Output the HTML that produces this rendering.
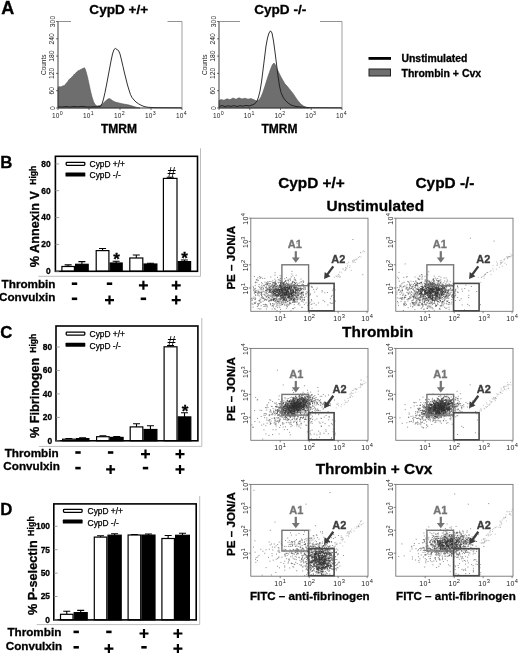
<!DOCTYPE html>
<html><head><meta charset="utf-8"><title>Figure</title>
<style>
html,body{margin:0;padding:0;background:#fff;}
body{width:520px;height:653px;overflow:hidden;font-family:"Liberation Sans",sans-serif;}
svg{display:block;will-change:transform;}
svg text{font-family:"Liberation Sans",sans-serif;}
</style></head><body>
<svg width="520" height="653" viewBox="0 0 520 653">
<defs><filter id="bl" x="-5%" y="-5%" width="110%" height="110%"><feGaussianBlur stdDeviation="0.35"/></filter></defs>
<rect width="520" height="653" fill="#fff"/>
<text x="1.2" y="14" font-size="18" font-weight="bold" text-anchor="start" fill="#000"  stroke="#000" stroke-width="0.3">A</text>
<path d="M58.0,108.0 L58.0,87.4 L59.5,86.5 L61.0,87.0 L62.5,86.0 L64.5,85.6 L66.0,83.6 L67.0,82.4 L68.0,81.2 L69.0,79.5 L70.0,79.0 L71.5,77.3 L73.0,76.2 L74.0,74.3 L75.0,74.4 L76.0,72.5 L77.0,72.2 L78.0,70.6 L79.0,71.0 L80.0,69.6 L81.0,70.0 L82.0,68.6 L83.0,68.8 L84.0,67.6 L85.0,68.5 L86.0,71.5 L87.5,77.0 L89.0,84.0 L90.5,91.0 L92.0,97.0 L93.5,101.5 L95.0,104.5 L97.0,106.0 L100.0,105.5 L102.0,104.5 L104.0,102.5 L106.0,100.5 L108.0,99.0 L109.5,98.5 L111.0,99.5 L113.0,101.0 L116.0,102.3 L119.0,103.0 L122.0,103.7 L125.0,104.3 L128.0,104.8 L131.0,105.6 L134.0,106.6 L137.0,107.4 L140.0,108.0 Z" fill="#6e6e6e" stroke="#555" stroke-width="0.6"/>
<path d="M58.0,106.8 L62.0,107.0 L66.0,106.5 L70.0,107.0 L74.0,106.4 L78.0,106.8 L82.0,106.3 L86.0,106.8 L90.0,107.0 L94.0,106.7 L98.0,106.8 L100.5,106.3 L102.0,104.0 L103.5,99.0 L105.0,92.5 L106.5,85.0 L108.0,77.0 L109.5,69.0 L111.0,61.0 L112.5,54.0 L114.0,49.5 L115.5,48.4 L117.0,49.6 L118.5,50.5 L120.0,54.0 L121.5,60.0 L123.0,66.5 L124.5,73.0 L126.0,79.0 L127.5,85.0 L129.0,90.0 L130.5,94.5 L132.0,97.5 L134.0,100.0 L136.0,102.0 L138.5,103.8 L141.0,105.2 L144.0,106.5 L148.0,107.3 L155.0,107.6 L182.0,107.8" fill="none" stroke="#1a1a1a" stroke-width="0.9" stroke-linejoin="round"/>
<path d="M58,21.5 V108 H182" fill="none" stroke="#333" stroke-width="0.95"/>
<path d="M182,21.5 V108" fill="none" stroke="#888" stroke-width="0.8"/>
<path d="M58,21.5 H71 M167.5,21.5 H182" fill="none" stroke="#777" stroke-width="0.8"/>
<path d="M56,108.0 H58" stroke="#333" stroke-width="0.7"/>
<text x="54.5" y="108.0" font-size="6.8" font-weight="normal" text-anchor="middle" fill="#222" transform="rotate(-90 54.5 108.0)" >0</text>
<path d="M56,90.7 H58" stroke="#333" stroke-width="0.7"/>
<text x="54.5" y="90.7" font-size="6.8" font-weight="normal" text-anchor="middle" fill="#222" transform="rotate(-90 54.5 90.7)" >60</text>
<path d="M56,73.4 H58" stroke="#333" stroke-width="0.7"/>
<text x="54.5" y="73.4" font-size="6.8" font-weight="normal" text-anchor="middle" fill="#222" transform="rotate(-90 54.5 73.4)" >120</text>
<path d="M56,56.1 H58" stroke="#333" stroke-width="0.7"/>
<text x="54.5" y="56.1" font-size="6.8" font-weight="normal" text-anchor="middle" fill="#222" transform="rotate(-90 54.5 56.1)" >180</text>
<path d="M56,38.8 H58" stroke="#333" stroke-width="0.7"/>
<text x="54.5" y="38.8" font-size="6.8" font-weight="normal" text-anchor="middle" fill="#222" transform="rotate(-90 54.5 38.8)" >240</text>
<path d="M56,21.5 H58" stroke="#333" stroke-width="0.7"/>
<text x="54.5" y="21.5" font-size="6.8" font-weight="normal" text-anchor="middle" fill="#222" transform="rotate(-90 54.5 21.5)" >300</text>
<text x="45.5" y="64.75" font-size="6.5" font-weight="normal" text-anchor="middle" fill="#222" transform="rotate(-90 45.5 64.75)" >Counts</text>
<path d="M58.0,108 V110" stroke="#333" stroke-width="0.7"/>
<text x="57.5" y="117.5" font-size="6.5" font-weight="normal" text-anchor="middle" fill="#222" letter-spacing="0.3">10<tspan dy="-2.7" font-size="5.3">0</tspan></text>
<path d="M89.0,108 V110" stroke="#333" stroke-width="0.7"/>
<text x="88.5" y="117.5" font-size="6.5" font-weight="normal" text-anchor="middle" fill="#222" letter-spacing="0.3">10<tspan dy="-2.7" font-size="5.3">1</tspan></text>
<path d="M120.0,108 V110" stroke="#333" stroke-width="0.7"/>
<text x="119.5" y="117.5" font-size="6.5" font-weight="normal" text-anchor="middle" fill="#222" letter-spacing="0.3">10<tspan dy="-2.7" font-size="5.3">2</tspan></text>
<path d="M151.0,108 V110" stroke="#333" stroke-width="0.7"/>
<text x="150.5" y="117.5" font-size="6.5" font-weight="normal" text-anchor="middle" fill="#222" letter-spacing="0.3">10<tspan dy="-2.7" font-size="5.3">3</tspan></text>
<path d="M182.0,108 V110" stroke="#333" stroke-width="0.7"/>
<text x="181.5" y="117.5" font-size="6.5" font-weight="normal" text-anchor="middle" fill="#222" letter-spacing="0.3">10<tspan dy="-2.7" font-size="5.3">4</tspan></text>
<text x="118.8" y="13.8" font-size="13.6" font-weight="bold" text-anchor="middle" fill="#000"  stroke="#000" stroke-width="0.3">CypD +/+</text>
<text x="119.0" y="133" font-size="12" font-weight="bold" text-anchor="middle" fill="#000"  stroke="#000" stroke-width="0.3">TMRM</text>
<path d="M219.0,108.0 L219.0,100.5 L221.0,99.5 L224.0,100.3 L227.0,98.8 L230.0,99.8 L233.0,98.0 L236.0,99.3 L239.0,97.8 L242.0,99.0 L245.0,98.2 L248.0,99.2 L251.0,98.6 L254.0,99.8 L256.5,101.0 L259.0,100.0 L261.0,97.0 L263.0,92.0 L265.0,86.0 L267.0,79.5 L269.0,73.5 L271.0,68.0 L272.5,64.5 L274.0,63.0 L275.5,65.0 L277.0,69.0 L279.0,73.0 L281.0,77.0 L283.0,80.5 L285.0,84.0 L287.0,86.0 L289.0,88.5 L291.0,91.0 L293.0,93.5 L295.0,96.5 L297.0,99.5 L299.0,102.0 L301.0,104.3 L303.5,106.0 L306.0,107.2 L309.0,108.0 Z" fill="#6e6e6e" stroke="#555" stroke-width="0.6"/>
<path d="M219.0,106.5 L222.0,105.5 L225.0,106.6 L228.0,105.8 L231.0,106.4 L234.0,105.6 L237.0,106.5 L240.0,105.7 L243.0,106.2 L246.0,105.4 L249.0,106.0 L252.0,105.0 L254.5,104.0 L257.0,101.0 L258.5,97.0 L260.0,91.0 L261.5,82.0 L263.0,70.0 L264.5,58.0 L266.0,46.0 L267.5,38.0 L269.0,33.0 L270.5,30.8 L272.0,33.0 L273.5,41.0 L275.0,52.0 L276.5,64.0 L278.0,76.0 L279.5,86.0 L281.0,92.5 L283.0,97.0 L285.0,100.0 L288.0,103.0 L291.0,105.0 L295.0,106.3 L300.0,107.0 L310.0,107.6 L342.0,107.8" fill="none" stroke="#1a1a1a" stroke-width="0.9" stroke-linejoin="round"/>
<path d="M219,21.5 V108 H342" fill="none" stroke="#333" stroke-width="0.95"/>
<path d="M342,21.5 V108" fill="none" stroke="#888" stroke-width="0.8"/>
<path d="M219,21.5 H240 M320,21.5 H342" fill="none" stroke="#777" stroke-width="0.8"/>
<path d="M217,108.0 H219" stroke="#333" stroke-width="0.7"/>
<text x="215.5" y="108.0" font-size="6.8" font-weight="normal" text-anchor="middle" fill="#222" transform="rotate(-90 215.5 108.0)" >0</text>
<path d="M217,90.7 H219" stroke="#333" stroke-width="0.7"/>
<text x="215.5" y="90.7" font-size="6.8" font-weight="normal" text-anchor="middle" fill="#222" transform="rotate(-90 215.5 90.7)" >60</text>
<path d="M217,73.4 H219" stroke="#333" stroke-width="0.7"/>
<text x="215.5" y="73.4" font-size="6.8" font-weight="normal" text-anchor="middle" fill="#222" transform="rotate(-90 215.5 73.4)" >120</text>
<path d="M217,56.1 H219" stroke="#333" stroke-width="0.7"/>
<text x="215.5" y="56.1" font-size="6.8" font-weight="normal" text-anchor="middle" fill="#222" transform="rotate(-90 215.5 56.1)" >180</text>
<path d="M217,38.8 H219" stroke="#333" stroke-width="0.7"/>
<text x="215.5" y="38.8" font-size="6.8" font-weight="normal" text-anchor="middle" fill="#222" transform="rotate(-90 215.5 38.8)" >240</text>
<path d="M217,21.5 H219" stroke="#333" stroke-width="0.7"/>
<text x="215.5" y="21.5" font-size="6.8" font-weight="normal" text-anchor="middle" fill="#222" transform="rotate(-90 215.5 21.5)" >300</text>
<text x="206.5" y="64.75" font-size="6.5" font-weight="normal" text-anchor="middle" fill="#222" transform="rotate(-90 206.5 64.75)" >Counts</text>
<path d="M219.0,108 V110" stroke="#333" stroke-width="0.7"/>
<text x="218.5" y="117.5" font-size="6.5" font-weight="normal" text-anchor="middle" fill="#222" letter-spacing="0.3">10<tspan dy="-2.7" font-size="5.3">0</tspan></text>
<path d="M249.8,108 V110" stroke="#333" stroke-width="0.7"/>
<text x="249.2" y="117.5" font-size="6.5" font-weight="normal" text-anchor="middle" fill="#222" letter-spacing="0.3">10<tspan dy="-2.7" font-size="5.3">1</tspan></text>
<path d="M280.5,108 V110" stroke="#333" stroke-width="0.7"/>
<text x="280.0" y="117.5" font-size="6.5" font-weight="normal" text-anchor="middle" fill="#222" letter-spacing="0.3">10<tspan dy="-2.7" font-size="5.3">2</tspan></text>
<path d="M311.2,108 V110" stroke="#333" stroke-width="0.7"/>
<text x="310.8" y="117.5" font-size="6.5" font-weight="normal" text-anchor="middle" fill="#222" letter-spacing="0.3">10<tspan dy="-2.7" font-size="5.3">3</tspan></text>
<path d="M342.0,108 V110" stroke="#333" stroke-width="0.7"/>
<text x="341.5" y="117.5" font-size="6.5" font-weight="normal" text-anchor="middle" fill="#222" letter-spacing="0.3">10<tspan dy="-2.7" font-size="5.3">4</tspan></text>
<text x="280.2" y="13.8" font-size="13.6" font-weight="bold" text-anchor="middle" fill="#000"  stroke="#000" stroke-width="0.3">CypD -/-</text>
<text x="279.5" y="133" font-size="12" font-weight="bold" text-anchor="middle" fill="#000"  stroke="#000" stroke-width="0.3">TMRM</text>
<rect x="368.5" y="57" width="22.5" height="2.8" fill="#000"/>
<rect x="369" y="69" width="21.5" height="7" fill="#6e6e6e" stroke="#222" stroke-width="1"/>
<text x="401.5" y="62" font-size="10.4" font-weight="bold" text-anchor="start" fill="#000"  stroke="#000" stroke-width="0.3">Unstimulated</text>
<text x="401.5" y="77.4" font-size="10.5" font-weight="bold" text-anchor="start" fill="#000"  stroke="#000" stroke-width="0.3">Thrombin + Cvx</text>
<path d="M38.4,276.3 H200.5 V148.3" fill="none" stroke="#bdbdbd" stroke-width="1"/>
<text x="0.3" y="167.9" font-size="16.8" font-weight="bold" text-anchor="start" fill="#000"  stroke="#000" stroke-width="0.3">B</text>
<path d="M68.15,266.5 V264.9 M64.65,264.9 H71.65" stroke="#000" stroke-width="1.1" fill="none"/>
<rect x="61.9" y="266.5" width="12.5" height="4.8" fill="#fff" stroke="#000" stroke-width="1.2"/>
<path d="M81.9,264.3 V261.6 M78.4,261.6 H85.4" stroke="#000" stroke-width="1.1" fill="none"/>
<rect x="75.6" y="264.3" width="12.6" height="7.0" fill="#000" stroke="#000" stroke-width="1.2"/>
<path d="M102.55,250.6 V248.5 M99.05,248.5 H106.05" stroke="#000" stroke-width="1.1" fill="none"/>
<rect x="96.2" y="250.6" width="12.7" height="20.7" fill="#fff" stroke="#000" stroke-width="1.2"/>
<path d="M116.15,263.0 V261.2 M112.65,261.2 H119.65" stroke="#000" stroke-width="1.1" fill="none"/>
<rect x="110.1" y="263.0" width="12.1" height="8.3" fill="#000" stroke="#000" stroke-width="1.2"/>
<path d="M136.3,258.0 V255.0 M132.8,255.0 H139.8" stroke="#000" stroke-width="1.1" fill="none"/>
<rect x="129.8" y="258.0" width="13.0" height="13.3" fill="#fff" stroke="#000" stroke-width="1.2"/>
<path d="M150.45,264.0 V263.2 M146.95,263.2 H153.95" stroke="#000" stroke-width="1.1" fill="none"/>
<rect x="144.0" y="264.0" width="12.9" height="7.3" fill="#000" stroke="#000" stroke-width="1.2"/>
<path d="M170.2,178.4 V177.3 M166.7,177.3 H173.7" stroke="#000" stroke-width="1.1" fill="none"/>
<rect x="163.4" y="178.4" width="13.6" height="92.9" fill="#fff" stroke="#000" stroke-width="1.2"/>
<path d="M184.39999999999998,261.6 V260.0 M180.89999999999998,260.0 H187.89999999999998" stroke="#000" stroke-width="1.1" fill="none"/>
<rect x="178.2" y="261.6" width="12.4" height="9.7" fill="#000" stroke="#000" stroke-width="1.2"/>
<rect x="55.4" y="156.3" width="142.1" height="115.0" fill="none" stroke="#000" stroke-width="1.6"/>
<path d="M55.4,271.3 H59.199999999999996" stroke="#8a8a8a" stroke-width="0.8"/>
<text x="50.6" y="274.1" font-size="8.4" font-weight="bold" text-anchor="end" fill="#000"  stroke="#000" stroke-width="0.3">0</text>
<path d="M55.4,244.4 H59.199999999999996" stroke="#8a8a8a" stroke-width="0.8"/>
<text x="50.6" y="247.2" font-size="8.4" font-weight="bold" text-anchor="end" fill="#000"  stroke="#000" stroke-width="0.3">20</text>
<path d="M55.4,217.6 H59.199999999999996" stroke="#8a8a8a" stroke-width="0.8"/>
<text x="50.6" y="220.4" font-size="8.4" font-weight="bold" text-anchor="end" fill="#000"  stroke="#000" stroke-width="0.3">40</text>
<path d="M55.4,190.7 H59.199999999999996" stroke="#8a8a8a" stroke-width="0.8"/>
<text x="50.6" y="193.5" font-size="8.4" font-weight="bold" text-anchor="end" fill="#000"  stroke="#000" stroke-width="0.3">60</text>
<path d="M55.4,163.9 H59.199999999999996" stroke="#8a8a8a" stroke-width="0.8"/>
<text x="50.6" y="166.7" font-size="8.4" font-weight="bold" text-anchor="end" fill="#000"  stroke="#000" stroke-width="0.3">80</text>
<rect x="66.2" y="162.3" width="18.6" height="3.0" rx="0.8" fill="#fff" stroke="#000" stroke-width="1.3"/>
<rect x="65.5" y="172.6" width="19.8" height="3.9" rx="0.6" fill="#000"/>
<text x="89.6" y="167.1" font-size="8.4" font-weight="normal" text-anchor="start" fill="#000" stroke="#000" stroke-width="0.25">CypD +/+</text>
<text x="89.6" y="178.4" font-size="8.4" font-weight="normal" text-anchor="start" fill="#000" stroke="#000" stroke-width="0.25">CypD -/-</text>
<text x="39.2" y="267.3" font-size="12.7" font-weight="bold" text-anchor="start" fill="#000" transform="rotate(-90 39.2 267.3)"  stroke="#000" stroke-width="0.3">% Annexin V</text>
<text x="35.8" y="184.8" font-size="8.6" font-weight="bold" text-anchor="start" fill="#000" transform="rotate(-90 35.8 184.8)"  stroke="#000" stroke-width="0.3">High</text>
<text x="55.5" y="288" font-size="11.7" font-weight="bold" text-anchor="end" fill="#000"  stroke="#000" stroke-width="0.3">Thrombin</text>
<text x="55.5" y="301.0" font-size="11.7" font-weight="bold" text-anchor="end" fill="#000"  stroke="#000" stroke-width="0.3">Convulxin</text>
<path d="M71.8,283.7 H77.2" stroke="#000" stroke-width="2.6"/>
<path d="M71.8,298.8 H77.2" stroke="#000" stroke-width="2.6"/>
<path d="M106.8,283.7 H112.2" stroke="#000" stroke-width="2.6"/>
<path d="M105.0,300.1 H114.0 M109.5,295.6 V304.6" stroke="#000" stroke-width="2.2"/>
<path d="M138.9,285.3 H147.9 M143.4,280.8 V289.8" stroke="#000" stroke-width="2.2"/>
<path d="M140.70000000000002,298.8 H146.1" stroke="#000" stroke-width="2.6"/>
<path d="M171.7,285.3 H180.7 M176.2,280.8 V289.8" stroke="#000" stroke-width="2.2"/>
<path d="M171.7,300.1 H180.7 M176.2,295.6 V304.6" stroke="#000" stroke-width="2.2"/>
<text x="171.7" y="177.3" font-size="15" font-weight="normal" text-anchor="middle" fill="#000" >#</text>
<text x="116.5" y="265.2" font-size="17" font-weight="bold" text-anchor="middle" fill="#000"  stroke="#000" stroke-width="0.3">*</text>
<text x="184.6" y="264.4" font-size="17" font-weight="bold" text-anchor="middle" fill="#000"  stroke="#000" stroke-width="0.3">*</text>
<path d="M39,446.4 H201.8 V318" fill="none" stroke="#bdbdbd" stroke-width="1"/>
<text x="0.3" y="337.9" font-size="16.8" font-weight="bold" text-anchor="start" fill="#000"  stroke="#000" stroke-width="0.3">C</text>
<path d="M68.9,439.2 V438.6 M65.4,438.6 H72.4" stroke="#000" stroke-width="1.1" fill="none"/>
<rect x="62.6" y="439.2" width="12.6" height="1.6" fill="#fff" stroke="#000" stroke-width="1.2"/>
<path d="M82.65,438.6 V437.9 M79.15,437.9 H86.15" stroke="#000" stroke-width="1.1" fill="none"/>
<rect x="76.4" y="438.6" width="12.5" height="2.2" fill="#000" stroke="#000" stroke-width="1.2"/>
<path d="M102.9,436.7 V435.8 M99.4,435.8 H106.4" stroke="#000" stroke-width="1.1" fill="none"/>
<rect x="96.6" y="436.7" width="12.6" height="4.1" fill="#fff" stroke="#000" stroke-width="1.2"/>
<path d="M116.75,437.4 V436.5 M113.25,436.5 H120.25" stroke="#000" stroke-width="1.1" fill="none"/>
<rect x="110.4" y="437.4" width="12.7" height="3.4" fill="#000" stroke="#000" stroke-width="1.2"/>
<path d="M136.5,426.9 V423.8 M133.0,423.8 H140.0" stroke="#000" stroke-width="1.1" fill="none"/>
<rect x="130.2" y="426.9" width="12.6" height="13.9" fill="#fff" stroke="#000" stroke-width="1.2"/>
<path d="M150.45,429.5 V425.8 M146.95,425.8 H153.95" stroke="#000" stroke-width="1.1" fill="none"/>
<rect x="144.0" y="429.5" width="12.9" height="11.3" fill="#000" stroke="#000" stroke-width="1.2"/>
<path d="M170.55,346.8 V345.6 M167.05,345.6 H174.05" stroke="#000" stroke-width="1.1" fill="none"/>
<rect x="164.1" y="346.8" width="12.9" height="94.0" fill="#fff" stroke="#000" stroke-width="1.2"/>
<path d="M184.5,416.9 V412.7 M181.0,412.7 H188.0" stroke="#000" stroke-width="1.1" fill="none"/>
<rect x="178.2" y="416.9" width="12.6" height="23.9" fill="#000" stroke="#000" stroke-width="1.2"/>
<rect x="56" y="326" width="141.9" height="114.80000000000001" fill="none" stroke="#000" stroke-width="1.6"/>
<path d="M56,440.8 H59.8" stroke="#8a8a8a" stroke-width="0.8"/>
<text x="52.2" y="443.6" font-size="8.4" font-weight="bold" text-anchor="end" fill="#000"  stroke="#000" stroke-width="0.3">0</text>
<path d="M56,417.4 H59.8" stroke="#8a8a8a" stroke-width="0.8"/>
<text x="52.2" y="420.2" font-size="8.4" font-weight="bold" text-anchor="end" fill="#000"  stroke="#000" stroke-width="0.3">20</text>
<path d="M56,393.9 H59.8" stroke="#8a8a8a" stroke-width="0.8"/>
<text x="52.2" y="396.7" font-size="8.4" font-weight="bold" text-anchor="end" fill="#000"  stroke="#000" stroke-width="0.3">40</text>
<path d="M56,370.5 H59.8" stroke="#8a8a8a" stroke-width="0.8"/>
<text x="52.2" y="373.3" font-size="8.4" font-weight="bold" text-anchor="end" fill="#000"  stroke="#000" stroke-width="0.3">60</text>
<path d="M56,347.0 H59.8" stroke="#8a8a8a" stroke-width="0.8"/>
<text x="52.2" y="349.8" font-size="8.4" font-weight="bold" text-anchor="end" fill="#000"  stroke="#000" stroke-width="0.3">80</text>
<rect x="66.2" y="332.1" width="18.6" height="3.0" rx="0.8" fill="#fff" stroke="#000" stroke-width="1.3"/>
<rect x="65.5" y="342.8" width="19.8" height="3.9" rx="0.6" fill="#000"/>
<text x="89.6" y="336.9" font-size="8.4" font-weight="normal" text-anchor="start" fill="#000" stroke="#000" stroke-width="0.25">CypD +/+</text>
<text x="89.6" y="348.6" font-size="8.4" font-weight="normal" text-anchor="start" fill="#000" stroke="#000" stroke-width="0.25">CypD -/-</text>
<text x="39.4" y="438" font-size="12.7" font-weight="bold" text-anchor="start" fill="#000" transform="rotate(-90 39.4 438)"  stroke="#000" stroke-width="0.3">% Fibrinogen</text>
<text x="35.8" y="352.8" font-size="8.6" font-weight="bold" text-anchor="start" fill="#000" transform="rotate(-90 35.8 352.8)"  stroke="#000" stroke-width="0.3">High</text>
<text x="58.6" y="456.8" font-size="11.7" font-weight="bold" text-anchor="end" fill="#000"  stroke="#000" stroke-width="0.3">Thrombin</text>
<text x="59.8" y="470.3" font-size="11.7" font-weight="bold" text-anchor="end" fill="#000"  stroke="#000" stroke-width="0.3">Convulxin</text>
<path d="M75.3,452.5 H80.7" stroke="#000" stroke-width="2.6"/>
<path d="M75.3,468.1 H80.7" stroke="#000" stroke-width="2.6"/>
<path d="M107.89999999999999,452.5 H113.3" stroke="#000" stroke-width="2.6"/>
<path d="M106.1,469.40000000000003 H115.1 M110.6,464.90000000000003 V473.90000000000003" stroke="#000" stroke-width="2.2"/>
<path d="M141.0,454.1 H150.0 M145.5,449.6 V458.6" stroke="#000" stroke-width="2.2"/>
<path d="M142.8,468.1 H148.2" stroke="#000" stroke-width="2.6"/>
<path d="M175.5,454.1 H184.5 M180,449.6 V458.6" stroke="#000" stroke-width="2.2"/>
<path d="M175.5,469.40000000000003 H184.5 M180,464.90000000000003 V473.90000000000003" stroke="#000" stroke-width="2.2"/>
<text x="171.7" y="346" font-size="15" font-weight="normal" text-anchor="middle" fill="#000" >#</text>
<text x="185" y="417" font-size="17" font-weight="bold" text-anchor="middle" fill="#000"  stroke="#000" stroke-width="0.3">*</text>
<path d="M36.8,624.6 H199.7 V495.9" fill="none" stroke="#bdbdbd" stroke-width="1"/>
<text x="0.3" y="514.9" font-size="16.8" font-weight="bold" text-anchor="start" fill="#000"  stroke="#000" stroke-width="0.3">D</text>
<path d="M66.75,614.3 V611.3 M63.25,611.3 H70.25" stroke="#000" stroke-width="1.1" fill="none"/>
<rect x="60.5" y="614.3" width="12.5" height="5.6" fill="#fff" stroke="#000" stroke-width="1.2"/>
<path d="M80.69999999999999,612.6 V610.4 M77.19999999999999,610.4 H84.19999999999999" stroke="#000" stroke-width="1.1" fill="none"/>
<rect x="74.2" y="612.6" width="13.0" height="7.3" fill="#000" stroke="#000" stroke-width="1.2"/>
<path d="M100.55000000000001,537.1 V535.8 M97.05000000000001,535.8 H104.05000000000001" stroke="#000" stroke-width="1.1" fill="none"/>
<rect x="94.3" y="537.1" width="12.5" height="82.8" fill="#fff" stroke="#000" stroke-width="1.2"/>
<path d="M114.6,535.2 V533.7 M111.1,533.7 H118.1" stroke="#000" stroke-width="1.1" fill="none"/>
<rect x="108.0" y="535.2" width="13.2" height="84.7" fill="#000" stroke="#000" stroke-width="1.2"/>
<path d="M134.4,535.0 V534.5 M130.9,534.5 H137.9" stroke="#000" stroke-width="1.1" fill="none"/>
<rect x="128.1" y="535.0" width="12.6" height="84.9" fill="#fff" stroke="#000" stroke-width="1.2"/>
<path d="M148.45,535.1 V534.0 M144.95,534.0 H151.95" stroke="#000" stroke-width="1.1" fill="none"/>
<rect x="141.9" y="535.1" width="13.1" height="84.8" fill="#000" stroke="#000" stroke-width="1.2"/>
<path d="M168.15,538.5 V535.5 M164.65,535.5 H171.65" stroke="#000" stroke-width="1.1" fill="none"/>
<rect x="161.9" y="538.5" width="12.5" height="81.4" fill="#fff" stroke="#000" stroke-width="1.2"/>
<path d="M182.5,535.3 V533.2 M179.0,533.2 H186.0" stroke="#000" stroke-width="1.1" fill="none"/>
<rect x="175.6" y="535.3" width="13.8" height="84.6" fill="#000" stroke="#000" stroke-width="1.2"/>
<rect x="53.8" y="503.9" width="142.39999999999998" height="116.0" fill="none" stroke="#000" stroke-width="1.6"/>
<path d="M53.8,619.9 H57.599999999999994" stroke="#8a8a8a" stroke-width="0.8"/>
<text x="50.0" y="622.7" font-size="8.4" font-weight="bold" text-anchor="end" fill="#000"  stroke="#000" stroke-width="0.3">0</text>
<path d="M53.8,596.5 H57.599999999999994" stroke="#8a8a8a" stroke-width="0.8"/>
<text x="50.0" y="599.3" font-size="8.4" font-weight="bold" text-anchor="end" fill="#000"  stroke="#000" stroke-width="0.3">25</text>
<path d="M53.8,573.1 H57.599999999999994" stroke="#8a8a8a" stroke-width="0.8"/>
<text x="50.0" y="575.9" font-size="8.4" font-weight="bold" text-anchor="end" fill="#000"  stroke="#000" stroke-width="0.3">50</text>
<path d="M53.8,549.7 H57.599999999999994" stroke="#8a8a8a" stroke-width="0.8"/>
<text x="50.0" y="552.5" font-size="8.4" font-weight="bold" text-anchor="end" fill="#000"  stroke="#000" stroke-width="0.3">75</text>
<path d="M53.8,526.3 H57.599999999999994" stroke="#8a8a8a" stroke-width="0.8"/>
<text x="50.0" y="529.1" font-size="8.4" font-weight="bold" text-anchor="end" fill="#000"  stroke="#000" stroke-width="0.3">100</text>
<rect x="63.5" y="509.3" width="18.6" height="3.0" rx="0.8" fill="#fff" stroke="#000" stroke-width="1.3"/>
<rect x="62.8" y="519.6" width="19.8" height="3.9" rx="0.6" fill="#000"/>
<text x="87.6" y="514.1" font-size="8.4" font-weight="normal" text-anchor="start" fill="#000" stroke="#000" stroke-width="0.25">CypD +/+</text>
<text x="87.6" y="525.5" font-size="8.4" font-weight="normal" text-anchor="start" fill="#000" stroke="#000" stroke-width="0.25">CypD -/-</text>
<text x="37" y="615" font-size="12.7" font-weight="bold" text-anchor="start" fill="#000" transform="rotate(-90 37 615)"  stroke="#000" stroke-width="0.3">% P-selectin</text>
<text x="33.8" y="535.9" font-size="8.9" font-weight="bold" text-anchor="start" fill="#000" transform="rotate(-90 33.8 535.9)"  stroke="#000" stroke-width="0.3">High</text>
<text x="61.3" y="636.2" font-size="11.7" font-weight="bold" text-anchor="end" fill="#000"  stroke="#000" stroke-width="0.3">Thrombin</text>
<text x="62.2" y="649.5" font-size="11.7" font-weight="bold" text-anchor="end" fill="#000"  stroke="#000" stroke-width="0.3">Convulxin</text>
<path d="M73.5,631.9000000000001 H78.9" stroke="#000" stroke-width="2.6"/>
<path d="M73.5,647.3 H78.9" stroke="#000" stroke-width="2.6"/>
<path d="M106.2,631.9000000000001 H111.60000000000001" stroke="#000" stroke-width="2.6"/>
<path d="M104.4,648.6 H113.4 M108.9,644.1 V653.1" stroke="#000" stroke-width="2.2"/>
<path d="M139.5,633.5 H148.5 M144,629.0 V638.0" stroke="#000" stroke-width="2.2"/>
<path d="M141.3,647.3 H146.7" stroke="#000" stroke-width="2.6"/>
<path d="M173.4,633.5 H182.4 M177.9,629.0 V638.0" stroke="#000" stroke-width="2.2"/>
<path d="M173.4,648.6 H182.4 M177.9,644.1 V653.1" stroke="#000" stroke-width="2.2"/>
<text x="311.5" y="188" font-size="15.4" font-weight="bold" text-anchor="middle" fill="#000"  stroke="#000" stroke-width="0.3">CypD +/+</text>
<text x="445" y="188" font-size="15.4" font-weight="bold" text-anchor="middle" fill="#000"  stroke="#000" stroke-width="0.3">CypD -/-</text>
<text x="375.3" y="211" font-size="15.4" font-weight="bold" text-anchor="middle" fill="#000"  stroke="#000" stroke-width="0.3">Unstimulated</text>
<text x="377.6" y="336.6" font-size="15.4" font-weight="bold" text-anchor="middle" fill="#000"  stroke="#000" stroke-width="0.3">Thrombin</text>
<text x="374" y="473.8" font-size="15.4" font-weight="bold" text-anchor="middle" fill="#000"  stroke="#000" stroke-width="0.3">Thrombin + Cvx</text>
<path d="M301.2,281.7h1M281.8,294.1h1M286.3,294.6h1M289.6,285.9h1M278.9,290.9h1M286.0,293.8h1M286.0,283.0h1M270.2,288.0h1M295.1,287.3h1M291.4,294.3h1M280.4,288.6h1M284.4,289.3h1M290.5,287.2h1M283.6,285.2h1M283.8,285.3h1M272.9,290.4h1M291.0,287.6h1M287.1,297.4h1M288.4,287.9h1M272.2,287.7h1M300.8,293.3h1M287.4,295.4h1M282.5,291.6h1M304.2,297.7h1M285.6,289.5h1M272.9,289.7h1M282.3,296.3h1M265.4,291.0h1M295.4,285.6h1M282.2,285.7h1M279.3,285.9h1M295.6,292.1h1M271.1,293.1h1M290.8,293.4h1M267.4,288.1h1M280.0,278.8h1M275.1,283.8h1M299.1,282.9h1M301.9,284.1h1M283.0,299.8h1M293.5,292.3h1M284.4,293.6h1M291.1,284.7h1M279.2,282.3h1M270.6,294.8h1M269.8,291.1h1M289.4,288.3h1M306.2,293.9h1M288.4,294.6h1M281.3,294.9h1M303.2,286.6h1M288.1,296.1h1M286.9,285.3h1M288.3,290.8h1M284.8,287.3h1M283.2,283.1h1M273.1,294.8h1M290.5,295.6h1M285.1,289.0h1M296.7,296.8h1M282.7,295.2h1M268.8,291.9h1M285.1,290.5h1M301.3,297.9h1M282.5,293.3h1M278.0,288.2h1M275.2,284.2h1M276.5,301.7h1M283.3,284.4h1M275.4,286.6h1M299.5,297.0h1M283.4,299.1h1M287.0,289.1h1M298.9,293.5h1M299.5,290.6h1M284.1,286.7h1M289.0,293.2h1M292.6,290.4h1M284.2,288.8h1M270.0,286.6h1M291.9,282.0h1M294.0,282.3h1M289.7,290.0h1M277.7,292.5h1M284.2,278.8h1M280.7,287.9h1M283.3,289.0h1M297.7,297.1h1M299.7,287.2h1M292.0,295.4h1M290.9,293.7h1M292.1,298.3h1M285.9,294.0h1M285.3,291.0h1M279.9,299.2h1M285.5,296.0h1M306.3,291.7h1M293.8,297.9h1M282.9,297.9h1M281.7,295.7h1M278.2,298.7h1M289.3,288.0h1M289.5,296.5h1M273.0,287.2h1M290.4,286.4h1M280.9,297.6h1M298.8,291.1h1M287.4,293.8h1M301.4,297.3h1M281.9,293.0h1M283.4,292.6h1M288.7,287.5h1M295.5,285.9h1M291.1,297.1h1M274.9,293.4h1M287.6,288.5h1M286.2,285.1h1M282.1,304.2h1M280.1,284.5h1M301.7,292.2h1M282.5,283.2h1M278.4,293.5h1M291.7,295.7h1M287.2,291.0h1M285.3,285.1h1M293.0,291.1h1M290.4,303.7h1M289.2,287.7h1M294.7,299.8h1M288.5,296.5h1M280.4,297.4h1M282.7,301.0h1M281.3,297.9h1M287.9,296.5h1M276.3,294.5h1M269.5,291.6h1M286.8,293.1h1M274.0,299.1h1M268.4,292.2h1M289.3,286.1h1M279.6,286.3h1M290.4,290.6h1M281.2,288.0h1M275.9,286.6h1M274.8,284.1h1M281.3,282.3h1M283.5,293.0h1M278.6,292.7h1M283.4,283.5h1M272.2,283.0h1M286.1,283.1h1M269.8,303.7h1M284.2,292.4h1M292.3,308.5h1M295.8,287.4h1M301.4,291.0h1M272.0,291.0h1M292.8,292.0h1M296.8,284.4h1M294.8,292.8h1M277.6,285.8h1M289.7,288.3h1M302.7,289.4h1M272.5,288.8h1M290.3,290.7h1M296.0,297.1h1M279.7,287.5h1M291.2,287.5h1M276.3,292.0h1M278.7,287.4h1M278.6,286.5h1M287.7,298.1h1M285.2,292.0h1M294.6,293.6h1M277.5,296.1h1M284.8,289.6h1M294.6,295.8h1M291.0,293.6h1M274.1,290.0h1M292.0,289.4h1M281.7,289.6h1M289.4,279.4h1M288.7,294.0h1M297.0,290.0h1M287.0,297.7h1M269.3,288.7h1M273.7,285.2h1M292.6,284.9h1M283.7,294.7h1M296.2,292.8h1M288.4,284.6h1M279.2,291.8h1M295.7,286.2h1M278.7,296.4h1M267.5,284.0h1M304.6,285.8h1M268.8,288.8h1M291.7,295.5h1M294.4,292.1h1M287.3,290.5h1M270.8,289.9h1M295.1,291.8h1M273.0,292.4h1M273.9,290.3h1M282.7,283.9h1M293.1,301.9h1M288.7,298.6h1M293.3,299.5h1M282.0,294.9h1M284.4,300.5h1M275.7,288.4h1M283.1,290.8h1M291.3,292.6h1M283.3,294.9h1M290.3,290.5h1M280.8,290.3h1M280.6,289.5h1M286.3,295.1h1M284.2,287.8h1M291.3,299.1h1M287.6,284.7h1M301.6,307.6h1M284.0,294.4h1M283.9,297.7h1M276.6,287.1h1M286.2,299.2h1M292.1,281.6h1M279.3,299.5h1M285.5,280.5h1M292.4,288.9h1M284.8,291.1h1M281.3,289.0h1M294.7,279.7h1M286.9,286.6h1M289.5,303.1h1M296.5,285.0h1M296.3,290.1h1M282.9,299.9h1M281.3,287.3h1M288.5,297.7h1M284.8,290.3h1M268.9,290.0h1M297.5,294.7h1M286.2,287.9h1M292.6,296.7h1M275.4,290.3h1M297.6,294.2h1M280.7,292.3h1M285.0,281.1h1M273.4,290.7h1M284.5,297.0h1M283.9,291.9h1M284.3,295.4h1M289.9,291.1h1M286.5,290.4h1M294.8,290.8h1M281.8,290.8h1M277.0,294.2h1M285.8,288.9h1M291.6,285.7h1M297.2,294.6h1M293.3,291.6h1M270.1,291.0h1M289.4,284.6h1M299.1,285.6h1M286.5,295.2h1M281.3,290.9h1M288.8,299.2h1M281.4,296.4h1M291.7,291.2h1M285.9,287.9h1M298.5,286.2h1M290.5,292.9h1M279.5,298.5h1M291.4,289.2h1M294.4,292.2h1M280.9,289.0h1M282.1,290.4h1M265.2,287.5h1M294.1,287.8h1M280.7,286.8h1M266.9,293.7h1M270.1,286.0h1M284.0,293.9h1M292.8,290.8h1M285.2,281.4h1M290.2,289.4h1M276.1,297.5h1M273.9,283.4h1M294.0,286.0h1M290.4,285.2h1M285.7,290.2h1M297.5,289.5h1M277.4,292.5h1M282.2,295.0h1M295.2,283.2h1M302.5,293.2h1M286.1,293.8h1M301.1,293.6h1M280.6,281.4h1M288.9,286.6h1M284.4,293.2h1M271.7,291.5h1M288.3,288.6h1M294.4,286.6h1M284.6,299.8h1M285.3,286.5h1M298.5,292.4h1M274.7,294.9h1M272.5,293.4h1M280.1,287.1h1M275.2,282.0h1M298.1,290.5h1M288.8,288.3h1M278.2,295.6h1M280.4,288.7h1M311.7,286.9h1M280.5,299.2h1M279.1,294.0h1M288.7,287.1h1M291.7,300.6h1M288.0,293.3h1M277.8,288.1h1M275.5,300.2h1M291.3,293.4h1M285.5,291.0h1M271.2,286.6h1M296.5,298.1h1M293.0,285.4h1M283.8,289.7h1M283.6,284.9h1M288.1,285.1h1M279.8,289.5h1M273.8,288.7h1M288.9,300.5h1M273.0,298.4h1M289.5,296.6h1M273.0,293.1h1M285.1,286.3h1M284.8,300.7h1M302.0,293.0h1M276.4,298.3h1M273.2,299.5h1M280.2,283.5h1M275.9,290.8h1M280.7,282.6h1M289.8,285.0h1M292.9,296.2h1M300.9,301.1h1M279.3,280.3h1M309.7,293.4h1M303.8,297.3h1M284.1,287.6h1M265.4,290.6h1M285.2,294.8h1M286.6,293.1h1M265.3,290.4h1M286.6,290.9h1M284.2,287.3h1M278.9,293.2h1M291.6,293.1h1M295.0,288.1h1M281.6,289.6h1M288.0,285.5h1M280.1,292.6h1M278.9,291.8h1M286.7,297.4h1M290.7,283.3h1M280.9,298.7h1M266.1,290.2h1M291.3,296.0h1M271.6,289.5h1M287.1,287.3h1M302.0,300.0h1M285.8,292.4h1M275.3,300.6h1M272.8,283.8h1M296.5,293.6h1M285.8,299.6h1M290.8,295.0h1M294.3,284.3h1M285.5,283.4h1M283.2,284.5h1M277.5,295.4h1M258.2,292.1h1M272.3,282.6h1M285.4,295.2h1M284.4,293.1h1M289.6,296.3h1M284.8,297.5h1M287.4,284.9h1M293.1,287.9h1M278.0,288.9h1M283.4,288.2h1M271.5,285.9h1M294.7,283.3h1M286.3,291.3h1M290.4,293.1h1M299.9,296.7h1M295.7,285.5h1M285.4,294.0h1M293.1,299.2h1M273.1,292.7h1M289.9,291.2h1M287.2,286.9h1M271.4,286.0h1M298.0,295.2h1M279.6,295.5h1M292.1,293.0h1M282.2,297.7h1M294.9,291.9h1M297.8,288.8h1M278.5,291.1h1M272.2,299.8h1M284.8,297.6h1M293.6,284.5h1M282.6,296.7h1M280.5,287.4h1M290.4,287.9h1M261.1,293.0h1M280.0,296.6h1M273.5,290.2h1M288.6,296.0h1M279.4,292.2h1M275.9,290.7h1M282.8,295.1h1M272.8,292.5h1M285.9,292.9h1M279.8,297.8h1M282.6,292.3h1M279.5,294.7h1M294.2,301.0h1M285.0,293.1h1M290.7,292.8h1M290.3,294.5h1M278.7,302.2h1M291.1,287.2h1M289.1,287.7h1M288.8,287.8h1M282.4,289.6h1M282.1,297.9h1M293.0,290.6h1M305.6,296.2h1M278.5,279.7h1M290.8,294.0h1M282.7,287.7h1M293.0,299.5h1M289.9,297.5h1M295.5,294.1h1M260.8,287.6h1M280.6,288.4h1M277.1,289.8h1M285.0,301.1h1M279.5,285.3h1M280.2,296.2h1M292.1,282.7h1M303.1,281.4h1M260.6,286.9h1M283.2,286.0h1M288.8,298.0h1M286.0,277.6h1M282.9,290.1h1M273.8,286.0h1M277.5,295.8h1M292.5,291.6h1M295.7,297.6h1M286.8,292.6h1M278.5,291.2h1M286.8,289.9h1M283.8,283.9h1M290.9,288.7h1M287.0,290.0h1M280.4,291.1h1M287.7,280.6h1M275.4,294.4h1M293.4,285.0h1M296.6,301.7h1M275.4,295.9h1M289.8,289.1h1M277.1,292.1h1M295.6,275.3h1M294.1,277.6h1M283.9,299.3h1M294.9,297.0h1M282.1,292.0h1M280.2,282.1h1M280.9,285.3h1M284.7,289.5h1M283.1,298.8h1M287.4,295.8h1M280.4,305.5h1M292.9,299.4h1M295.2,289.0h1M281.5,287.1h1M273.1,298.2h1M292.5,290.7h1M296.2,282.6h1M284.5,290.4h1M274.4,292.9h1M288.4,288.0h1M299.7,288.5h1M269.1,290.8h1M290.3,294.1h1M283.2,293.5h1M278.3,290.8h1M290.5,294.2h1M274.3,284.2h1M288.7,286.5h1M297.8,285.5h1M287.6,280.5h1M278.1,282.9h1M270.0,283.7h1M274.4,289.3h1M269.4,292.3h1M300.4,279.1h1M283.7,294.8h1M276.6,294.5h1M274.3,295.9h1M276.4,290.1h1M283.0,289.0h1M274.4,285.8h1M301.1,292.5h1M279.3,300.5h1M278.9,289.6h1M288.7,286.1h1M299.0,291.1h1M297.9,292.0h1M281.6,288.3h1M288.3,283.7h1M287.3,291.6h1M290.7,298.8h1M288.3,294.3h1M277.5,292.1h1M274.6,300.8h1M287.6,287.2h1M275.3,295.3h1M298.2,288.6h1M286.3,290.2h1M276.7,292.9h1M283.1,282.6h1M281.4,294.2h1M284.8,294.8h1M294.5,289.7h1M273.0,286.8h1M269.2,291.3h1M289.0,296.5h1M284.4,287.6h1M287.4,288.1h1M290.0,280.3h1M284.3,292.4h1M293.2,290.1h1M277.9,294.3h1M286.6,299.2h1M278.5,290.9h1M275.8,286.8h1M291.5,296.7h1M291.1,294.9h1M268.5,297.5h1M275.9,284.2h1M288.6,294.6h1M295.6,288.2h1M280.0,295.9h1M284.3,290.9h1M273.3,294.6h1M308.6,303.7h1M290.3,290.9h1M294.0,288.5h1M291.9,302.3h1M294.4,292.2h1M291.5,293.6h1M283.0,297.0h1M292.7,292.6h1M286.7,301.6h1M297.6,290.0h1M279.4,285.0h1M281.1,298.0h1M291.9,291.6h1M297.5,283.7h1M287.3,290.6h1M279.6,294.0h1M284.9,296.1h1M281.5,290.3h1M303.1,292.0h1M294.1,287.9h1M297.4,299.3h1M288.7,285.6h1M281.0,293.4h1M296.5,287.9h1M300.9,295.1h1M291.2,298.2h1M285.8,294.3h1M295.7,296.3h1M282.6,293.3h1M292.9,287.8h1M279.6,285.6h1M277.2,290.2h1M291.1,294.1h1M289.0,293.7h1M303.1,288.1h1M283.5,285.3h1M286.2,293.0h1M275.7,291.9h1M269.2,295.3h1M270.0,290.2h1M290.1,286.2h1M275.4,306.7h1M296.1,289.9h1M298.8,294.2h1M283.4,303.6h1M300.9,289.6h1M288.0,291.8h1M296.1,289.3h1M283.9,298.5h1M294.6,280.0h1M277.5,290.7h1M291.6,293.1h1M281.8,283.2h1M284.8,287.8h1M291.7,286.9h1M287.5,285.1h1M285.3,302.3h1M292.5,282.4h1M293.2,293.1h1M273.5,289.8h1M291.0,286.4h1M292.0,295.1h1M279.2,289.6h1M289.5,287.2h1M274.1,291.5h1M298.9,288.7h1M283.8,299.8h1M285.3,297.6h1M296.8,297.4h1M284.7,289.3h1M291.4,271.4h1M276.6,289.9h1M280.9,292.1h1M273.4,291.6h1M284.1,286.1h1M295.3,287.5h1M288.0,297.4h1M293.9,285.9h1M276.7,291.4h1M278.0,286.9h1M281.8,301.9h1M291.1,299.5h1M289.2,288.1h1M285.8,300.8h1M291.6,289.2h1M284.6,289.5h1M285.8,290.5h1M297.7,289.4h1M280.7,289.9h1M287.6,288.9h1M300.5,293.4h1M286.9,291.4h1M292.3,275.8h1M280.5,285.3h1M303.6,288.0h1M265.7,289.2h1M275.8,295.1h1M276.5,290.1h1M300.6,292.6h1M289.2,286.3h1M283.6,296.1h1M274.4,303.8h1M289.3,294.3h1M287.0,287.6h1M279.7,278.3h1M272.6,285.8h1M276.1,296.5h1M287.9,292.4h1M288.8,296.3h1M286.6,292.3h1M284.6,296.0h1M270.1,300.0h1M286.4,288.9h1M276.7,290.2h1M286.4,292.2h1M290.2,289.4h1M279.9,280.5h1M276.8,290.7h1M294.9,293.3h1M289.1,286.7h1M280.2,300.0h1M259.0,287.3h1M285.5,295.4h1M291.6,295.6h1M296.1,290.7h1M279.9,282.4h1M280.2,295.2h1M282.0,286.2h1M293.5,289.3h1M275.4,298.7h1M285.0,286.4h1M277.6,295.7h1M288.4,299.1h1M272.0,295.5h1M289.4,295.1h1M281.5,288.1h1M284.0,295.2h1M290.7,283.4h1M296.3,290.1h1M270.7,295.1h1M295.0,295.7h1M291.0,290.1h1M283.3,302.0h1M298.6,302.8h1M287.7,296.0h1M297.6,287.9h1M280.6,290.3h1M278.2,291.2h1M297.0,292.4h1M305.5,302.8h1M291.7,293.0h1M294.0,300.7h1M281.7,286.9h1M274.1,291.3h1M283.9,291.8h1M299.5,289.2h1M269.2,289.6h1M281.5,290.1h1M268.7,289.4h1M287.0,294.4h1M293.8,298.4h1M274.8,289.5h1M282.3,283.6h1M297.9,285.9h1M285.2,292.4h1M274.8,288.0h1M274.1,293.6h1M267.8,289.2h1M292.9,294.5h1M279.3,290.5h1M295.4,280.7h1M293.8,287.2h1M280.0,283.3h1M281.2,295.4h1M293.0,294.9h1M287.3,291.5h1M288.4,288.3h1M271.2,292.4h1M294.1,285.9h1M278.1,294.2h1M265.6,284.1h1M280.4,286.2h1M289.8,297.2h1M304.9,288.2h1M282.6,292.5h1M274.0,285.9h1M305.1,294.1h1M287.4,289.6h1M283.6,288.4h1M276.3,305.9h1M276.9,301.2h1M299.3,290.6h1M283.5,292.0h1M281.1,285.9h1M281.4,290.1h1M300.1,298.0h1M280.7,289.5h1M291.6,295.3h1M288.4,292.5h1M288.1,294.0h1M278.1,289.4h1M291.9,298.8h1M300.5,297.2h1M285.5,303.1h1M277.7,279.9h1M274.4,296.6h1M287.7,295.9h1M283.5,297.4h1M285.0,294.7h1M286.1,293.6h1M272.7,288.0h1M293.0,290.4h1M288.1,289.5h1M285.3,294.4h1M288.1,291.7h1M294.3,284.8h1M286.5,291.4h1M278.3,289.7h1M296.5,302.0h1M282.1,288.5h1M279.4,289.9h1M271.9,284.5h1M286.1,305.9h1M276.6,291.2h1M281.3,292.0h1M290.0,290.9h1M286.3,294.7h1M295.1,290.2h1M288.7,287.6h1M282.3,291.1h1M283.0,292.9h1M281.4,292.5h1M291.8,293.4h1M286.2,291.2h1M282.3,295.2h1M293.6,301.9h1M286.8,284.2h1M281.8,300.7h1M272.4,292.0h1M289.9,298.3h1M288.1,292.9h1M286.4,296.5h1M282.1,291.7h1M278.5,295.9h1M283.9,298.3h1M288.1,289.8h1M284.8,284.4h1M284.7,289.6h1M281.8,290.9h1M289.0,297.0h1M288.1,291.9h1M279.2,289.1h1M292.8,294.9h1M293.1,286.7h1M293.3,291.7h1M284.8,289.6h1M284.2,294.1h1M275.5,294.1h1M292.8,290.3h1M266.8,289.5h1M282.5,289.7h1M282.9,296.9h1M293.7,295.4h1M286.0,291.6h1M277.3,301.4h1M273.1,286.0h1M279.4,289.9h1M286.9,291.3h1M286.5,295.3h1M284.2,287.2h1M279.8,293.0h1M284.1,281.5h1M295.0,289.5h1M276.1,299.5h1M286.3,287.7h1M300.5,294.3h1M291.0,294.3h1M281.9,292.8h1M291.9,292.2h1M279.2,290.2h1M286.0,287.5h1M300.0,289.2h1M303.0,295.4h1M270.6,298.7h1M292.3,295.9h1M303.5,289.7h1M281.1,287.0h1M288.3,282.0h1M299.5,298.7h1M281.5,291.2h1M290.0,292.8h1M285.4,293.7h1M268.7,290.9h1M289.1,292.9h1M284.3,293.0h1M294.3,295.0h1M304.8,289.5h1M292.1,286.0h1M282.7,282.9h1M290.0,294.4h1M287.8,297.2h1M295.2,293.0h1M273.0,296.0h1M275.5,286.1h1M267.6,295.9h1M291.4,291.2h1M285.8,298.7h1M280.2,293.5h1M279.5,290.6h1M280.8,283.5h1M277.6,295.3h1M283.1,289.6h1M281.5,302.6h1M298.5,298.0h1M288.9,295.9h1M278.6,294.2h1M280.7,289.3h1M296.8,288.3h1M290.1,300.1h1M288.6,288.8h1M292.5,297.5h1M300.3,281.9h1M275.0,290.0h1M279.3,290.8h1M270.3,292.6h1M290.4,291.8h1M282.6,291.6h1M279.9,295.3h1M279.1,287.7h1M292.2,290.2h1M284.7,287.7h1M281.2,291.9h1M297.3,288.0h1M276.6,295.6h1M274.6,272.7h1M309.3,295.4h1M282.7,294.0h1M281.1,286.5h1M279.4,285.1h1M284.7,295.8h1M293.0,300.4h1M292.8,299.0h1M290.9,296.9h1M283.5,295.8h1M272.6,292.5h1M288.5,286.2h1M299.6,285.9h1M295.6,294.9h1M284.5,288.8h1M293.2,287.0h1M282.5,284.2h1M285.5,292.5h1M274.9,295.6h1M283.1,287.7h1M287.2,283.6h1M284.5,294.4h1M292.9,281.3h1M302.9,282.5h1M297.9,293.0h1M283.2,299.9h1M279.4,294.8h1M280.1,293.5h1M277.2,288.8h1M286.3,300.5h1M289.8,278.8h1M287.6,279.2h1M287.7,295.5h1M287.4,301.5h1M284.8,292.5h1M279.3,289.4h1M301.5,284.5h1M295.4,287.9h1M277.8,292.7h1M277.8,302.1h1M280.7,288.9h1M286.3,287.2h1M297.3,293.3h1M295.1,290.2h1M295.6,290.6h1M295.8,292.9h1M295.9,297.8h1M292.6,289.8h1M290.1,299.2h1M284.9,284.2h1M270.3,296.4h1M284.8,289.1h1M266.7,306.9h1M283.3,287.3h1M274.5,282.6h1M285.6,287.9h1M265.8,283.7h1M253.2,298.4h1M273.4,294.8h1M272.4,291.6h1M255.1,295.6h1M267.3,281.9h1M252.5,304.4h1M279.3,298.7h1M272.0,297.0h1M277.8,299.7h1M316.7,288.1h1M280.0,309.4h1M283.2,285.9h1M287.0,287.6h1M275.5,292.0h1M268.7,283.9h1M290.8,276.8h1M293.0,293.0h1M275.2,291.4h1M272.5,290.5h1M269.1,298.2h1M296.2,299.8h1M269.6,289.8h1M290.5,298.2h1M269.4,287.3h1M271.5,288.3h1M288.5,297.7h1M266.5,291.6h1M275.1,293.7h1M261.0,295.3h1M264.3,285.8h1M288.4,294.0h1M286.3,292.5h1M260.4,308.8h1M259.8,289.8h1M315.7,305.0h1M267.9,297.2h1M264.5,282.2h1M285.2,280.9h1M265.9,297.2h1M272.1,303.7h1M290.9,291.3h1M292.5,297.2h1M274.6,291.7h1M297.7,304.3h1M275.4,285.8h1M273.9,282.6h1M277.4,305.1h1M272.9,300.0h1M285.4,299.4h1M281.8,288.7h1M265.9,309.0h1M280.2,292.7h1M269.4,295.9h1M268.9,300.2h1M275.4,288.9h1M292.8,308.8h1M281.7,304.5h1M296.5,300.1h1M301.0,288.9h1M277.0,296.8h1M268.5,300.4h1M265.7,290.6h1M281.7,297.8h1M290.5,299.0h1M301.3,296.5h1M257.9,291.6h1M291.4,274.0h1M293.6,302.3h1M314.1,292.1h1M280.4,295.3h1M277.1,296.1h1M254.8,282.8h1M265.9,288.3h1M261.0,289.1h1M262.5,297.5h1M264.1,300.4h1M254.6,291.9h1M276.2,296.2h1M283.4,298.4h1M289.1,289.0h1M276.2,303.1h1M293.5,299.5h1M293.7,288.1h1M254.9,294.7h1M273.6,289.0h1M259.0,300.4h1M263.0,288.7h1M280.5,299.3h1M275.8,283.9h1M299.7,288.1h1M308.4,290.5h1M284.0,282.5h1M274.9,291.4h1M275.6,298.7h1M277.6,282.3h1M286.4,291.4h1M266.8,284.8h1M286.6,292.8h1M274.1,285.2h1M293.7,300.4h1M298.3,303.4h1M303.9,304.4h1M275.5,288.2h1M257.6,308.6h1M252.6,307.2h1M273.5,304.5h1M256.6,292.1h1M253.2,290.6h1M272.6,300.0h1M263.1,288.0h1M288.2,291.5h1M307.0,284.8h1M274.5,286.8h1M282.6,299.0h1M254.3,292.3h1M280.7,295.1h1M267.5,290.4h1M261.5,292.3h1M302.0,288.5h1M253.8,293.3h1M259.9,288.3h1M278.2,293.5h1M282.4,295.0h1M282.4,286.9h1M279.7,286.7h1M264.7,284.5h1M289.6,289.1h1M281.0,295.4h1M256.3,292.4h1M302.1,292.6h1M273.0,306.9h1M292.3,302.2h1M256.3,282.4h1M260.3,294.2h1M267.8,294.7h1M293.3,292.6h1M253.8,303.0h1M280.6,276.8h1M263.0,285.4h1M285.9,287.7h1M281.3,295.2h1M269.9,290.2h1M311.5,287.5h1M277.5,290.2h1M294.6,298.8h1M258.3,292.4h1M276.3,292.8h1M279.5,291.6h1M280.3,301.6h1M273.1,291.9h1M265.8,293.8h1M269.7,292.4h1M264.5,304.6h1M274.4,287.5h1M291.2,288.3h1M311.5,303.9h1M286.3,294.6h1M293.6,300.3h1M287.8,297.3h1M289.2,286.4h1M287.2,290.0h1M274.4,279.2h1M273.5,293.3h1M283.4,302.4h1M305.4,293.2h1M302.6,280.7h1M259.0,292.1h1M282.5,290.8h1M284.5,293.0h1M286.3,300.5h1M257.9,295.1h1M272.6,291.8h1M313.7,303.3h1M281.8,282.0h1M260.4,302.3h1M283.7,288.1h1M274.1,299.1h1M281.2,303.7h1M271.8,291.6h1M259.2,293.2h1M270.7,296.2h1M289.4,295.0h1M283.2,299.2h1M297.0,291.4h1M262.6,298.2h1M294.5,294.5h1M279.7,286.4h1M281.7,304.6h1M297.5,299.0h1M276.9,299.8h1M282.7,300.7h1M288.5,304.8h1M288.7,296.8h1M291.2,293.7h1M298.4,295.7h1M287.0,306.8h1M272.5,289.8h1M315.8,289.6h1M278.7,294.4h1M284.8,302.3h1M268.0,301.3h1M267.5,282.1h1M280.2,291.4h1M287.2,301.7h1M279.7,285.5h1M291.2,293.6h1M294.1,282.5h1M294.1,299.2h1M279.3,291.5h1M280.5,296.5h1M276.1,289.4h1M266.2,299.7h1M300.7,288.1h1M260.7,297.8h1M278.2,301.6h1M282.7,290.7h1M290.5,310.7h1M274.1,295.3h1M282.7,294.2h1M274.4,293.6h1M256.3,279.7h1M282.3,299.8h1M280.9,295.1h1M294.3,307.7h1M286.5,305.9h1M254.1,299.3h1M295.9,296.0h1M291.3,296.5h1M290.9,290.3h1M286.7,289.5h1M268.8,287.5h1M287.4,296.2h1M273.9,291.3h1M322.6,300.4h1M275.8,292.3h1M262.7,291.4h1M274.3,298.8h1M270.8,299.9h1M301.4,295.7h1M284.3,299.8h1M271.9,294.2h1M290.1,286.7h1M265.5,292.5h1M261.8,296.6h1M293.7,304.6h1M271.6,297.2h1M287.4,304.0h1M279.6,292.4h1M291.9,283.8h1M281.0,287.1h1M289.6,302.4h1M272.3,305.5h1M292.6,291.7h1M281.1,290.8h1M300.7,289.1h1M274.7,292.5h1M274.6,309.4h1M287.1,286.7h1M274.2,301.3h1M272.3,280.9h1M277.1,303.4h1M295.2,302.1h1M281.6,293.1h1M257.7,290.1h1M265.2,299.3h1M274.6,290.7h1M284.0,304.9h1M267.2,298.9h1M258.1,304.2h1M264.1,299.3h1M271.5,299.9h1M266.1,292.9h1M307.3,305.4h1M283.5,296.7h1M267.1,290.0h1M279.2,294.6h1M303.0,284.5h1M289.0,302.8h1M277.8,289.4h1M259.0,301.0h1M253.8,289.0h1M274.2,293.9h1M277.7,293.3h1M254.9,299.6h1M259.2,309.0h1M278.6,303.4h1M253.4,297.1h1M278.5,289.6h1M287.7,305.1h1M284.0,290.4h1M294.2,287.6h1M292.7,292.8h1M275.3,280.6h1M311.2,300.8h1M304.6,287.7h1M293.4,294.8h1M267.1,288.7h1M285.4,298.0h1M274.4,298.3h1M273.1,299.5h1M294.8,301.7h1M279.7,286.9h1M303.7,299.5h1M279.4,304.2h1M281.0,302.1h1M274.9,291.5h1M279.0,291.4h1M297.5,289.8h1M303.7,285.5h1M285.1,298.4h1M262.6,301.3h1M287.9,293.8h1M299.9,294.0h1M289.3,285.2h1M284.0,294.7h1M293.7,298.3h1M299.4,305.1h1M302.4,294.5h1M291.2,286.2h1M286.8,294.3h1M271.3,285.0h1M283.0,285.8h1M288.7,300.8h1M257.3,303.6h1M290.8,299.8h1M280.7,296.8h1M301.6,301.1h1M289.8,289.8h1M277.0,290.0h1M280.5,286.0h1M289.3,292.9h1M281.8,298.3h1M287.9,292.0h1M268.9,301.8h1M260.9,293.9h1M271.0,300.7h1M258.2,286.4h1M285.0,288.7h1M255.1,288.4h1M261.2,295.3h1M290.7,292.5h1M271.7,293.5h1M279.5,285.3h1M261.1,282.6h1M264.0,294.9h1M275.1,282.8h1M304.1,299.8h1M286.3,291.9h1M254.5,291.7h1M286.4,304.5h1M293.5,292.6h1M290.0,300.0h1M261.3,289.0h1M278.6,301.7h1M311.5,308.3h1M265.6,304.8h1M284.6,294.8h1M268.4,292.7h1M260.6,292.5h1M273.2,300.7h1M295.1,289.1h1M297.0,299.1h1M266.4,296.7h1M272.5,287.7h1M266.3,296.2h1M288.7,289.7h1M303.0,295.0h1M302.2,297.9h1M272.7,285.4h1M299.6,299.7h1M296.1,290.1h1M274.6,294.0h1M279.6,275.5h1M274.2,308.5h1M283.3,293.5h1M306.9,292.4h1M265.9,286.8h1M261.8,298.2h1M292.9,299.8h1M280.7,284.6h1M251.4,298.2h1M264.6,292.9h1M267.4,295.4h1M270.7,292.2h1M284.6,305.1h1M294.7,299.1h1M277.4,295.4h1M282.1,294.2h1M268.7,286.8h1M295.2,291.2h1M300.0,290.7h1M275.9,295.4h1M268.8,285.6h1M311.0,299.6h1M293.8,295.7h1M266.5,306.2h1M254.5,302.9h1M275.5,288.7h1M297.9,295.4h1M271.7,308.9h1M276.2,295.4h1M272.5,296.8h1M289.7,303.5h1M300.9,292.5h1M261.1,297.1h1M275.6,295.0h1M277.0,288.0h1M270.6,299.7h1M262.0,287.0h1M292.3,297.1h1M282.3,297.0h1M290.8,285.4h1M302.7,292.2h1M274.5,298.1h1M288.1,296.0h1M274.0,293.5h1M278.7,306.0h1M285.0,290.1h1M277.6,295.1h1M257.4,304.8h1M302.7,302.1h1M282.3,288.6h1M262.8,304.5h1M279.7,303.1h1M289.9,293.5h1M296.8,295.6h1M274.3,299.0h1M289.7,291.5h1M256.9,293.7h1M282.3,297.6h1M293.8,279.0h1M270.9,289.4h1M277.6,300.7h1M281.7,292.6h1M302.4,299.6h1M263.8,285.9h1M300.2,299.4h1M261.3,294.2h1M270.0,303.9h1M268.4,289.4h1M278.8,294.4h1M272.6,295.3h1M287.3,288.3h1M280.3,283.0h1M313.1,289.3h1M285.9,308.3h1M276.3,292.4h1M285.7,293.4h1M289.1,303.9h1M277.2,307.5h1M263.4,298.4h1M268.0,297.6h1M282.7,295.9h1M292.6,300.9h1M287.3,294.2h1M278.8,293.2h1M288.6,297.6h1M272.7,292.6h1M284.0,299.8h1M301.4,307.2h1M296.8,295.5h1M300.4,288.9h1M274.5,275.2h1M264.9,299.3h1M293.9,302.0h1M273.7,293.4h1M260.3,302.0h1M272.6,294.5h1M283.8,288.0h1M258.8,296.0h1M294.8,283.3h1M281.5,288.8h1M279.3,307.6h1M255.9,279.9h1M303.8,300.5h1M295.4,293.1h1M290.6,298.5h1M263.3,298.8h1M288.7,300.6h1M297.2,290.7h1M275.1,301.2h1M276.3,304.8h1M272.9,299.7h1M289.0,295.4h1M276.5,310.4h1M275.2,289.4h1M258.2,300.8h1M270.8,300.1h1M267.5,283.3h1M274.8,294.0h1M269.9,300.7h1M255.0,292.5h1M257.8,305.7h1M263.4,294.4h1M259.0,276.6h1M261.3,285.4h1M263.4,306.5h1M271.6,306.1h1M265.2,304.3h1M273.0,282.6h1M266.9,284.1h1M277.0,277.4h1M254.7,303.3h1M261.3,291.2h1M251.3,298.5h1M264.7,295.0h1M268.7,287.3h1M258.4,303.7h1M275.4,283.8h1M254.8,291.9h1M275.9,289.1h1M271.6,298.1h1M254.8,297.8h1M253.5,290.0h1M252.6,286.4h1M266.1,282.7h1M257.4,277.8h1M276.5,289.7h1M253.9,276.5h1M272.2,287.1h1M260.7,305.7h1M270.3,288.9h1M266.4,305.0h1M256.9,306.5h1M260.2,299.9h1M254.8,285.6h1M254.4,303.2h1M265.9,300.3h1M265.1,296.0h1M256.2,290.6h1M258.7,284.5h1M277.2,285.4h1M260.2,292.1h1M263.7,291.7h1M255.0,290.1h1M251.5,300.5h1M267.0,283.9h1M257.2,280.1h1M270.5,281.6h1M256.9,295.1h1M260.6,277.4h1M267.9,285.8h1M269.1,281.5h1M259.9,277.2h1M270.1,304.9h1M265.7,287.4h1M272.4,303.6h1M270.9,291.0h1M272.6,305.7h1M257.8,280.6h1M253.0,287.6h1M259.5,299.0h1M261.8,283.7h1M257.8,293.3h1M255.0,282.1h1M262.1,278.4h1M258.9,303.3h1M251.6,299.7h1M273.0,300.4h1M264.6,306.6h1M255.4,302.1h1M259.5,278.5h1M266.1,284.9h1M253.4,288.9h1M264.6,305.1h1M270.3,277.0h1M255.1,298.7h1M264.3,278.4h1M274.5,281.6h1M269.4,283.8h1M262.6,289.8h1M251.5,303.7h1M275.5,302.4h1M276.8,286.0h1M310.8,286.3h1M310.7,304.6h1M321.7,291.9h1M318.0,302.9h1M331.9,290.2h1M309.8,294.5h1M332.2,303.3h1M316.5,296.2h1M329.8,302.7h1M309.6,302.2h1M333.0,288.6h1M330.7,303.5h1M324.4,292.8h1M330.9,296.6h1M330.1,298.8h1M331.5,295.4h1M327.0,292.5h1M334.5,289.9h1M324.2,301.7h1M327.4,305.0h1M321.6,290.6h1M334.9,301.1h1M296.6,243.7h1M352.4,239.5h1M362.3,274.7h1M334.4,257.8h1" stroke="#2e2e2e" stroke-width="1" stroke-opacity="0.53" fill="none" filter="url(#bl)"/>
<path d="M339.0,272.1h1M354.6,262.5h1M345.0,269.9h1M346.8,266.8h1M356.6,258.8h1M349.5,265.8h1M347.2,265.4h1M346.2,268.6h1M359.1,256.6h1M342.4,268.6h1M355.7,259.8h1M337.2,277.1h1M362.3,251.9h1M364.1,251.6h1M340.9,272.3h1M350.9,270.4h1M337.5,274.8h1M345.1,268.0h1M360.1,252.9h1M353.4,260.1h1M338.2,274.4h1M363.1,250.8h1M352.6,262.3h1M337.8,276.3h1M345.3,269.6h1M339.3,277.4h1M360.5,257.0h1M345.4,267.6h1M349.2,267.4h1M358.0,257.6h1M352.3,261.6h1M335.7,276.3h1M335.8,276.2h1M339.8,276.7h1M355.3,259.3h1M352.1,260.8h1M344.4,270.6h1M342.7,269.4h1M338.9,275.9h1M333.8,277.4h1M353.7,260.9h1M360.0,252.3h1M348.0,262.4h1M353.9,260.2h1M346.5,263.6h1" stroke="#666" stroke-width="1" stroke-opacity="0.4" fill="none" filter="url(#bl)"/>
<rect x="250.8" y="218.2" width="117.2" height="93.1" fill="none" stroke="#747474" stroke-width="0.9"/>
<path d="M280.2,311.3 v2" stroke="#555" stroke-width="0.7"/>
<text x="280.2" y="321.2" font-size="7" font-weight="normal" text-anchor="middle" fill="#222" letter-spacing="0.3">10<tspan dy="-2.9" font-size="5.7">1</tspan></text>
<path d="M309.2,311.3 v2" stroke="#555" stroke-width="0.7"/>
<text x="309.4" y="321.2" font-size="7" font-weight="normal" text-anchor="middle" fill="#222" letter-spacing="0.3">10<tspan dy="-2.9" font-size="5.7">2</tspan></text>
<path d="M338.1,311.3 v2" stroke="#555" stroke-width="0.7"/>
<text x="339.3" y="321.2" font-size="7" font-weight="normal" text-anchor="middle" fill="#222" letter-spacing="0.3">10<tspan dy="-2.9" font-size="5.7">3</tspan></text>
<path d="M367.1,311.3 v2" stroke="#555" stroke-width="0.7"/>
<text x="367.2" y="321.2" font-size="7" font-weight="normal" text-anchor="middle" fill="#222" letter-spacing="0.3">10<tspan dy="-2.9" font-size="5.7">4</tspan></text>
<path d="M248.8,288.0 h2" stroke="#555" stroke-width="0.7"/>
<text x="247.60000000000002" y="288.6" font-size="7" font-weight="normal" text-anchor="middle" fill="#222" transform="rotate(-90 247.60000000000002 288.6)" letter-spacing="0.3">10<tspan dy="-2.9" font-size="5.7">1</tspan></text>
<path d="M248.8,264.8 h2" stroke="#555" stroke-width="0.7"/>
<text x="247.60000000000002" y="265.4" font-size="7" font-weight="normal" text-anchor="middle" fill="#222" transform="rotate(-90 247.60000000000002 265.4)" letter-spacing="0.3">10<tspan dy="-2.9" font-size="5.7">2</tspan></text>
<path d="M248.8,241.5 h2" stroke="#555" stroke-width="0.7"/>
<text x="247.60000000000002" y="242.1" font-size="7" font-weight="normal" text-anchor="middle" fill="#222" transform="rotate(-90 247.60000000000002 242.1)" letter-spacing="0.3">10<tspan dy="-2.9" font-size="5.7">3</tspan></text>
<path d="M248.8,218.2 h2" stroke="#555" stroke-width="0.7"/>
<text x="247.60000000000002" y="218.8" font-size="7" font-weight="normal" text-anchor="middle" fill="#222" transform="rotate(-90 247.60000000000002 218.8)" letter-spacing="0.3">10<tspan dy="-2.9" font-size="5.7">4</tspan></text>
<rect x="281.9" y="264.8" width="26.7" height="20.9" fill="none" stroke="#767676" stroke-width="1.4"/>
<rect x="308.6" y="283.4" width="25.5" height="27.4" fill="none" stroke="#4a4a4a" stroke-width="1.6"/>
<text x="294.8" y="248.4" font-size="11" font-weight="bold" text-anchor="middle" fill="#747474"  stroke="#747474" stroke-width="0.3">A1</text>
<path d="M295.8,251.2 V259.8" stroke="#747474" stroke-width="2.2"/>
<path d="M291.8,257.6 L295.8,262.8 L299.8,257.6 Z" fill="#747474"/>
<text x="338.4" y="263.4" font-size="11" font-weight="bold" text-anchor="middle" fill="#3c3c3c"  stroke="#3c3c3c" stroke-width="0.3">A2</text>
<path d="M333.3,266.4 L326.5,275.6" stroke="#3c3c3c" stroke-width="2.3"/>
<path d="M324.1,278.9 L324.7,271.9 L330.5,276.2 Z" fill="#3c3c3c"/>
<text x="234.8" y="257.7" font-size="11.6" font-weight="bold" text-anchor="middle" fill="#000" transform="rotate(-90 234.8 257.7)"  stroke="#000" stroke-width="0.3">PE – JON/A</text>
<path d="M421.9,290.7h1M433.4,294.1h1M444.8,291.2h1M429.3,287.9h1M431.9,295.7h1M413.9,294.1h1M427.9,297.1h1M429.1,285.1h1M429.6,302.9h1M436.6,288.5h1M443.8,287.6h1M431.2,303.0h1M434.8,294.5h1M417.4,285.9h1M436.7,296.8h1M431.6,295.0h1M415.7,292.1h1M434.3,284.6h1M425.5,288.4h1M440.3,295.6h1M435.4,299.4h1M432.1,300.2h1M446.6,290.0h1M429.9,303.8h1M428.6,295.1h1M431.7,288.6h1M432.4,298.5h1M423.8,293.7h1M436.5,292.5h1M435.2,287.8h1M426.8,299.3h1M417.6,291.5h1M442.3,292.2h1M443.3,291.3h1M439.7,300.6h1M440.5,289.1h1M447.8,296.6h1M434.9,292.5h1M446.6,296.6h1M430.8,281.2h1M424.4,291.6h1M432.4,280.1h1M429.5,295.3h1M436.7,293.4h1M448.6,283.8h1M436.2,293.9h1M441.8,289.5h1M451.5,285.5h1M448.6,293.9h1M433.4,295.6h1M426.6,293.2h1M451.6,286.3h1M423.0,289.5h1M416.3,284.8h1M414.8,293.3h1M443.1,294.5h1M419.5,298.1h1M430.4,293.5h1M431.5,295.1h1M444.4,292.5h1M420.4,297.0h1M433.1,295.8h1M435.4,293.6h1M445.3,286.6h1M430.6,293.7h1M435.1,295.0h1M430.2,286.2h1M442.5,284.5h1M441.2,293.5h1M429.3,293.3h1M437.7,301.8h1M419.5,300.4h1M433.4,292.1h1M424.8,284.2h1M429.1,281.7h1M441.9,287.3h1M452.1,294.5h1M434.7,289.0h1M431.6,299.9h1M429.9,292.3h1M439.6,298.3h1M431.3,291.8h1M441.7,284.0h1M446.7,279.9h1M438.5,290.7h1M429.5,289.7h1M439.8,300.9h1M426.7,295.4h1M417.1,283.5h1M443.2,285.4h1M450.2,287.2h1M444.8,289.4h1M429.7,282.8h1M402.6,293.2h1M426.3,292.9h1M438.5,276.4h1M429.4,296.5h1M445.4,289.4h1M425.6,293.9h1M437.3,283.6h1M434.9,293.3h1M435.2,293.7h1M420.2,293.5h1M431.9,287.4h1M435.2,297.3h1M429.2,300.0h1M421.0,292.5h1M428.4,293.8h1M424.2,288.9h1M435.9,293.7h1M441.5,295.1h1M435.7,290.2h1M436.1,289.5h1M431.1,286.2h1M434.5,291.5h1M415.2,301.8h1M433.4,292.1h1M440.7,291.8h1M427.9,292.4h1M438.9,288.9h1M419.1,293.4h1M433.1,285.7h1M431.0,293.4h1M436.9,284.1h1M434.0,297.9h1M452.7,304.8h1M404.0,297.1h1M419.6,276.1h1M426.6,293.2h1M433.5,292.4h1M426.8,290.3h1M426.5,294.1h1M418.4,290.3h1M420.4,291.1h1M424.7,280.4h1M446.3,285.1h1M425.3,290.2h1M457.5,287.9h1M442.2,288.4h1M430.0,297.7h1M440.0,285.5h1M441.9,295.2h1M421.8,287.3h1M418.0,290.9h1M445.9,286.7h1M424.0,283.8h1M440.5,288.4h1M438.8,294.3h1M417.5,293.4h1M438.5,288.5h1M437.7,294.0h1M444.2,293.8h1M432.3,292.3h1M436.8,293.6h1M436.1,288.8h1M430.5,294.1h1M447.5,291.1h1M441.4,295.7h1M446.6,301.2h1M435.9,287.3h1M443.2,286.3h1M424.0,294.4h1M427.0,287.2h1M441.7,289.9h1M430.6,298.0h1M429.1,285.1h1M434.1,302.6h1M418.3,291.9h1M434.2,287.7h1M437.1,297.7h1M429.7,282.8h1M422.5,294.8h1M448.5,284.7h1M436.5,292.6h1M423.4,287.8h1M427.3,291.9h1M418.0,278.5h1M416.9,289.3h1M415.3,285.9h1M425.1,287.5h1M436.4,290.4h1M439.3,292.9h1M431.6,289.2h1M441.9,286.0h1M437.8,286.4h1M422.2,288.4h1M425.0,292.1h1M435.2,287.5h1M438.8,296.8h1M442.5,291.5h1M420.2,302.6h1M415.1,295.1h1M450.9,292.2h1M430.2,299.1h1M441.7,297.6h1M433.0,286.1h1M420.2,288.5h1M445.4,285.3h1M437.0,284.8h1M446.1,287.7h1M438.3,286.8h1M423.9,289.6h1M432.5,284.2h1M441.8,299.6h1M426.6,292.2h1M434.5,285.5h1M443.4,286.5h1M421.7,290.8h1M429.5,293.0h1M434.5,286.6h1M441.6,292.1h1M432.0,297.3h1M426.4,284.8h1M438.0,293.3h1M427.4,290.2h1M436.7,300.1h1M436.2,305.3h1M431.2,288.7h1M440.7,282.0h1M443.6,303.7h1M421.2,294.0h1M437.7,288.1h1M431.5,290.1h1M430.3,290.8h1M433.8,291.3h1M443.6,296.5h1M431.7,285.1h1M430.1,285.9h1M421.7,289.2h1M431.6,303.8h1M433.1,281.9h1M424.5,291.5h1M430.3,288.3h1M437.4,280.6h1M445.7,284.0h1M430.6,291.7h1M451.2,285.3h1M442.2,287.9h1M441.1,294.4h1M438.6,290.4h1M434.2,300.9h1M427.7,299.8h1M432.7,290.1h1M433.9,283.4h1M434.9,296.6h1M447.3,284.5h1M451.5,290.3h1M438.3,281.2h1M442.5,293.1h1M427.3,274.8h1M415.7,288.6h1M432.7,292.4h1M435.8,289.7h1M446.2,301.2h1M455.4,289.2h1M436.0,292.9h1M445.4,288.4h1M443.7,292.9h1M435.6,306.1h1M441.2,305.5h1M437.2,294.8h1M447.7,298.2h1M424.2,286.3h1M412.9,297.1h1M435.0,288.7h1M442.1,292.1h1M443.3,282.7h1M428.7,290.7h1M438.7,290.1h1M427.9,296.8h1M440.0,289.2h1M427.1,287.5h1M424.2,291.9h1M442.3,287.3h1M422.6,297.0h1M420.6,292.5h1M441.0,289.0h1M434.8,293.0h1M413.0,284.5h1M444.5,287.7h1M422.8,294.7h1M429.8,296.4h1M432.8,291.3h1M452.0,295.3h1M433.7,293.4h1M442.0,297.5h1M432.6,287.0h1M438.5,290.3h1M421.2,289.6h1M433.9,286.7h1M428.4,303.9h1M424.8,291.0h1M436.6,292.6h1M443.2,287.5h1M438.2,288.5h1M431.0,288.4h1M440.5,284.1h1M423.9,301.6h1M436.7,297.1h1M438.6,284.5h1M433.1,283.3h1M431.6,295.7h1M435.0,285.1h1M428.8,286.4h1M431.9,298.8h1M440.5,294.6h1M416.6,289.4h1M445.1,291.6h1M438.0,281.3h1M435.8,287.9h1M424.8,286.3h1M430.2,294.9h1M428.5,298.0h1M439.9,294.6h1M439.5,283.5h1M444.2,281.0h1M434.4,295.7h1M415.6,292.0h1M425.1,305.0h1M430.5,284.1h1M436.7,298.2h1M420.2,286.3h1M431.9,284.2h1M434.3,298.6h1M428.3,296.1h1M432.0,287.3h1M454.0,283.7h1M433.4,294.2h1M451.3,297.0h1M435.7,289.4h1M427.2,284.3h1M438.5,297.4h1M429.9,295.6h1M433.0,284.9h1M413.4,290.2h1M436.6,295.8h1M428.3,291.3h1M443.6,288.6h1M434.5,285.6h1M430.1,289.7h1M424.1,291.4h1M433.6,300.5h1M430.1,288.3h1M426.5,288.5h1M450.1,290.2h1M432.1,291.2h1M441.4,290.6h1M446.5,286.0h1M437.0,293.3h1M439.0,298.0h1M437.9,286.3h1M441.9,293.4h1M438.5,292.9h1M437.8,288.9h1M434.6,292.7h1M429.0,291.7h1M429.5,297.5h1M427.6,284.1h1M435.1,298.7h1M445.0,284.0h1M424.9,298.3h1M427.9,295.2h1M424.6,293.6h1M432.8,286.5h1M442.4,290.2h1M430.3,293.9h1M436.0,298.2h1M412.6,285.8h1M432.0,291.1h1M437.6,289.0h1M427.8,292.4h1M418.8,294.1h1M437.4,287.7h1M432.3,289.7h1M449.4,285.0h1M428.1,290.2h1M431.9,299.1h1M429.9,287.1h1M434.2,291.0h1M417.1,292.6h1M445.4,308.4h1M439.0,296.1h1M431.2,290.4h1M430.1,294.8h1M437.9,289.9h1M436.5,288.0h1M429.6,291.4h1M431.8,296.5h1M436.3,288.9h1M429.5,289.3h1M430.4,292.7h1M429.5,301.8h1M430.1,298.1h1M421.8,286.9h1M424.9,292.8h1M436.6,301.2h1M440.3,292.4h1M432.8,291.1h1M401.5,287.8h1M420.1,289.0h1M436.9,289.3h1M448.3,295.6h1M444.0,300.6h1M431.5,294.8h1M430.2,283.8h1M429.5,299.7h1M448.8,286.5h1M435.4,299.7h1M425.2,298.6h1M441.8,290.8h1M440.7,295.9h1M415.4,292.8h1M427.7,297.8h1M442.3,290.7h1M441.4,286.7h1M422.3,299.5h1M433.4,288.4h1M441.2,289.4h1M436.4,287.1h1M424.1,304.0h1M431.8,286.5h1M439.3,297.8h1M437.8,292.9h1M424.9,293.9h1M454.2,297.1h1M435.4,296.3h1M420.1,295.5h1M430.5,290.6h1M409.1,287.5h1M427.4,293.1h1M433.1,287.2h1M454.8,290.7h1M435.2,285.2h1M436.8,298.8h1M440.3,290.7h1M435.4,291.8h1M428.2,290.8h1M445.6,289.6h1M438.2,287.1h1M447.2,290.7h1M442.7,288.7h1M425.3,293.1h1M429.5,292.3h1M430.0,295.0h1M430.2,285.6h1M437.6,287.2h1M432.1,284.5h1M426.6,294.1h1M446.6,292.5h1M445.7,278.0h1M434.0,285.6h1M424.3,299.5h1M428.2,287.5h1M427.0,289.6h1M425.8,293.4h1M425.1,293.1h1M435.8,296.2h1M436.3,294.4h1M437.5,295.8h1M425.5,297.9h1M436.3,293.7h1M451.3,296.4h1M435.8,287.6h1M430.2,285.9h1M457.8,292.4h1M436.5,293.4h1M428.2,288.1h1M441.5,292.2h1M427.4,280.5h1M430.5,306.0h1M442.6,304.4h1M428.4,297.6h1M420.7,288.9h1M440.0,287.3h1M441.1,294.1h1M421.6,291.4h1M430.7,293.1h1M443.3,288.8h1M436.0,280.4h1M441.1,304.0h1M432.7,279.3h1M428.2,285.7h1M428.9,293.2h1M431.1,288.8h1M435.4,291.6h1M410.1,288.8h1M417.0,288.9h1M433.9,287.2h1M439.8,297.0h1M428.1,288.1h1M434.0,295.1h1M424.4,293.1h1M421.8,287.1h1M435.3,293.9h1M433.3,289.8h1M429.4,289.7h1M422.5,290.9h1M434.5,298.1h1M433.4,288.7h1M431.7,290.4h1M432.8,279.1h1M430.7,297.1h1M438.5,285.6h1M437.3,293.7h1M449.5,293.0h1M446.2,282.0h1M433.4,292.1h1M423.0,287.0h1M439.3,290.7h1M428.5,296.3h1M447.1,292.6h1M420.7,293.8h1M429.9,292.6h1M447.2,281.1h1M433.7,288.8h1M440.0,300.9h1M439.5,281.0h1M429.4,289.3h1M441.0,286.4h1M426.0,282.7h1M430.8,295.8h1M452.2,289.5h1M432.0,292.1h1M436.9,293.2h1M424.3,293.0h1M445.3,290.7h1M425.6,284.9h1M427.1,287.0h1M428.3,289.7h1M425.3,284.7h1M421.1,304.0h1M431.0,291.1h1M429.3,289.3h1M432.7,289.5h1M424.9,283.5h1M425.6,290.3h1M430.7,283.7h1M433.5,292.2h1M425.4,287.4h1M433.2,290.6h1M431.4,292.6h1M442.7,288.4h1M439.0,288.1h1M437.8,296.1h1M442.2,286.0h1M427.9,292.7h1M445.3,290.7h1M435.0,306.0h1M429.1,291.4h1M437.0,301.7h1M424.1,286.5h1M448.9,295.5h1M435.6,293.6h1M420.4,292.2h1M423.6,298.5h1M429.0,291.1h1M428.5,298.0h1M437.4,292.4h1M441.1,286.5h1M442.3,284.2h1M438.1,283.3h1M425.3,292.5h1M443.2,296.5h1M444.1,288.5h1M416.5,282.6h1M428.4,296.0h1M430.3,283.8h1M426.6,292.0h1M442.5,305.8h1M437.4,290.9h1M433.9,280.9h1M422.7,287.3h1M415.4,285.4h1M425.2,289.0h1M426.1,300.5h1M425.5,304.2h1M414.8,297.1h1M419.9,293.4h1M429.5,296.8h1M436.2,295.7h1M428.6,286.9h1M431.2,283.2h1M432.6,300.6h1M432.6,297.1h1M443.7,291.8h1M426.2,292.4h1M435.0,304.2h1M421.7,275.0h1M443.5,287.4h1M439.6,289.3h1M441.9,301.9h1M434.2,289.6h1M432.1,297.7h1M422.0,288.4h1M436.0,289.6h1M445.1,291.0h1M409.0,288.9h1M448.6,294.5h1M426.1,290.3h1M437.4,304.5h1M426.1,287.2h1M431.9,292.3h1M440.4,277.3h1M431.6,290.7h1M449.1,304.2h1M433.6,282.8h1M439.0,295.3h1M427.9,297.5h1M428.9,291.5h1M429.8,284.2h1M437.7,280.5h1M447.9,293.4h1M433.6,290.1h1M422.0,290.0h1M427.9,294.9h1M421.3,294.1h1M437.5,292.1h1M433.5,291.6h1M423.9,285.4h1M430.1,301.9h1M441.5,288.6h1M437.3,289.2h1M428.3,283.7h1M439.9,293.4h1M436.7,293.3h1M428.5,290.7h1M434.9,294.4h1M449.7,294.6h1M423.6,295.0h1M442.2,295.0h1M432.1,297.0h1M438.8,294.7h1M436.8,295.6h1M435.8,295.4h1M431.9,298.7h1M433.3,286.1h1M439.2,289.6h1M437.3,291.6h1M420.5,297.3h1M437.3,287.8h1M444.8,292.7h1M441.2,291.9h1M435.2,290.9h1M417.3,292.0h1M438.5,285.9h1M439.1,295.7h1M446.1,295.0h1M424.9,290.5h1M431.2,292.5h1M428.6,288.3h1M430.9,286.3h1M418.1,283.7h1M429.1,286.1h1M429.5,292.9h1M430.0,292.2h1M447.3,293.4h1M427.7,285.0h1M429.3,292.6h1M443.1,296.0h1M428.3,297.1h1M443.8,287.2h1M437.2,296.1h1M427.7,305.9h1M427.0,287.4h1M434.4,289.5h1M431.5,287.1h1M434.0,285.9h1M428.1,288.5h1M438.4,289.1h1M427.3,291.0h1M429.0,295.6h1M431.6,302.9h1M422.1,302.1h1M430.4,289.2h1M431.3,286.9h1M420.4,291.1h1M417.4,295.5h1M444.0,287.8h1M430.8,291.4h1M431.9,291.2h1M427.6,293.2h1M447.0,297.7h1M431.3,296.8h1M417.4,289.1h1M437.4,282.3h1M424.5,281.6h1M436.9,292.2h1M432.0,288.8h1M444.3,291.7h1M437.3,290.4h1M429.8,288.9h1M445.7,286.2h1M457.2,297.5h1M428.5,281.5h1M442.8,291.9h1M436.5,296.6h1M437.2,278.5h1M422.3,296.1h1M424.6,291.4h1M445.8,295.2h1M434.6,284.7h1M428.6,305.9h1M449.2,289.3h1M444.1,299.9h1M439.8,282.6h1M424.7,279.7h1M433.2,286.5h1M446.3,295.5h1M415.3,284.8h1M419.3,279.1h1M426.2,289.8h1M441.9,293.3h1M435.4,283.1h1M437.5,298.5h1M435.1,292.8h1M434.2,291.5h1M444.0,290.5h1M465.3,285.1h1M437.5,292.0h1M445.0,297.3h1M429.5,298.9h1M447.6,292.0h1M434.2,288.7h1M435.0,285.9h1M429.3,287.8h1M426.6,298.8h1M428.6,288.1h1M424.7,294.9h1M421.9,284.1h1M449.8,292.9h1M437.4,292.8h1M442.2,294.3h1M437.9,285.8h1M420.7,291.8h1M433.7,276.1h1M425.5,284.8h1M426.3,297.6h1M432.4,291.4h1M434.9,285.4h1M434.2,286.8h1M434.5,287.8h1M430.8,289.8h1M433.7,299.7h1M444.6,299.4h1M453.0,286.7h1M443.4,294.6h1M431.4,291.1h1M436.9,287.7h1M442.0,301.6h1M442.4,301.6h1M444.4,288.2h1M444.5,294.4h1M437.0,293.1h1M430.9,284.9h1M419.6,292.7h1M443.0,291.5h1M438.9,289.6h1M425.7,300.7h1M433.5,281.7h1M429.8,289.0h1M429.4,294.2h1M449.0,285.0h1M430.2,296.3h1M455.1,295.0h1M432.2,298.0h1M426.9,292.5h1M434.5,295.3h1M455.0,289.8h1M432.0,294.9h1M437.9,289.8h1M413.0,288.8h1M438.6,289.1h1M421.0,289.2h1M432.3,290.8h1M445.5,295.8h1M431.0,302.2h1M439.7,289.3h1M431.3,299.0h1M430.3,289.4h1M435.8,291.5h1M443.0,291.5h1M434.2,291.2h1M433.1,288.1h1M424.7,296.6h1M418.1,289.5h1M434.4,285.3h1M431.6,286.9h1M435.7,285.2h1M442.6,292.8h1M440.6,291.7h1M425.4,281.0h1M435.6,288.5h1M435.8,289.9h1M431.0,285.8h1M413.0,296.1h1M426.0,292.0h1M432.4,288.9h1M440.0,291.6h1M430.4,283.0h1M420.7,288.9h1M445.4,286.4h1M432.8,295.8h1M429.1,291.3h1M437.9,291.4h1M439.4,288.4h1M432.4,288.6h1M427.9,291.3h1M428.0,288.1h1M440.3,279.8h1M431.9,291.1h1M437.6,294.8h1M415.9,284.6h1M428.7,283.1h1M429.7,290.2h1M428.8,286.0h1M415.6,302.5h1M429.1,288.6h1M447.2,292.2h1M435.8,279.1h1M428.3,290.0h1M426.6,281.1h1M420.9,292.2h1M435.1,292.7h1M426.0,294.1h1M429.5,297.6h1M441.0,294.3h1M441.5,285.2h1M438.6,299.6h1M418.1,290.7h1M427.9,285.1h1M443.6,289.8h1M422.3,288.3h1M444.3,289.3h1M432.7,288.3h1M441.5,301.7h1M429.2,283.0h1M422.5,289.2h1M423.8,294.2h1M446.0,292.8h1M430.0,291.9h1M421.9,287.4h1M440.3,297.6h1M419.0,298.0h1M431.5,298.3h1M436.0,286.2h1M435.6,296.1h1M436.7,290.5h1M432.1,297.4h1M410.8,291.5h1M435.1,293.8h1M432.5,295.1h1M431.1,285.0h1M437.3,290.6h1M439.8,296.3h1M434.8,278.0h1M446.4,296.2h1M452.7,297.5h1M435.5,300.3h1M429.8,282.3h1M421.2,290.0h1M438.1,289.3h1M416.9,285.1h1M448.1,290.4h1M441.7,287.1h1M428.2,281.9h1M439.0,289.7h1M425.1,286.6h1M423.0,289.9h1M439.8,290.2h1M423.7,283.2h1M435.1,287.8h1M431.7,289.5h1M447.0,301.4h1M435.7,295.9h1M447.1,294.8h1M440.7,291.1h1M426.0,288.9h1M422.4,290.1h1M413.9,291.9h1M433.2,289.1h1M407.8,289.1h1M425.5,286.1h1M411.2,300.7h1M427.3,285.4h1M439.2,280.3h1M424.9,284.8h1M427.9,293.3h1M428.7,295.9h1M435.2,291.3h1M419.5,283.7h1M433.8,289.5h1M431.9,302.0h1M423.5,309.1h1M423.9,289.9h1M443.7,278.0h1M439.3,299.8h1M436.6,294.6h1M425.2,291.0h1M429.7,289.4h1M421.0,286.4h1M416.9,299.9h1M428.5,290.6h1M427.3,294.8h1M421.5,286.7h1M421.7,289.1h1M436.0,285.1h1M428.5,298.0h1M418.5,297.4h1M451.0,295.2h1M417.0,293.9h1M434.6,295.2h1M423.6,298.2h1M438.8,294.5h1M433.3,300.2h1M441.8,285.9h1M432.0,294.0h1M425.8,298.3h1M445.6,290.4h1M432.1,300.2h1M430.8,289.4h1M431.3,293.3h1M426.1,281.9h1M435.8,288.4h1M447.7,295.7h1M446.1,286.5h1M435.3,290.7h1M438.4,287.8h1M439.4,308.3h1M426.9,293.9h1M446.1,293.9h1M434.9,284.4h1M416.3,297.3h1M438.2,289.5h1M424.4,292.4h1M435.3,299.0h1M438.7,294.5h1M429.8,288.5h1M435.1,292.5h1M444.8,292.4h1M420.2,291.9h1M415.6,291.0h1M431.5,289.7h1M430.4,291.9h1M451.3,299.5h1M441.5,292.6h1M437.3,291.0h1M431.7,282.5h1M415.2,297.0h1M420.6,282.9h1M429.6,294.5h1M448.4,298.2h1M420.3,293.9h1M417.9,305.2h1M431.6,287.6h1M412.8,300.1h1M428.0,286.9h1M412.1,300.3h1M448.5,290.6h1M415.7,301.0h1M453.8,291.9h1M451.4,290.2h1M410.8,288.5h1M432.3,300.5h1M417.4,304.6h1M446.3,291.1h1M429.3,293.5h1M451.7,290.2h1M421.7,304.0h1M420.0,289.7h1M412.7,296.4h1M426.4,303.0h1M430.6,298.5h1M425.4,288.4h1M428.9,293.9h1M435.7,294.0h1M423.3,294.5h1M414.8,298.0h1M409.4,286.1h1M416.0,294.9h1M419.4,305.7h1M439.7,305.6h1M438.2,299.1h1M413.6,297.9h1M433.4,289.7h1M437.0,289.4h1M400.3,286.4h1M439.2,298.6h1M421.9,285.8h1M428.2,300.1h1M423.0,296.3h1M408.9,298.7h1M426.5,283.2h1M424.8,286.5h1M436.0,286.9h1M434.0,303.4h1M443.1,294.3h1M433.0,303.4h1M407.6,293.9h1M436.4,290.9h1M406.7,284.8h1M414.0,296.1h1M425.8,293.3h1M412.3,296.0h1M418.9,302.9h1M439.9,282.7h1M415.7,292.1h1M411.3,284.2h1M405.5,288.7h1M467.2,304.4h1M418.1,299.6h1M425.4,289.9h1M425.6,288.6h1M441.5,289.8h1M416.3,294.9h1M411.4,288.5h1M419.2,302.3h1M413.2,296.8h1M403.4,303.6h1M396.8,287.6h1M425.5,292.2h1M418.6,289.7h1M445.7,296.9h1M419.5,300.9h1M443.1,293.8h1M399.7,294.6h1M436.6,288.1h1M412.5,286.6h1M407.9,299.2h1M430.5,289.1h1M426.7,307.9h1M407.9,290.0h1M428.6,310.8h1M448.1,291.2h1M426.7,291.3h1M416.6,283.1h1M423.6,296.3h1M432.0,289.7h1M421.6,286.7h1M439.5,309.5h1M402.8,294.9h1M427.5,303.2h1M432.4,298.1h1M420.9,274.5h1M415.3,281.0h1M447.5,290.1h1M423.6,300.0h1M423.6,290.8h1M416.9,292.2h1M420.4,296.1h1M420.4,282.4h1M423.4,309.3h1M402.5,282.9h1M400.8,298.0h1M415.6,284.9h1M419.8,295.8h1M416.3,299.2h1M435.5,299.9h1M424.4,292.9h1M435.6,292.1h1M428.2,271.8h1M431.9,295.1h1M446.4,304.0h1M427.1,294.1h1M423.9,290.4h1M407.7,307.7h1M428.4,294.7h1M409.4,284.9h1M398.7,298.3h1M428.2,307.0h1M437.3,289.0h1M420.6,282.5h1M422.2,296.3h1M414.8,293.5h1M448.6,285.8h1M430.5,290.6h1M419.7,300.0h1M420.4,297.3h1M426.8,295.3h1M441.2,294.6h1M416.7,285.7h1M411.6,302.5h1M429.4,291.6h1M422.9,295.8h1M402.9,310.5h1M422.8,289.0h1M420.1,293.6h1M418.6,304.5h1M426.9,308.3h1M428.2,287.4h1M449.7,281.8h1M434.0,294.0h1M437.2,296.4h1M418.0,289.1h1M424.8,299.7h1M414.7,298.7h1M414.4,287.4h1M437.1,303.4h1M457.0,285.9h1M435.1,292.4h1M430.7,284.6h1M432.6,308.9h1M436.6,284.7h1M423.6,295.4h1M423.8,289.8h1M434.0,300.9h1M448.6,302.5h1M425.9,285.8h1M400.0,291.0h1M436.4,290.4h1M427.7,289.4h1M413.0,290.0h1M412.3,306.8h1M413.2,297.3h1M421.5,279.2h1M432.3,284.3h1M423.9,301.4h1M410.0,306.1h1M418.6,289.1h1M425.4,290.2h1M433.5,284.0h1M429.0,303.5h1M437.4,281.7h1M427.8,284.6h1M429.1,292.4h1M410.7,297.7h1M427.8,300.6h1M417.1,284.0h1M405.6,286.2h1M432.8,289.2h1M433.4,299.9h1M441.1,288.6h1M436.0,295.5h1M432.1,304.6h1M409.0,296.8h1M422.0,290.1h1M420.9,294.3h1M454.9,300.5h1M412.1,289.4h1M405.8,288.9h1M410.1,285.3h1M440.0,293.0h1M415.6,283.1h1M435.9,300.2h1M417.4,298.1h1M440.4,305.8h1M402.1,295.3h1M418.4,294.3h1M433.9,295.0h1M421.6,304.7h1M411.7,287.0h1M446.4,308.0h1M404.2,302.2h1M441.9,286.9h1M450.4,288.8h1M425.0,296.5h1M406.4,292.4h1M406.0,304.6h1M412.2,303.3h1M423.7,302.5h1M444.9,292.5h1M438.5,298.0h1M439.4,293.6h1M417.7,303.3h1M436.1,305.4h1M436.9,291.7h1M437.7,292.8h1M424.9,291.6h1M419.0,299.9h1M441.6,292.9h1M448.5,307.1h1M421.8,303.5h1M430.4,292.5h1M441.4,302.3h1M447.9,304.5h1M451.3,302.3h1M425.7,282.1h1M444.2,298.3h1M407.5,292.6h1M418.9,276.1h1M430.5,295.7h1M402.9,286.7h1M423.1,287.5h1M427.9,291.5h1M424.9,294.7h1M429.3,306.5h1M441.9,290.4h1M421.4,277.8h1M418.4,290.5h1M433.3,278.9h1M441.0,289.1h1M418.8,287.5h1M445.5,298.3h1M436.2,295.6h1M419.6,290.9h1M424.7,285.8h1M413.6,302.6h1M435.4,305.7h1M426.7,295.5h1M454.6,295.5h1M407.2,281.4h1M417.6,299.0h1M433.0,280.1h1M419.8,290.2h1M414.6,294.4h1M431.5,307.6h1M418.9,283.1h1M428.8,280.9h1M438.5,290.9h1M439.7,290.7h1M402.2,297.9h1M414.3,309.6h1M431.8,300.8h1M422.6,305.9h1M413.9,305.3h1M434.2,301.3h1M426.5,299.3h1M432.0,290.8h1M438.5,284.7h1M419.7,296.5h1M440.4,288.7h1M428.0,297.5h1M429.2,297.2h1M440.5,292.2h1M401.6,299.7h1M401.0,293.0h1M408.4,298.7h1M438.0,301.6h1M427.1,300.1h1M417.2,283.2h1M410.0,293.1h1M400.3,298.5h1M429.6,293.6h1M424.9,300.9h1M430.9,298.6h1M438.7,297.8h1M429.5,308.0h1M445.2,296.3h1M419.3,291.7h1M447.4,293.0h1M431.6,296.2h1M417.4,287.0h1M427.9,301.4h1M457.1,286.6h1M406.9,287.6h1M416.4,293.5h1M419.0,283.5h1M427.7,301.1h1M426.2,293.2h1M452.6,296.2h1M422.2,300.9h1M434.9,297.5h1M417.8,292.0h1M408.9,292.0h1M423.0,290.3h1M421.6,300.1h1M435.1,295.8h1M444.5,295.9h1M418.5,300.1h1M441.1,295.2h1M450.7,303.9h1M403.6,298.9h1M417.6,298.0h1M428.7,290.2h1M419.6,299.3h1M408.5,282.4h1M435.3,306.2h1M410.4,281.2h1M439.1,302.3h1M403.7,303.8h1M440.1,300.8h1M437.1,299.9h1M432.6,297.4h1M440.2,298.7h1M422.0,291.7h1M424.1,289.3h1M441.8,303.2h1M409.8,285.9h1M421.0,293.3h1M421.7,295.2h1M421.5,288.8h1M420.8,295.9h1M424.5,304.3h1M428.8,286.0h1M442.8,298.7h1M436.2,289.6h1M416.0,298.5h1M420.7,282.6h1M411.0,292.3h1M419.4,289.5h1M415.7,303.1h1M440.5,306.3h1M430.2,293.3h1M433.3,283.7h1M419.2,293.9h1M422.3,306.2h1M432.1,282.3h1M413.0,299.0h1M432.2,289.4h1M437.4,301.3h1M416.2,300.5h1M424.6,292.9h1M448.9,302.6h1M431.3,298.3h1M440.7,298.3h1M421.6,307.5h1M412.1,287.0h1M423.5,296.9h1M445.1,296.6h1M448.7,309.6h1M436.4,296.1h1M424.8,290.6h1M430.9,289.1h1M440.9,291.0h1M410.1,296.1h1M438.1,297.3h1M413.2,294.2h1M429.1,290.6h1M435.9,297.3h1M429.4,297.2h1M426.7,292.7h1M444.1,297.5h1M419.5,293.7h1M420.3,294.6h1M411.9,302.5h1M428.1,284.4h1M436.4,290.6h1M423.8,302.4h1M397.6,302.8h1M431.8,299.3h1M434.6,300.1h1M413.0,303.0h1M422.0,294.1h1M425.8,298.2h1M414.2,302.8h1M429.3,284.4h1M426.6,298.4h1M408.5,293.4h1M411.9,304.0h1M445.8,303.3h1M442.8,288.9h1M420.7,290.5h1M409.7,297.6h1M446.3,298.1h1M435.5,293.4h1M443.4,302.3h1M452.2,297.7h1M431.7,288.9h1M426.5,302.5h1M414.2,291.1h1M427.3,296.7h1M410.8,294.5h1M440.8,297.0h1M422.0,289.6h1M448.2,289.5h1M420.3,291.9h1M431.7,308.0h1M413.8,295.0h1M438.1,287.2h1M413.2,303.4h1M444.2,307.3h1M433.3,297.6h1M398.4,289.9h1M405.1,305.4h1M428.7,293.5h1M424.4,298.1h1M454.4,296.2h1M412.3,292.9h1M422.2,297.3h1M425.2,300.1h1M428.6,294.7h1M450.5,284.5h1M424.0,291.5h1M402.0,290.8h1M448.3,302.8h1M431.5,299.7h1M403.5,305.7h1M415.5,289.0h1M420.8,288.4h1M427.2,292.7h1M437.1,290.1h1M421.8,298.9h1M417.7,298.5h1M411.1,286.9h1M422.9,298.7h1M426.4,288.2h1M432.1,283.5h1M412.3,302.3h1M432.3,283.2h1M450.0,288.4h1M438.6,284.2h1M396.9,297.9h1M433.5,280.7h1M425.9,285.4h1M426.2,288.0h1M454.2,293.1h1M409.7,298.2h1M443.0,301.2h1M426.9,306.2h1M416.6,301.8h1M408.0,294.1h1M447.6,300.7h1M426.6,308.6h1M437.1,294.3h1M433.8,310.7h1M422.9,298.1h1M437.6,290.5h1M429.9,307.0h1M422.5,304.6h1M420.6,296.0h1M414.6,285.7h1M429.5,296.6h1M422.5,298.9h1M441.5,293.6h1M420.7,308.6h1M411.9,306.9h1M397.9,290.5h1M436.4,289.7h1M461.9,291.2h1M424.7,294.6h1M438.9,308.7h1M415.4,303.7h1M435.5,298.5h1M430.6,288.4h1M435.7,294.2h1M427.0,295.3h1M421.3,304.0h1M441.0,294.6h1M421.0,292.7h1M442.5,291.3h1M416.5,296.5h1M427.4,280.3h1M414.3,304.2h1M438.9,288.8h1M415.3,305.0h1M413.2,305.0h1M439.1,290.1h1M430.2,298.4h1M424.0,301.0h1M410.7,295.1h1M424.5,276.3h1M431.0,299.9h1M434.9,297.8h1M414.8,286.1h1M432.5,299.5h1M397.3,277.3h1M426.0,304.8h1M411.8,296.8h1M435.6,287.9h1M398.1,278.7h1M403.7,282.3h1M408.2,281.8h1M401.2,299.1h1M405.4,295.6h1M419.3,301.0h1M421.8,276.4h1M415.4,281.3h1M414.3,290.7h1M404.9,295.8h1M414.8,297.9h1M417.7,294.7h1M398.8,287.8h1M406.1,277.2h1M409.3,284.6h1M418.8,279.7h1M403.2,304.5h1M398.0,305.3h1M419.1,294.2h1M413.4,304.3h1M396.5,294.0h1M407.2,290.4h1M406.6,299.5h1M400.2,286.1h1M418.5,305.2h1M400.4,291.8h1M397.0,301.5h1M407.7,298.5h1M404.0,297.4h1M421.8,294.2h1M420.7,283.9h1M405.8,287.5h1M398.2,289.5h1M401.9,289.8h1M414.8,285.1h1M421.7,293.2h1M399.2,292.5h1M401.4,283.8h1M421.3,282.1h1M404.0,304.6h1M419.7,293.9h1M414.5,277.0h1M401.8,290.8h1M398.6,290.1h1M419.3,291.1h1M414.0,283.4h1M422.2,305.0h1M398.8,281.2h1M405.2,303.3h1M412.8,281.5h1M403.3,277.4h1M417.9,279.5h1M417.5,305.6h1M414.6,287.6h1M396.6,292.1h1M419.9,291.7h1M407.4,300.9h1M414.4,283.1h1M406.8,289.2h1M409.9,303.9h1M405.2,297.5h1M409.1,283.8h1M402.1,297.7h1M404.5,301.7h1M408.7,288.0h1M401.4,290.3h1M419.6,297.4h1M399.0,285.9h1M404.1,285.9h1M404.4,297.6h1M400.5,301.5h1M421.0,293.2h1M403.3,286.7h1M400.5,297.9h1M400.4,285.1h1M417.1,278.1h1M404.7,295.1h1M406.6,276.5h1M414.0,296.0h1M420.2,288.5h1M468.3,295.3h1M461.7,304.9h1M471.0,286.5h1M476.2,291.6h1M464.2,288.5h1M468.2,290.8h1M480.0,304.7h1M468.2,297.6h1M459.2,300.3h1M468.7,305.7h1M461.4,289.1h1M455.2,291.3h1M460.7,298.7h1M454.6,293.2h1M457.0,292.1h1M464.0,309.9h1M493.6,241.1h1M469.9,238.2h1M398.5,272.4h1M404.7,263.9h1" stroke="#2e2e2e" stroke-width="1" stroke-opacity="0.53" fill="none" filter="url(#bl)"/>
<path d="M486.9,272.4h1M509.7,256.9h1M503.6,259.7h1M487.2,272.7h1M478.0,277.3h1M483.9,274.5h1M496.0,261.8h1M508.4,256.9h1M496.7,265.1h1M504.4,263.2h1M492.6,265.6h1M501.2,260.3h1M483.6,278.4h1M500.3,262.4h1M489.7,271.4h1M503.8,259.8h1M480.9,277.3h1M484.8,274.5h1M511.1,256.1h1M485.1,274.3h1M497.0,263.2h1M500.1,263.0h1M495.9,269.3h1M492.4,268.7h1M509.4,256.7h1M481.1,277.3h1M506.9,257.2h1M501.3,262.6h1M507.1,258.2h1M499.9,260.8h1M493.1,271.0h1M502.4,261.9h1M506.1,256.7h1M480.2,282.4h1M490.7,270.6h1M506.8,258.4h1M504.4,258.7h1M499.7,264.3h1M507.6,257.1h1M484.1,275.7h1M510.3,254.2h1M506.1,264.4h1M507.8,256.7h1M508.8,256.5h1M483.4,276.1h1M499.1,267.2h1M486.3,272.5h1M501.8,266.3h1M501.0,263.1h1M485.2,273.7h1M511.5,255.4h1M482.3,276.4h1M496.6,265.2h1M490.5,274.6h1" stroke="#666" stroke-width="1" stroke-opacity="0.4" fill="none" filter="url(#bl)"/>
<rect x="395.8" y="218.2" width="117.2" height="93.1" fill="none" stroke="#747474" stroke-width="0.9"/>
<path d="M425.2,311.3 v2" stroke="#555" stroke-width="0.7"/>
<text x="425.2" y="321.2" font-size="7" font-weight="normal" text-anchor="middle" fill="#222" letter-spacing="0.3">10<tspan dy="-2.9" font-size="5.7">1</tspan></text>
<path d="M454.2,311.3 v2" stroke="#555" stroke-width="0.7"/>
<text x="454.4" y="321.2" font-size="7" font-weight="normal" text-anchor="middle" fill="#222" letter-spacing="0.3">10<tspan dy="-2.9" font-size="5.7">2</tspan></text>
<path d="M483.1,311.3 v2" stroke="#555" stroke-width="0.7"/>
<text x="484.3" y="321.2" font-size="7" font-weight="normal" text-anchor="middle" fill="#222" letter-spacing="0.3">10<tspan dy="-2.9" font-size="5.7">3</tspan></text>
<path d="M512.1,311.3 v2" stroke="#555" stroke-width="0.7"/>
<text x="512.2" y="321.2" font-size="7" font-weight="normal" text-anchor="middle" fill="#222" letter-spacing="0.3">10<tspan dy="-2.9" font-size="5.7">4</tspan></text>
<path d="M393.8,288.0 h2" stroke="#555" stroke-width="0.7"/>
<text x="392.6" y="288.6" font-size="7" font-weight="normal" text-anchor="middle" fill="#222" transform="rotate(-90 392.6 288.6)" letter-spacing="0.3">10<tspan dy="-2.9" font-size="5.7">1</tspan></text>
<path d="M393.8,264.8 h2" stroke="#555" stroke-width="0.7"/>
<text x="392.6" y="265.4" font-size="7" font-weight="normal" text-anchor="middle" fill="#222" transform="rotate(-90 392.6 265.4)" letter-spacing="0.3">10<tspan dy="-2.9" font-size="5.7">2</tspan></text>
<path d="M393.8,241.5 h2" stroke="#555" stroke-width="0.7"/>
<text x="392.6" y="242.1" font-size="7" font-weight="normal" text-anchor="middle" fill="#222" transform="rotate(-90 392.6 242.1)" letter-spacing="0.3">10<tspan dy="-2.9" font-size="5.7">3</tspan></text>
<path d="M393.8,218.2 h2" stroke="#555" stroke-width="0.7"/>
<text x="392.6" y="218.8" font-size="7" font-weight="normal" text-anchor="middle" fill="#222" transform="rotate(-90 392.6 218.8)" letter-spacing="0.3">10<tspan dy="-2.9" font-size="5.7">4</tspan></text>
<rect x="426.9" y="264.8" width="26.7" height="20.9" fill="none" stroke="#767676" stroke-width="1.4"/>
<rect x="453.6" y="283.4" width="25.5" height="27.4" fill="none" stroke="#4a4a4a" stroke-width="1.6"/>
<text x="439.8" y="248.4" font-size="11" font-weight="bold" text-anchor="middle" fill="#747474"  stroke="#747474" stroke-width="0.3">A1</text>
<path d="M440.8,251.2 V259.8" stroke="#747474" stroke-width="2.2"/>
<path d="M436.8,257.6 L440.8,262.8 L444.8,257.6 Z" fill="#747474"/>
<text x="483.4" y="263.4" font-size="11" font-weight="bold" text-anchor="middle" fill="#3c3c3c"  stroke="#3c3c3c" stroke-width="0.3">A2</text>
<path d="M478.3,266.4 L471.5,275.6" stroke="#3c3c3c" stroke-width="2.3"/>
<path d="M469.1,278.9 L469.7,271.9 L475.5,276.2 Z" fill="#3c3c3c"/>
<path d="M287.1,405.8h1M289.5,410.5h1M289.7,405.6h1M294.4,401.9h1M303.1,407.4h1M294.5,403.7h1M281.5,410.3h1M298.6,403.5h1M302.9,398.9h1M272.1,413.4h1M300.2,403.4h1M288.9,401.3h1M303.8,399.9h1M293.1,403.6h1M297.4,401.8h1M303.9,404.3h1M297.1,405.1h1M290.1,407.1h1M284.5,397.6h1M290.3,407.1h1M290.5,403.9h1M295.3,405.1h1M299.8,407.3h1M311.0,412.3h1M307.3,410.1h1M300.5,399.4h1M289.5,408.1h1M289.3,415.7h1M292.6,406.6h1M298.5,406.2h1M297.6,408.0h1M287.2,408.2h1M293.2,407.6h1M286.7,410.2h1M297.8,399.4h1M278.8,407.5h1M300.9,403.8h1M310.1,392.1h1M308.6,397.1h1M296.2,406.3h1M274.3,422.1h1M290.0,402.9h1M283.5,414.4h1M290.0,406.3h1M295.9,409.4h1M315.7,399.7h1M304.9,405.0h1M288.3,409.9h1M314.7,400.1h1M293.6,404.3h1M298.9,403.1h1M279.1,403.6h1M291.7,404.0h1M294.7,400.6h1M303.0,406.5h1M313.9,400.5h1M293.2,415.8h1M293.0,413.7h1M295.5,408.4h1M291.1,401.5h1M296.3,402.9h1M298.0,401.8h1M289.2,410.5h1M302.8,395.3h1M302.5,407.6h1M288.1,404.6h1M301.8,408.0h1M286.2,405.2h1M301.2,402.5h1M292.8,408.0h1M289.6,406.2h1M297.5,400.2h1M296.2,400.9h1M297.3,401.1h1M286.1,404.3h1M314.3,395.5h1M297.2,409.6h1M310.1,397.7h1M304.6,402.0h1M296.5,402.0h1M290.1,412.6h1M300.5,398.2h1M296.7,400.0h1M306.2,401.6h1M294.5,410.9h1M290.0,412.6h1M290.3,411.3h1M295.2,405.4h1M286.7,406.5h1M305.2,403.2h1M284.5,407.0h1M297.3,394.2h1M298.5,397.0h1M298.9,406.4h1M288.1,401.4h1M288.5,405.2h1M302.9,399.6h1M289.5,403.3h1M293.2,404.3h1M298.0,404.8h1M301.8,404.7h1M285.9,415.4h1M314.4,398.4h1M283.9,412.9h1M274.8,409.3h1M299.2,405.9h1M289.5,410.9h1M311.2,401.3h1M289.1,407.6h1M292.6,418.2h1M291.0,409.2h1M301.9,402.0h1M286.2,407.6h1M292.2,412.6h1M291.1,405.7h1M291.4,411.4h1M303.1,404.5h1M298.6,404.4h1M291.0,405.6h1M296.3,412.0h1M302.2,405.5h1M292.6,413.5h1M299.4,407.8h1M306.9,407.3h1M301.6,403.8h1M300.4,399.4h1M289.8,397.6h1M286.7,401.6h1M298.2,407.5h1M298.0,407.0h1M293.1,400.7h1M301.7,397.7h1M313.6,402.6h1M276.2,413.5h1M290.3,404.1h1M305.8,406.6h1M290.1,410.0h1M296.7,406.6h1M296.0,407.4h1M282.7,413.2h1M306.2,401.2h1M280.8,407.8h1M296.4,408.4h1M293.5,406.0h1M288.1,415.5h1M288.8,401.5h1M293.8,409.3h1M298.4,405.0h1M299.0,406.2h1M299.7,403.5h1M298.1,404.2h1M294.7,408.0h1M307.9,403.6h1M282.8,403.3h1M296.4,404.5h1M298.2,399.9h1M279.0,416.0h1M299.8,396.3h1M289.5,405.5h1M312.7,401.5h1M292.5,411.1h1M275.5,410.4h1M279.6,407.5h1M294.1,409.0h1M297.6,399.2h1M294.0,407.2h1M291.7,405.5h1M311.6,394.9h1M303.8,413.9h1M298.4,404.6h1M294.0,409.2h1M288.4,405.2h1M293.4,410.1h1M304.7,398.9h1M295.6,406.3h1M295.2,408.3h1M275.7,402.8h1M303.7,408.5h1M299.5,404.4h1M282.9,415.6h1M306.8,409.9h1M314.3,410.4h1M285.6,403.6h1M303.4,405.6h1M285.2,411.2h1M300.7,406.1h1M287.4,412.0h1M306.1,402.9h1M289.2,408.1h1M293.8,404.8h1M295.7,405.0h1M285.6,411.9h1M287.8,406.4h1M307.0,401.1h1M298.7,408.9h1M287.6,415.0h1M299.8,400.3h1M278.4,407.1h1M291.4,408.4h1M299.7,408.9h1M292.9,399.4h1M319.7,396.3h1M293.2,411.5h1M308.2,397.7h1M303.5,414.8h1M299.0,401.4h1M290.8,403.3h1M311.2,400.9h1M297.0,411.3h1M301.1,408.2h1M315.5,401.6h1M318.7,401.1h1M293.6,413.0h1M305.9,405.4h1M290.7,407.7h1M299.2,405.8h1M296.1,408.4h1M306.1,396.6h1M312.3,398.3h1M298.7,409.3h1M294.0,408.6h1M296.9,408.8h1M291.7,413.4h1M309.2,411.1h1M290.5,412.1h1M292.5,401.9h1M298.9,403.3h1M290.1,399.6h1M313.3,396.5h1M297.2,400.2h1M283.7,419.3h1M294.6,404.9h1M298.8,400.6h1M294.8,403.4h1M309.7,401.3h1M299.4,408.6h1M289.3,410.6h1M291.2,397.2h1M295.0,396.5h1M297.2,405.5h1M309.9,409.5h1M291.7,413.0h1M285.0,410.6h1M272.3,414.4h1M298.9,411.1h1M290.3,412.7h1M293.5,409.6h1M284.7,416.7h1M296.1,397.2h1M288.4,408.7h1M300.1,394.0h1M291.1,410.1h1M301.6,400.0h1M303.5,401.9h1M292.1,409.7h1M303.1,406.6h1M296.4,408.2h1M285.3,408.1h1M284.8,410.8h1M302.2,402.0h1M304.3,406.9h1M307.1,405.7h1M301.7,396.6h1M293.2,406.6h1M291.1,402.5h1M305.0,397.7h1M290.7,410.5h1M299.2,399.6h1M292.1,405.8h1M289.3,410.6h1M303.0,404.4h1M293.4,401.6h1M279.6,403.7h1M269.8,409.8h1M294.5,401.8h1M293.0,405.0h1M306.6,402.4h1M306.6,401.1h1M304.5,412.6h1M289.5,414.6h1M303.4,404.5h1M302.1,406.8h1M295.7,405.8h1M311.0,401.4h1M283.5,402.5h1M307.1,403.4h1M301.2,397.9h1M287.4,411.0h1M290.4,405.3h1M306.0,408.6h1M297.2,407.0h1M282.8,407.2h1M294.8,408.7h1M290.6,410.7h1M286.4,403.5h1M287.0,408.1h1M300.8,405.5h1M298.3,408.3h1M281.8,413.9h1M291.4,403.9h1M301.1,402.8h1M300.8,405.5h1M309.1,400.7h1M288.7,414.0h1M290.6,408.0h1M282.3,403.8h1M303.8,400.1h1M306.5,399.8h1M300.4,404.0h1M307.8,402.3h1M294.1,398.9h1M289.9,403.7h1M292.3,401.9h1M307.1,410.6h1M270.9,406.3h1M290.5,411.9h1M308.9,400.3h1M286.0,414.8h1M309.7,400.0h1M311.7,401.4h1M309.3,410.1h1M296.1,406.2h1M305.0,399.5h1M299.8,403.8h1M296.0,406.5h1M293.6,405.5h1M299.0,405.7h1M289.5,404.3h1M293.0,403.7h1M309.9,407.0h1M296.2,402.5h1M290.7,406.1h1M299.8,407.1h1M288.3,409.0h1M288.7,408.0h1M297.7,407.2h1M298.9,395.7h1M300.1,404.0h1M296.5,409.2h1M305.3,401.9h1M296.9,406.0h1M301.0,408.9h1M291.2,411.6h1M293.9,407.6h1M305.9,401.0h1M289.2,411.0h1M299.2,400.5h1M308.4,400.0h1M285.1,412.2h1M288.5,412.5h1M292.8,401.5h1M297.9,399.7h1M288.3,408.3h1M296.3,405.6h1M292.0,406.3h1M289.1,403.9h1M287.8,409.8h1M293.5,400.8h1M299.9,417.6h1M291.8,402.7h1M284.4,412.8h1M300.9,409.2h1M291.8,405.3h1M298.2,407.0h1M295.3,408.0h1M294.4,411.5h1M298.0,402.8h1M307.6,397.2h1M301.7,406.2h1M297.4,401.1h1M302.5,400.0h1M286.9,409.6h1M293.6,416.5h1M300.1,402.7h1M293.6,398.4h1M309.9,404.0h1M295.8,410.1h1M286.2,405.7h1M290.7,410.8h1M298.4,405.6h1M295.3,406.5h1M295.4,401.4h1M296.7,410.3h1M281.0,407.6h1M284.7,410.9h1M295.1,409.9h1M290.5,403.8h1M306.1,400.3h1M293.1,398.7h1M293.3,409.0h1M301.4,399.4h1M300.6,399.2h1M301.0,402.8h1M300.6,406.1h1M312.0,397.3h1M296.7,407.8h1M303.7,401.4h1M292.4,405.3h1M291.0,409.8h1M292.7,411.0h1M306.7,407.7h1M295.2,403.7h1M294.0,406.4h1M293.1,407.3h1M287.5,404.3h1M304.6,404.3h1M291.9,415.2h1M281.3,411.9h1M294.0,409.9h1M291.6,406.4h1M307.2,401.3h1M289.3,402.1h1M303.3,400.8h1M302.5,403.6h1M276.3,406.2h1M296.1,409.2h1M295.9,399.0h1M292.1,399.7h1M293.3,411.5h1M306.3,401.8h1M303.0,404.3h1M284.0,410.3h1M298.7,410.2h1M297.5,401.5h1M299.1,400.8h1M297.9,402.1h1M271.7,406.6h1M304.7,405.5h1M292.4,409.7h1M293.9,415.1h1M298.6,408.0h1M289.8,408.0h1M295.7,411.1h1M289.2,400.5h1M287.0,406.4h1M305.5,403.1h1M292.8,400.8h1M292.2,407.7h1M293.9,404.4h1M299.3,402.7h1M304.7,402.2h1M304.4,403.3h1M284.1,413.9h1M294.3,403.7h1M296.6,406.8h1M286.9,413.0h1M293.0,399.1h1M294.9,407.3h1M301.8,406.0h1M291.5,401.9h1M283.1,415.1h1M303.8,400.3h1M294.3,405.0h1M302.2,409.4h1M301.0,398.3h1M306.5,396.1h1M279.4,408.9h1M314.9,400.0h1M289.0,412.2h1M283.6,407.3h1M293.5,403.5h1M295.1,405.0h1M290.3,411.2h1M296.3,404.7h1M301.1,402.5h1M283.9,408.0h1M296.9,411.0h1M296.4,407.7h1M300.4,407.8h1M291.9,407.6h1M294.5,403.5h1M294.1,413.9h1M284.9,406.3h1M291.6,410.6h1M293.8,405.5h1M294.3,400.1h1M286.9,409.7h1M288.4,412.0h1M298.1,410.3h1M294.0,411.0h1M299.4,406.5h1M312.0,399.3h1M289.3,411.8h1M305.8,405.5h1M287.3,403.5h1M286.7,398.8h1M296.8,403.6h1M296.5,403.5h1M277.6,411.0h1M302.4,400.4h1M285.2,404.2h1M279.7,415.4h1M281.8,411.5h1M303.6,405.9h1M294.6,403.5h1M302.3,400.6h1M302.3,403.3h1M287.3,406.9h1M306.9,396.3h1M297.6,409.6h1M301.0,404.0h1M285.4,412.8h1M303.5,398.7h1M289.4,413.0h1M277.1,411.4h1M297.0,400.8h1M302.3,404.3h1M280.9,404.7h1M281.5,413.5h1M289.6,407.6h1M304.8,394.4h1M293.8,405.0h1M302.3,401.7h1M288.0,409.2h1M294.1,413.1h1M304.6,407.9h1M292.9,406.9h1M284.7,408.2h1M305.5,413.7h1M292.3,404.3h1M286.8,407.7h1M303.3,402.2h1M277.0,412.6h1M291.5,405.8h1M292.8,412.6h1M286.3,415.4h1M288.6,412.0h1M306.7,397.3h1M303.7,405.6h1M290.9,407.9h1M294.0,407.1h1M292.7,407.6h1M299.8,412.2h1M287.7,405.5h1M277.1,412.1h1M291.9,406.8h1M280.0,413.2h1M292.2,404.7h1M283.4,411.0h1M301.4,405.7h1M299.8,401.4h1M286.7,409.9h1M277.9,415.5h1M296.4,400.9h1M289.7,411.5h1M288.0,414.4h1M311.2,399.6h1M289.5,409.2h1M305.1,411.0h1M284.8,404.7h1M308.1,400.5h1M303.3,398.7h1M299.4,409.5h1M308.3,405.0h1M288.1,409.7h1M300.2,403.9h1M291.6,413.3h1M293.5,399.2h1M313.9,404.0h1M276.8,409.5h1M302.7,400.6h1M311.9,409.2h1M285.2,404.0h1M281.8,403.6h1M298.2,410.1h1M295.3,402.4h1M311.6,401.8h1M287.1,403.3h1M287.9,413.0h1M295.1,403.9h1M301.5,407.3h1M265.3,413.5h1M299.4,399.0h1M287.4,408.4h1M286.9,407.5h1M298.2,408.2h1M283.1,406.8h1M297.1,407.6h1M291.3,408.7h1M293.2,405.4h1M283.4,410.5h1M286.8,405.1h1M298.0,410.4h1M288.6,409.0h1M284.5,413.6h1M287.7,405.8h1M284.5,410.8h1M299.8,405.7h1M301.6,395.2h1M295.5,402.5h1M299.8,407.5h1M292.4,406.9h1M300.4,399.7h1M280.0,403.6h1M300.0,408.8h1M301.0,403.4h1M300.8,402.6h1M295.2,412.1h1M302.3,404.2h1M288.2,398.5h1M297.0,400.5h1M307.0,403.7h1M296.7,397.7h1M291.4,402.9h1M304.1,396.3h1M294.2,418.1h1M304.6,406.9h1M302.2,407.5h1M290.4,402.3h1M298.5,403.6h1M297.8,406.2h1M302.6,406.3h1M295.3,410.7h1M289.2,411.0h1M303.0,408.1h1M313.6,398.4h1M285.6,402.2h1M295.4,398.4h1M320.1,402.0h1M294.3,409.6h1M293.5,401.7h1M292.7,398.1h1M298.0,406.8h1M309.3,405.2h1M290.7,403.5h1M293.5,414.2h1M304.8,402.9h1M288.0,412.9h1M298.4,398.8h1M293.9,407.0h1M289.5,406.4h1M290.8,403.7h1M300.7,407.4h1M294.7,404.8h1M294.2,411.0h1M298.3,407.3h1M292.6,404.3h1M285.7,407.7h1M302.4,404.3h1M303.3,400.2h1M302.3,398.0h1M310.0,396.9h1M304.0,407.0h1M284.2,404.8h1M305.1,403.0h1M297.4,409.5h1M281.2,410.1h1M290.4,412.7h1M305.6,403.2h1M283.9,406.5h1M298.7,407.8h1M300.0,402.6h1M297.4,401.5h1M297.8,402.1h1M300.5,405.1h1M294.2,406.7h1M282.0,408.8h1M288.8,415.7h1M301.9,407.4h1M284.1,408.5h1M277.6,410.1h1M296.3,405.4h1M285.3,414.2h1M286.6,405.6h1M301.3,397.8h1M295.6,404.9h1M291.9,415.2h1M294.4,402.0h1M306.5,403.1h1M296.0,407.6h1M299.2,405.9h1M291.4,404.3h1M280.7,402.2h1M298.1,402.3h1M293.7,402.6h1M299.0,408.2h1M300.9,401.2h1M290.3,403.6h1M293.1,402.9h1M304.5,397.9h1M292.9,409.1h1M310.1,402.7h1M294.5,408.8h1M300.5,401.1h1M287.1,404.3h1M292.5,398.1h1M300.0,401.7h1M300.2,408.7h1M300.7,406.9h1M293.0,409.5h1M288.4,416.1h1M286.4,411.2h1M292.5,398.4h1M298.6,407.6h1M303.8,405.0h1M305.6,405.0h1M289.5,407.7h1M292.5,410.8h1M297.0,399.0h1M300.4,412.1h1M288.5,407.2h1M305.1,401.7h1M292.8,406.2h1M291.3,401.8h1M284.3,413.7h1M305.6,398.6h1M285.3,412.9h1M299.3,403.7h1M290.8,408.3h1M293.9,406.6h1M296.8,402.3h1M300.7,405.2h1M308.8,402.5h1M279.2,410.2h1M301.1,406.9h1M299.9,403.9h1M293.0,410.6h1M307.7,408.1h1M322.9,403.8h1M295.9,397.7h1M299.6,410.4h1M276.7,413.3h1M312.2,406.4h1M288.4,407.6h1M304.2,408.3h1M304.4,401.4h1M307.6,393.9h1M292.3,414.4h1M299.0,398.4h1M294.4,406.7h1M295.3,403.2h1M292.4,407.2h1M301.8,397.7h1M299.6,410.3h1M286.5,408.9h1M297.4,410.2h1M295.2,414.7h1M287.7,422.4h1M290.2,412.7h1M297.2,406.6h1M290.1,411.1h1M290.6,404.8h1M309.0,403.3h1M296.4,402.6h1M281.4,411.6h1M295.4,412.2h1M298.4,410.5h1M293.6,405.2h1M294.2,411.2h1M300.0,398.0h1M283.1,410.1h1M284.8,416.6h1M295.3,404.9h1M287.1,405.2h1M283.4,410.0h1M304.4,406.3h1M307.0,400.2h1M296.2,401.9h1M282.8,406.6h1M300.3,410.7h1M288.8,414.4h1M303.3,398.6h1M291.1,405.8h1M303.1,401.7h1M287.7,410.4h1M278.5,403.5h1M291.9,403.7h1M301.4,398.3h1M311.1,401.0h1M310.5,408.9h1M307.7,402.6h1M282.3,409.3h1M282.8,411.7h1M293.1,409.4h1M308.8,403.7h1M299.5,406.5h1M292.6,405.0h1M310.5,407.4h1M293.6,402.8h1M294.3,410.6h1M292.3,413.2h1M303.2,405.0h1M287.3,403.7h1M297.8,403.8h1M297.1,407.7h1M304.1,406.3h1M296.4,402.9h1M295.5,408.1h1M301.8,398.8h1M294.0,404.7h1M297.3,402.9h1M287.6,411.8h1M310.4,407.2h1M292.4,406.1h1M288.2,403.8h1M292.1,390.3h1M304.2,409.3h1M288.7,407.0h1M317.3,387.5h1M292.9,407.3h1M292.2,410.6h1M288.0,408.3h1M297.4,411.3h1M317.2,399.6h1M294.9,408.1h1M296.4,406.2h1M287.0,400.7h1M295.6,406.2h1M299.7,400.7h1M281.4,399.0h1M303.8,413.3h1M285.1,408.2h1M298.4,409.2h1M275.1,414.1h1M286.9,413.6h1M296.6,408.2h1M289.1,405.6h1M306.0,399.3h1M291.4,408.7h1M289.4,407.8h1M295.3,395.8h1M292.8,407.2h1M297.2,402.9h1M302.9,407.2h1M302.3,406.7h1M291.1,414.5h1M292.0,403.1h1M293.7,407.1h1M305.2,398.8h1M295.4,408.9h1M303.4,399.3h1M289.0,409.5h1M286.8,411.8h1M292.5,397.6h1M282.6,408.9h1M285.1,404.8h1M304.5,404.5h1M288.1,409.8h1M302.8,402.8h1M297.1,409.5h1M284.2,405.3h1M288.3,406.2h1M303.3,399.7h1M284.7,401.7h1M281.5,399.7h1M295.3,405.9h1M284.6,398.7h1M293.8,397.9h1M295.2,404.6h1M301.1,408.6h1M283.0,402.9h1M289.3,407.8h1M311.1,395.2h1M305.9,405.4h1M291.3,404.7h1M305.6,398.1h1M294.1,403.5h1M281.3,405.2h1M294.7,415.6h1M305.1,404.4h1M285.1,405.4h1M278.8,410.9h1M307.5,399.6h1M294.7,408.8h1M284.5,405.2h1M298.4,410.6h1M290.2,406.3h1M292.8,408.3h1M296.3,402.4h1M294.8,403.2h1M288.6,403.0h1M278.5,408.6h1M293.6,411.1h1M280.8,409.0h1M302.3,410.9h1M296.0,404.3h1M299.8,404.2h1M291.4,403.8h1M294.5,404.0h1M275.2,406.8h1M300.9,399.5h1M297.4,399.8h1M300.0,406.5h1M303.4,398.7h1M289.6,405.6h1M290.8,410.6h1M284.9,406.9h1M288.7,407.1h1M308.9,406.3h1M287.5,414.2h1M290.3,409.4h1M291.7,413.6h1M314.0,407.3h1M297.8,409.2h1M289.3,405.4h1M302.2,400.9h1M307.2,404.4h1M292.0,406.4h1M305.5,401.3h1M282.4,417.2h1M283.0,406.3h1M292.6,408.7h1M307.8,399.3h1M292.5,401.4h1M308.5,407.8h1M287.3,404.8h1M293.2,404.6h1M292.6,400.0h1M299.2,395.3h1M298.4,396.4h1M298.0,406.1h1M290.2,410.6h1M284.0,408.5h1M304.9,403.7h1M293.4,407.0h1M295.5,399.4h1M300.0,402.3h1M293.4,401.8h1M307.1,415.7h1M304.3,402.2h1M281.2,408.4h1M310.3,396.1h1M295.0,406.1h1M297.5,409.8h1M281.5,410.3h1M288.6,405.6h1M285.0,404.1h1M303.1,407.0h1M283.5,407.5h1M293.7,402.8h1M292.7,411.9h1M294.8,404.2h1M294.0,408.8h1M298.3,411.3h1M303.3,406.4h1M296.1,406.9h1M294.4,410.4h1M276.8,412.7h1M302.2,399.8h1M294.7,406.7h1M305.3,402.4h1M291.7,399.5h1M285.8,422.6h1M299.7,406.9h1M294.2,402.4h1M301.4,404.8h1M299.7,402.4h1M290.1,412.3h1M281.5,408.1h1M291.4,410.5h1M295.6,402.7h1M298.3,401.5h1M294.5,413.0h1M302.6,392.3h1M294.9,410.0h1M292.2,409.6h1M295.5,410.5h1M303.9,411.2h1M297.3,405.1h1M287.7,408.0h1M291.9,408.9h1M290.4,401.0h1M282.2,416.9h1M302.3,402.9h1M296.8,404.5h1M304.1,403.9h1M296.7,401.8h1M284.3,406.7h1M291.4,408.5h1M283.7,409.4h1M302.9,402.9h1M303.2,406.6h1M303.0,401.7h1M290.2,404.9h1M291.3,400.4h1M309.3,403.7h1M286.5,404.2h1M279.6,407.4h1M296.9,407.1h1M304.2,399.7h1M295.9,414.2h1M308.1,405.8h1M310.5,401.1h1M288.1,407.9h1M287.5,413.6h1M285.2,408.6h1M303.7,393.5h1M300.2,403.8h1M298.9,407.1h1M297.3,404.2h1M316.6,403.2h1M298.4,407.0h1M304.9,403.2h1M302.1,401.1h1M298.6,402.9h1M288.8,401.2h1M305.5,405.3h1M290.9,416.3h1M288.6,409.1h1M317.8,391.1h1M291.3,409.4h1M294.5,403.7h1M297.9,406.5h1M285.9,406.4h1M298.1,404.7h1M302.2,409.4h1M285.7,407.2h1M293.1,407.1h1M292.6,404.9h1M293.3,406.1h1M298.7,395.7h1M290.0,416.2h1M293.4,403.6h1M293.6,405.7h1M294.1,402.4h1M316.2,402.7h1M286.5,402.2h1M270.9,412.1h1M297.0,411.3h1M288.7,413.3h1M296.6,403.5h1M286.8,408.0h1M305.3,406.9h1M291.7,404.4h1M292.1,406.7h1M299.3,398.1h1M292.7,405.6h1M291.2,410.5h1M283.1,412.9h1M286.3,408.1h1M295.9,403.1h1M299.6,404.5h1M298.5,412.3h1M308.5,407.9h1M286.1,410.7h1M296.8,412.0h1M303.8,404.7h1M297.2,409.3h1M303.8,399.5h1M293.2,408.0h1M315.5,405.1h1M290.7,411.1h1M300.4,406.6h1M300.6,405.8h1M293.8,400.5h1M303.7,404.2h1M294.4,406.8h1M297.5,400.8h1M299.0,403.8h1M305.6,395.1h1M295.3,407.5h1M297.0,399.6h1M279.6,412.2h1M299.3,404.0h1M297.0,406.4h1M294.9,409.4h1M301.8,393.7h1M306.2,402.2h1M295.9,401.6h1M294.4,400.7h1M286.7,401.0h1M292.0,419.4h1M287.9,403.2h1M293.1,392.5h1M289.2,406.2h1M291.3,401.1h1M280.2,416.7h1M290.7,412.9h1M286.1,406.3h1M294.9,405.6h1M298.3,411.1h1M298.2,405.5h1M299.1,397.9h1M294.6,403.2h1M303.4,409.4h1M280.4,415.9h1M299.0,405.0h1M293.9,411.9h1M284.9,406.1h1M282.3,411.7h1M284.0,406.2h1M303.1,404.9h1M290.3,407.3h1M292.4,407.2h1M312.7,400.6h1M296.7,410.8h1M302.6,412.1h1M293.7,414.0h1M302.4,409.7h1M285.9,402.7h1M304.8,396.3h1M311.3,394.6h1M301.3,394.9h1M288.7,410.2h1M286.6,400.4h1M303.1,403.1h1M298.3,404.6h1M287.2,400.3h1M286.9,406.8h1M290.2,408.8h1M285.4,409.4h1M306.7,407.6h1M296.4,406.2h1M294.2,408.2h1M299.0,400.1h1M294.7,403.3h1M288.2,411.9h1M305.9,400.8h1M316.8,402.3h1M282.4,409.0h1M306.1,407.0h1M298.4,404.1h1M293.9,406.7h1M296.5,408.2h1M297.2,401.7h1M298.8,407.2h1M313.3,406.2h1M296.0,403.4h1M300.0,398.3h1M282.8,409.6h1M308.4,411.8h1M296.8,406.8h1M284.6,413.3h1M294.9,398.4h1M306.1,401.6h1M304.4,400.3h1M288.1,407.5h1M279.9,401.7h1M294.7,414.3h1M292.5,409.2h1M305.5,410.9h1M306.0,404.9h1M313.9,401.9h1M304.1,399.9h1M304.2,398.1h1M305.5,394.4h1M311.8,398.2h1M281.6,407.2h1M293.4,409.0h1M288.2,412.7h1M284.3,414.2h1M293.5,413.6h1M297.6,399.3h1M286.4,406.9h1M289.6,401.2h1M292.9,406.3h1M301.4,401.2h1M298.5,404.8h1M296.0,407.1h1M294.8,406.7h1M289.7,400.8h1M290.6,412.0h1M290.6,403.3h1M310.1,399.1h1M294.5,397.3h1M303.6,404.2h1M275.4,406.5h1M298.6,408.4h1M312.3,397.9h1M299.3,401.2h1M297.5,402.9h1M294.0,405.7h1M293.8,405.8h1M293.9,400.6h1M307.3,403.6h1M301.9,403.4h1M307.4,392.4h1M275.4,406.5h1M279.3,404.6h1M287.6,402.2h1M282.2,410.0h1M306.5,406.1h1M299.0,402.9h1M295.5,398.2h1M295.3,405.3h1M302.2,407.1h1M294.8,399.4h1M292.6,411.3h1M289.3,407.0h1M296.1,408.6h1M291.8,415.6h1M308.8,404.2h1M304.9,411.2h1M301.4,402.1h1M297.1,406.0h1M282.7,407.9h1M301.4,410.1h1M302.9,409.7h1M299.4,402.5h1M303.0,405.1h1M301.9,405.0h1M307.8,395.9h1M298.1,405.2h1M307.0,396.8h1M300.3,410.7h1M297.1,410.0h1M305.3,400.7h1M283.1,408.0h1M293.5,409.8h1M295.9,403.0h1M290.1,407.9h1M284.0,412.8h1M299.8,405.1h1M308.6,404.2h1M292.4,403.4h1M300.6,414.1h1M296.9,408.6h1M293.0,402.5h1M294.4,411.8h1M282.4,415.6h1M285.1,402.9h1M285.4,411.8h1M286.5,412.5h1M298.7,398.0h1M292.3,402.0h1M297.1,403.5h1M293.0,408.2h1M291.4,406.9h1M296.5,407.3h1M289.7,416.0h1M286.0,411.9h1M297.9,402.8h1M297.8,403.9h1M285.8,409.5h1M292.1,411.3h1M309.0,396.2h1M286.3,410.0h1M308.7,397.5h1M295.8,400.8h1M306.9,399.2h1M309.6,395.4h1M292.0,400.5h1M300.9,405.6h1M290.5,401.4h1M278.1,407.3h1M287.9,411.8h1M307.7,398.5h1M282.5,411.5h1M285.2,410.0h1M301.3,400.7h1M316.8,403.4h1M302.6,407.3h1M285.2,408.4h1M296.1,405.0h1M300.2,402.8h1M287.9,401.6h1M291.5,407.6h1M290.8,406.9h1M308.0,400.9h1M295.0,407.7h1M301.6,398.5h1M281.2,401.9h1M297.4,404.4h1M299.9,409.7h1M298.6,404.3h1M308.2,406.0h1M287.6,416.1h1M282.5,408.9h1M294.5,404.0h1M295.1,405.2h1M282.4,407.9h1M299.7,403.6h1M299.3,405.7h1M295.7,410.5h1M301.1,397.5h1M299.7,403.8h1M277.8,414.5h1M285.3,411.2h1M296.3,405.4h1M282.8,410.2h1M297.3,413.9h1M298.5,405.3h1M305.0,400.5h1M305.7,412.1h1M309.1,400.0h1M287.5,406.8h1M300.8,414.8h1M299.5,408.1h1M301.0,406.3h1M288.8,402.4h1M291.3,401.2h1M289.8,408.7h1M296.9,406.8h1M296.6,405.5h1M291.4,406.5h1M295.0,407.2h1M289.4,407.4h1M293.9,412.4h1M296.6,412.6h1M294.1,405.7h1M298.0,400.0h1M293.0,411.5h1M291.0,413.2h1M293.0,399.6h1M293.1,411.3h1M289.2,401.5h1M283.8,406.4h1M299.2,399.5h1M291.3,408.1h1M288.6,409.6h1M256.7,400.1h1M317.8,394.3h1M303.1,407.2h1M303.8,421.7h1M294.0,411.1h1M305.3,410.7h1M292.2,416.6h1M296.3,419.6h1M298.5,426.7h1M287.4,415.0h1M291.7,425.6h1M290.8,408.3h1M286.0,417.4h1M290.4,415.9h1M280.0,406.7h1M280.6,413.0h1M263.4,415.1h1M320.3,405.1h1M300.1,413.4h1M304.3,397.6h1M293.9,406.2h1M286.1,410.8h1M269.8,424.4h1M301.7,405.9h1M287.7,419.5h1M309.0,418.3h1M257.0,418.4h1M282.9,402.3h1M303.6,402.3h1M300.9,412.1h1M273.6,418.0h1M270.7,414.3h1M278.3,418.3h1M284.4,412.4h1M285.1,418.8h1M281.7,412.8h1M315.0,412.0h1M275.4,421.8h1M288.8,422.9h1M304.6,419.4h1M302.4,405.6h1M297.0,404.4h1M304.4,397.1h1M281.9,423.1h1M296.5,406.2h1M286.4,416.3h1M277.1,418.1h1M303.1,417.5h1M269.5,412.1h1M285.6,417.9h1M282.7,403.4h1M280.0,419.3h1M291.2,414.0h1M291.4,407.7h1M280.6,411.5h1M299.3,405.2h1M272.6,429.7h1M274.4,419.1h1M298.5,425.2h1M286.7,415.8h1M276.2,407.3h1M291.4,419.6h1M305.3,425.0h1M270.2,410.4h1M276.3,421.6h1M312.0,403.7h1M317.9,404.6h1M317.0,409.0h1M299.5,409.6h1M328.1,395.0h1M300.2,428.0h1M294.8,416.0h1M296.0,422.6h1M268.5,435.4h1M279.8,411.4h1M289.4,400.8h1M291.5,414.5h1M305.5,407.4h1M299.5,420.2h1M282.3,424.3h1M283.5,410.4h1M303.5,402.8h1M273.2,411.2h1M278.1,422.7h1M287.8,419.8h1M315.9,410.3h1M286.4,406.4h1M305.9,419.4h1M268.2,402.7h1M287.2,420.5h1M278.4,399.5h1M265.3,425.7h1M283.4,400.7h1M303.2,416.5h1M290.4,426.6h1M281.9,414.2h1M290.5,412.9h1M283.6,406.3h1M279.2,427.5h1M277.6,410.1h1M281.5,411.5h1M296.2,424.3h1M271.6,414.8h1M307.0,390.3h1M290.7,424.5h1M282.9,419.0h1M317.7,410.1h1M319.8,405.1h1M296.2,422.9h1M291.6,400.9h1M299.9,413.5h1M265.4,433.8h1M297.1,404.0h1M284.3,410.2h1M294.3,399.7h1M281.0,416.9h1M291.7,394.3h1M263.8,413.5h1M296.0,409.2h1M310.6,421.9h1M294.1,402.0h1M279.1,419.3h1M268.9,419.8h1M286.2,408.3h1M277.6,411.2h1M277.6,411.0h1M306.1,394.6h1M299.4,409.5h1M282.6,404.3h1M296.6,409.8h1M284.8,405.2h1M266.7,404.6h1M269.1,414.6h1M278.7,395.9h1M295.4,405.9h1M297.0,424.3h1M300.5,406.5h1M279.5,405.7h1M295.9,399.1h1M268.8,421.0h1M313.4,408.5h1M302.4,417.5h1M287.3,418.8h1M281.3,407.7h1M293.5,414.8h1M305.6,416.5h1M299.0,419.7h1M309.4,407.2h1M280.3,412.4h1M279.6,410.5h1M276.3,417.7h1M283.8,429.6h1M277.1,415.6h1M281.4,409.0h1M296.5,418.5h1M299.5,412.7h1M289.0,432.3h1M287.3,413.2h1M279.3,411.9h1M292.2,407.0h1M294.0,415.7h1M252.7,427.5h1M278.8,414.9h1M295.2,396.9h1M267.4,407.6h1M306.9,415.1h1M278.2,417.5h1M302.7,409.0h1M309.5,404.5h1M270.5,423.4h1M296.3,413.1h1M318.9,400.6h1M282.6,405.8h1M310.0,404.1h1M286.7,414.5h1M297.9,410.2h1M300.5,424.9h1M283.9,417.3h1M293.2,413.5h1M266.3,417.9h1M279.8,408.3h1M296.3,425.9h1M312.0,411.5h1M292.4,411.7h1M315.1,413.9h1M286.9,429.6h1M297.7,412.7h1M272.6,408.6h1M274.4,420.6h1M306.5,413.9h1M307.3,405.3h1M287.4,415.2h1M254.1,410.6h1M306.0,415.2h1M272.1,401.5h1M321.0,403.2h1M297.1,412.6h1M286.9,418.2h1M307.9,414.5h1M293.3,411.5h1M264.1,417.6h1M300.4,410.9h1M270.1,423.5h1M273.7,423.0h1M277.1,410.9h1M296.7,405.7h1M300.4,417.4h1M292.3,408.2h1M299.7,419.2h1M289.5,424.2h1M294.3,419.3h1M297.8,416.7h1M279.0,420.9h1M269.2,399.8h1M260.7,416.5h1M299.0,396.8h1M263.4,429.9h1M284.7,419.6h1M291.3,404.3h1M296.4,418.5h1M305.6,409.1h1M317.4,410.6h1M303.3,400.8h1M262.2,439.1h1M303.3,410.0h1M282.8,414.8h1M276.1,410.8h1M297.4,410.6h1M296.0,409.6h1M295.1,416.0h1M284.1,412.2h1M269.5,419.7h1M281.6,401.0h1M293.1,415.3h1M270.5,421.1h1M303.6,405.4h1M302.2,418.4h1M296.6,421.3h1M294.9,402.3h1M294.6,412.8h1M290.2,422.2h1M251.3,424.8h1M303.5,408.0h1M301.5,395.5h1M292.9,397.3h1M298.4,412.6h1M276.3,406.3h1M305.0,410.5h1M287.1,412.0h1M294.7,413.9h1M289.8,434.8h1M287.5,414.8h1M254.4,421.5h1M290.3,420.6h1M297.6,409.9h1M289.9,417.3h1M296.2,422.9h1M296.6,412.8h1M266.2,410.0h1M270.2,400.2h1M309.7,423.0h1M296.3,402.2h1M261.2,425.2h1M286.8,413.6h1M323.4,402.6h1M310.0,418.5h1M296.1,408.8h1M291.1,413.2h1M284.7,411.7h1M274.6,424.3h1M285.0,416.1h1M305.2,412.3h1M285.9,417.4h1M278.5,421.7h1M273.8,412.1h1M323.9,404.1h1M291.7,414.6h1M325.0,407.6h1M298.2,407.2h1M292.8,400.8h1M278.6,420.3h1M300.5,423.3h1M257.2,399.4h1M297.2,416.6h1M295.8,419.5h1M288.4,410.7h1M301.0,408.5h1M274.4,415.1h1M282.8,412.7h1M299.4,421.5h1M300.6,417.3h1M300.8,423.3h1M289.0,401.5h1M281.0,409.8h1M272.0,434.6h1M274.2,417.7h1M271.5,418.4h1M273.9,403.1h1M300.7,408.2h1M255.1,397.4h1M281.0,415.0h1M284.8,417.6h1M306.8,406.5h1M311.4,421.5h1M302.6,417.9h1M304.1,410.4h1M289.3,409.6h1M280.0,425.4h1M306.8,431.9h1M263.2,424.1h1M302.1,399.1h1M292.5,405.6h1M299.8,418.5h1M276.4,404.6h1M252.3,427.0h1M299.7,412.3h1M273.1,412.7h1M304.1,385.8h1M295.7,404.3h1M279.1,412.9h1M266.6,423.3h1M261.2,410.6h1M268.4,415.2h1M266.2,420.1h1M277.3,414.7h1M279.3,421.0h1M307.3,408.7h1M304.3,419.3h1M279.2,414.3h1M291.0,408.3h1M302.7,397.7h1M290.5,415.2h1M297.4,417.1h1M282.6,427.0h1M311.1,412.4h1M281.1,413.5h1M304.8,418.9h1M301.9,401.3h1M300.9,407.3h1M312.0,416.2h1M283.4,423.7h1M278.6,434.0h1M285.0,426.8h1M288.9,419.2h1M322.6,409.2h1M275.0,410.4h1M291.1,405.9h1M310.3,397.7h1M302.5,408.2h1M282.7,384.9h1M302.1,412.8h1M273.1,411.1h1M303.6,401.0h1M292.5,406.4h1M280.5,405.1h1M286.0,408.9h1M307.5,414.9h1M282.5,407.4h1M289.2,416.6h1M291.8,408.4h1M285.4,409.8h1M265.9,414.2h1M291.3,415.4h1M310.5,415.0h1M285.9,420.0h1M303.9,409.3h1M306.2,425.4h1M306.9,414.1h1M284.8,413.3h1M289.4,413.2h1M275.3,403.7h1M269.2,415.6h1M290.4,422.9h1M309.0,420.8h1M276.8,409.8h1M281.2,412.0h1M287.7,419.3h1M275.8,424.0h1M284.6,410.7h1M274.0,418.5h1M264.7,415.4h1M293.5,413.7h1M292.2,415.0h1M282.1,414.7h1M291.6,413.3h1M305.2,417.7h1M275.7,426.0h1M307.6,408.1h1M285.1,414.7h1M289.3,407.8h1M304.4,399.9h1M289.8,417.5h1M282.0,412.6h1M265.3,407.5h1M302.6,409.5h1M299.5,415.5h1M317.8,410.4h1M269.6,422.6h1M299.9,404.3h1M293.7,416.3h1M293.2,422.4h1M308.3,397.3h1M290.3,412.2h1M275.5,429.7h1M308.8,416.1h1M306.3,410.7h1M314.2,402.9h1M292.0,408.3h1M258.8,422.0h1M296.5,415.8h1M293.0,403.2h1M304.6,419.5h1M319.6,410.7h1M275.2,420.1h1M259.5,410.1h1M294.3,400.4h1M287.8,410.2h1M274.8,412.1h1M294.5,421.0h1M274.2,413.5h1M265.6,407.8h1M292.8,406.7h1M293.5,421.4h1M278.2,409.2h1M279.7,406.7h1M300.4,417.5h1M293.9,417.9h1M282.3,422.6h1M267.7,420.3h1M276.1,413.5h1M285.4,405.2h1M277.4,420.8h1M277.0,407.0h1M305.4,405.4h1M307.5,397.2h1M299.7,404.3h1M269.6,411.4h1M282.1,409.6h1M275.0,423.9h1M303.8,406.0h1M266.7,406.0h1M277.2,421.1h1M287.6,413.5h1M300.9,396.1h1M289.1,406.7h1M294.4,406.9h1M309.7,419.6h1M325.4,429.8h1M313.6,412.8h1M319.7,433.0h1M328.8,417.2h1M333.9,421.4h1M334.5,434.8h1M310.4,434.8h1M319.6,423.3h1M325.5,431.3h1M318.2,431.2h1M328.5,416.7h1M320.7,418.3h1M316.4,418.9h1M320.9,426.5h1M316.1,439.1h1M316.4,434.9h1M318.7,422.1h1M311.3,418.1h1M328.5,425.8h1M320.8,426.0h1M321.0,412.9h1M319.6,434.3h1M334.3,421.2h1M331.0,437.7h1M309.6,431.0h1M331.2,423.4h1M333.4,437.3h1M323.8,417.1h1M318.5,413.1h1M334.7,433.2h1M318.2,414.7h1M333.5,434.2h1M331.9,424.7h1M314.6,420.0h1M322.3,422.3h1M325.6,415.5h1M311.7,423.4h1M330.9,438.7h1M320.8,418.4h1M310.8,438.7h1M309.8,433.3h1M309.6,413.6h1M311.6,430.2h1M331.9,419.9h1M312.1,419.5h1M327.9,433.7h1M332.6,431.7h1M328.1,419.8h1M313.7,434.0h1M323.5,433.3h1M319.0,437.2h1M324.6,423.6h1M332.8,428.9h1M329.2,403.3h1M326.5,402.9h1M322.1,404.7h1M308.5,414.2h1M327.6,411.6h1M322.6,403.8h1M321.7,407.0h1M336.6,404.3h1M312.0,403.1h1M315.1,408.3h1M310.4,399.5h1M324.1,402.2h1M326.0,405.6h1M330.0,404.0h1M312.0,403.7h1M320.2,402.6h1M328.7,402.8h1M323.9,405.2h1M322.9,408.3h1M315.2,409.4h1M326.8,404.4h1M303.7,403.4h1M334.0,400.0h1M309.8,414.2h1M319.8,402.9h1M317.7,399.9h1M312.2,405.6h1M333.9,414.2h1M306.1,406.6h1M307.4,399.3h1M322.8,394.5h1M324.6,405.6h1M310.4,408.1h1M316.6,404.1h1M315.6,397.5h1M312.4,412.9h1M312.0,402.0h1M309.0,398.2h1M306.8,399.7h1M324.9,396.1h1M308.8,402.6h1M321.3,396.4h1M330.1,405.7h1M320.0,399.8h1M303.7,402.3h1M291.6,377.9h1M276.9,370.2h1M340.8,387.9h1" stroke="#2e2e2e" stroke-width="1" stroke-opacity="0.53" fill="none" filter="url(#bl)"/>
<path d="M354.3,388.8h1M351.0,392.3h1M347.3,402.0h1M355.2,392.2h1M338.0,405.6h1M344.3,400.3h1M349.2,394.2h1M360.2,386.0h1M360.5,380.2h1M360.6,379.9h1M352.7,393.2h1M361.6,384.8h1M349.3,397.5h1M347.9,400.6h1M360.1,387.3h1M337.8,403.6h1M366.6,376.9h1M347.5,398.6h1M363.8,383.4h1M343.8,404.3h1M360.4,384.7h1M356.1,389.6h1M360.6,384.3h1M352.3,396.7h1M351.6,393.6h1M350.1,397.3h1M344.9,402.6h1M355.5,389.4h1M363.3,381.1h1M350.3,393.7h1M350.8,395.3h1M335.7,407.9h1M345.8,402.1h1M340.5,406.6h1M353.0,390.2h1M358.5,387.4h1M361.7,384.7h1M362.2,384.0h1M351.8,390.5h1M365.4,382.7h1M356.6,388.8h1M360.0,383.8h1M340.9,404.7h1M349.9,396.2h1M355.1,388.7h1" stroke="#666" stroke-width="1" stroke-opacity="0.4" fill="none" filter="url(#bl)"/>
<rect x="250.8" y="348.4" width="117.2" height="91.9" fill="none" stroke="#747474" stroke-width="0.9"/>
<path d="M280.2,440.3 v2" stroke="#555" stroke-width="0.7"/>
<text x="280.2" y="450.2" font-size="7" font-weight="normal" text-anchor="middle" fill="#222" letter-spacing="0.3">10<tspan dy="-2.9" font-size="5.7">1</tspan></text>
<path d="M309.2,440.3 v2" stroke="#555" stroke-width="0.7"/>
<text x="309.4" y="450.2" font-size="7" font-weight="normal" text-anchor="middle" fill="#222" letter-spacing="0.3">10<tspan dy="-2.9" font-size="5.7">2</tspan></text>
<path d="M338.1,440.3 v2" stroke="#555" stroke-width="0.7"/>
<text x="339.3" y="450.2" font-size="7" font-weight="normal" text-anchor="middle" fill="#222" letter-spacing="0.3">10<tspan dy="-2.9" font-size="5.7">3</tspan></text>
<path d="M367.1,440.3 v2" stroke="#555" stroke-width="0.7"/>
<text x="367.2" y="450.2" font-size="7" font-weight="normal" text-anchor="middle" fill="#222" letter-spacing="0.3">10<tspan dy="-2.9" font-size="5.7">4</tspan></text>
<path d="M248.8,417.3 h2" stroke="#555" stroke-width="0.7"/>
<text x="247.60000000000002" y="417.9" font-size="7" font-weight="normal" text-anchor="middle" fill="#222" transform="rotate(-90 247.60000000000002 417.9)" letter-spacing="0.3">10<tspan dy="-2.9" font-size="5.7">1</tspan></text>
<path d="M248.8,394.4 h2" stroke="#555" stroke-width="0.7"/>
<text x="247.60000000000002" y="395.0" font-size="7" font-weight="normal" text-anchor="middle" fill="#222" transform="rotate(-90 247.60000000000002 395.0)" letter-spacing="0.3">10<tspan dy="-2.9" font-size="5.7">2</tspan></text>
<path d="M248.8,371.4 h2" stroke="#555" stroke-width="0.7"/>
<text x="247.60000000000002" y="372.0" font-size="7" font-weight="normal" text-anchor="middle" fill="#222" transform="rotate(-90 247.60000000000002 372.0)" letter-spacing="0.3">10<tspan dy="-2.9" font-size="5.7">3</tspan></text>
<path d="M248.8,348.4 h2" stroke="#555" stroke-width="0.7"/>
<text x="247.60000000000002" y="349.0" font-size="7" font-weight="normal" text-anchor="middle" fill="#222" transform="rotate(-90 247.60000000000002 349.0)" letter-spacing="0.3">10<tspan dy="-2.9" font-size="5.7">4</tspan></text>
<rect x="281.9" y="394.4" width="26.7" height="20.7" fill="none" stroke="#767676" stroke-width="1.4"/>
<rect x="308.6" y="412.7" width="25.5" height="27.1" fill="none" stroke="#4a4a4a" stroke-width="1.6"/>
<text x="296.3" y="378.1" font-size="11" font-weight="bold" text-anchor="middle" fill="#747474"  stroke="#747474" stroke-width="0.3">A1</text>
<path d="M295.8,380.9 V389.4" stroke="#747474" stroke-width="2.2"/>
<path d="M291.8,387.2 L295.8,392.4 L299.8,387.2 Z" fill="#747474"/>
<text x="339.6" y="392.7" font-size="11" font-weight="bold" text-anchor="middle" fill="#3c3c3c"  stroke="#3c3c3c" stroke-width="0.3">A2</text>
<path d="M333.3,395.7 L326.5,405.0" stroke="#3c3c3c" stroke-width="2.3"/>
<path d="M324.1,408.2 L324.7,401.3 L330.5,405.5 Z" fill="#3c3c3c"/>
<text x="234.8" y="389.0" font-size="11.6" font-weight="bold" text-anchor="middle" fill="#000" transform="rotate(-90 234.8 389.0)"  stroke="#000" stroke-width="0.3">PE – JON/A</text>
<path d="M438.1,405.3h1M432.2,413.8h1M432.8,406.3h1M436.4,417.9h1M447.5,410.3h1M449.4,412.2h1M442.4,408.6h1M444.2,404.2h1M431.5,412.6h1M437.9,406.9h1M445.3,407.7h1M439.9,402.0h1M444.3,415.4h1M428.4,417.7h1M452.2,407.0h1M436.8,417.3h1M434.1,408.3h1M440.3,407.0h1M408.2,417.5h1M436.6,412.2h1M456.2,404.0h1M434.5,407.0h1M447.3,407.8h1M425.2,407.7h1M427.5,413.1h1M425.9,409.2h1M451.0,401.0h1M423.4,406.1h1M441.8,412.1h1M432.4,412.9h1M444.9,410.8h1M430.2,408.6h1M433.6,407.0h1M442.5,413.0h1M424.6,416.0h1M422.1,410.1h1M456.3,415.9h1M440.0,403.7h1M443.6,407.5h1M439.4,411.9h1M442.4,403.0h1M439.5,408.1h1M442.8,410.5h1M428.9,399.7h1M417.3,411.8h1M433.7,408.6h1M452.5,404.2h1M433.9,409.4h1M423.9,408.1h1M452.3,407.9h1M448.2,402.5h1M434.4,407.9h1M445.8,406.2h1M444.0,402.5h1M428.8,414.9h1M449.7,406.1h1M444.9,403.9h1M443.3,402.8h1M448.9,407.3h1M423.1,413.4h1M438.5,404.0h1M452.7,413.7h1M450.4,401.1h1M427.1,418.0h1M444.9,411.6h1M434.0,404.5h1M442.8,407.5h1M433.1,413.0h1M451.2,400.3h1M457.5,403.3h1M448.7,408.9h1M449.0,403.6h1M441.6,405.8h1M438.4,409.0h1M452.7,402.1h1M447.3,404.3h1M442.6,413.6h1M434.7,407.6h1M430.6,407.9h1M447.5,404.2h1M447.4,410.5h1M440.2,403.2h1M440.9,414.4h1M427.9,411.9h1M434.1,410.1h1M431.9,408.8h1M444.8,407.8h1M438.4,407.1h1M440.1,405.3h1M433.8,399.8h1M440.7,409.3h1M426.0,407.0h1M454.9,406.2h1M440.4,407.8h1M444.3,410.5h1M443.8,409.1h1M433.0,402.9h1M451.7,406.0h1M441.6,406.0h1M438.9,413.3h1M448.9,403.7h1M432.5,406.6h1M445.7,404.9h1M455.2,400.1h1M436.1,408.1h1M444.0,409.6h1M429.0,407.3h1M442.3,405.2h1M442.6,399.2h1M426.4,411.7h1M454.0,404.6h1M457.6,398.4h1M424.3,410.6h1M443.8,396.5h1M436.7,398.0h1M438.1,407.3h1M443.7,403.6h1M440.7,403.0h1M438.5,410.4h1M442.6,410.8h1M436.8,402.4h1M442.0,402.7h1M434.4,410.1h1M447.7,409.0h1M457.2,409.9h1M440.4,414.0h1M437.6,403.9h1M451.6,403.8h1M423.4,410.9h1M438.6,414.1h1M430.4,413.0h1M435.4,407.6h1M431.0,414.7h1M437.6,407.7h1M450.3,408.4h1M432.8,420.2h1M438.1,405.6h1M449.6,409.4h1M444.3,416.5h1M446.2,407.9h1M438.9,414.6h1M435.5,404.6h1M436.1,410.3h1M436.6,409.0h1M428.7,405.0h1M419.9,419.1h1M435.3,408.0h1M441.6,403.1h1M435.0,406.2h1M449.0,410.8h1M449.5,404.4h1M440.4,399.9h1M436.9,412.4h1M443.5,409.7h1M435.3,405.6h1M437.8,408.1h1M432.5,409.9h1M434.1,400.8h1M444.6,410.0h1M436.2,404.3h1M443.9,412.7h1M439.7,420.8h1M440.3,407.9h1M442.5,403.8h1M421.1,412.9h1M436.1,400.7h1M442.2,407.1h1M452.0,402.8h1M444.2,405.6h1M461.3,408.8h1M450.8,400.2h1M441.0,401.0h1M429.0,403.2h1M437.3,402.5h1M437.9,402.0h1M440.6,403.3h1M443.0,401.3h1M428.6,408.0h1M444.0,410.1h1M437.4,405.7h1M434.1,404.2h1M428.9,412.8h1M441.5,407.4h1M435.4,403.1h1M420.7,412.5h1M440.2,395.7h1M438.0,405.0h1M425.6,403.9h1M445.0,402.5h1M437.3,402.7h1M442.9,406.0h1M429.1,412.5h1M435.0,414.3h1M442.7,413.9h1M445.2,410.4h1M433.7,417.2h1M417.2,412.8h1M441.4,411.8h1M437.6,411.0h1M451.2,409.4h1M430.9,405.6h1M443.4,410.0h1M427.0,413.4h1M442.0,399.9h1M436.4,409.7h1M441.3,400.8h1M438.9,409.7h1M437.9,408.8h1M452.7,404.3h1M449.4,412.3h1M439.5,400.7h1M431.6,401.1h1M432.5,410.8h1M448.5,401.0h1M439.8,406.4h1M433.3,410.8h1M433.8,401.1h1M451.0,410.4h1M440.5,407.7h1M432.0,404.4h1M452.3,406.5h1M442.7,405.0h1M427.7,415.6h1M428.8,410.4h1M442.1,406.7h1M433.2,414.5h1M435.7,412.1h1M454.8,408.0h1M456.1,406.1h1M454.8,404.1h1M443.5,408.5h1M441.8,414.8h1M429.9,409.1h1M429.6,403.4h1M440.5,407.4h1M440.9,409.2h1M447.8,406.3h1M446.6,403.7h1M443.7,413.2h1M445.0,399.5h1M441.9,408.6h1M450.8,397.0h1M430.4,412.3h1M456.6,409.3h1M444.8,405.8h1M428.3,405.0h1M442.1,405.0h1M454.4,404.2h1M434.6,407.0h1M444.3,405.8h1M439.1,402.6h1M452.2,405.7h1M441.7,404.1h1M434.5,411.0h1M443.6,407.6h1M443.8,410.3h1M440.7,408.7h1M435.1,410.7h1M427.8,416.4h1M439.4,403.1h1M426.0,408.1h1M432.4,406.2h1M440.4,397.0h1M448.9,415.3h1M447.3,404.3h1M424.8,409.4h1M448.0,401.1h1M422.1,413.2h1M441.5,409.4h1M440.6,412.3h1M447.2,403.1h1M441.2,398.7h1M448.7,409.5h1M434.6,407.7h1M438.7,406.5h1M447.2,409.2h1M435.2,417.2h1M435.1,404.2h1M440.3,415.1h1M426.6,404.8h1M437.8,413.9h1M431.1,404.6h1M452.2,399.5h1M450.4,408.1h1M445.7,411.8h1M458.3,405.2h1M441.5,407.4h1M436.7,413.5h1M442.7,408.5h1M442.4,403.1h1M437.4,405.3h1M442.8,401.7h1M429.5,416.1h1M431.5,413.0h1M442.1,407.8h1M429.3,410.1h1M449.2,402.2h1M443.4,412.8h1M434.7,401.4h1M449.2,401.1h1M441.8,403.9h1M453.8,406.8h1M438.0,415.1h1M435.2,414.8h1M443.5,402.8h1M431.0,409.9h1M448.5,398.0h1M443.0,405.8h1M412.2,418.6h1M439.4,402.4h1M441.4,408.5h1M429.2,409.0h1M437.0,405.0h1M436.8,414.7h1M422.8,415.9h1M441.8,400.8h1M439.1,414.3h1M433.8,414.1h1M436.0,414.3h1M439.9,413.5h1M448.8,408.3h1M443.4,409.6h1M437.3,413.2h1M436.5,411.1h1M435.3,407.1h1M447.7,416.3h1M442.6,409.3h1M435.2,409.6h1M451.0,414.1h1M446.4,401.4h1M432.5,408.4h1M444.1,407.9h1M441.3,405.2h1M442.9,405.9h1M445.7,408.2h1M436.8,409.7h1M435.3,414.1h1M430.3,407.7h1M442.2,406.7h1M439.0,412.8h1M424.9,407.6h1M440.0,401.0h1M443.0,413.2h1M441.1,399.4h1M437.2,402.7h1M445.9,402.1h1M434.9,409.3h1M427.0,402.1h1M452.4,406.9h1M427.5,407.0h1M442.1,409.8h1M454.7,411.1h1M435.7,405.5h1M450.0,399.7h1M437.9,414.0h1M437.5,408.3h1M424.9,413.3h1M445.3,411.2h1M434.4,410.4h1M446.2,402.1h1M432.4,402.4h1M440.9,405.4h1M441.0,407.0h1M451.1,402.5h1M446.8,410.6h1M430.0,408.4h1M447.7,408.7h1M438.8,406.7h1M434.0,416.5h1M435.9,406.1h1M447.9,407.5h1M426.2,409.0h1M435.6,407.3h1M430.5,402.9h1M439.8,409.0h1M437.3,415.2h1M429.8,404.6h1M437.6,404.1h1M437.9,410.4h1M436.6,403.4h1M440.4,402.7h1M449.4,411.4h1M439.4,411.9h1M439.9,413.3h1M444.8,399.5h1M437.5,416.3h1M437.6,412.6h1M434.4,406.9h1M433.8,403.4h1M433.3,403.6h1M440.8,405.7h1M419.4,408.1h1M435.3,403.4h1M440.8,405.4h1M447.8,407.3h1M451.5,404.5h1M426.3,407.2h1M433.5,405.8h1M438.1,406.9h1M424.4,414.1h1M433.1,408.4h1M440.2,404.6h1M436.9,413.1h1M423.5,413.7h1M445.1,404.7h1M431.4,406.0h1M439.2,408.7h1M424.9,411.2h1M438.4,407.5h1M446.3,408.5h1M446.9,408.6h1M446.4,414.7h1M443.3,408.1h1M431.6,401.5h1M427.3,412.9h1M450.8,408.4h1M428.5,407.4h1M431.4,405.6h1M445.2,396.5h1M439.8,409.7h1M450.0,403.6h1M435.4,413.1h1M448.1,410.0h1M463.3,406.8h1M434.1,409.0h1M438.8,405.6h1M434.5,407.3h1M437.8,411.8h1M435.3,408.3h1M445.4,411.9h1M447.0,409.1h1M441.3,412.7h1M446.2,407.7h1M431.1,407.5h1M443.0,397.3h1M434.5,411.8h1M448.4,403.6h1M442.5,406.0h1M423.3,411.8h1M439.3,410.7h1M428.4,414.7h1M436.8,407.5h1M447.9,409.3h1M456.5,405.1h1M443.2,402.9h1M443.5,414.1h1M443.9,400.4h1M437.6,411.2h1M423.6,407.6h1M446.5,404.7h1M441.4,408.1h1M439.6,405.6h1M442.1,401.2h1M443.4,406.8h1M440.5,402.6h1M448.0,397.4h1M439.2,407.2h1M449.1,409.8h1M436.8,409.9h1M436.4,406.5h1M430.6,404.8h1M432.6,417.4h1M418.6,412.0h1M429.0,412.2h1M437.3,400.3h1M447.1,410.7h1M432.1,406.2h1M436.6,407.8h1M437.9,403.9h1M439.0,399.9h1M423.1,411.7h1M434.9,414.4h1M457.1,398.5h1M447.4,409.5h1M433.9,407.9h1M441.1,404.3h1M447.6,413.1h1M437.7,410.6h1M444.5,405.8h1M440.7,410.3h1M432.7,400.6h1M440.1,413.6h1M429.7,405.6h1M438.9,410.4h1M442.2,406.9h1M434.9,411.8h1M443.4,404.8h1M441.4,402.3h1M439.8,405.2h1M435.6,408.8h1M432.7,419.1h1M440.7,406.5h1M440.7,416.6h1M447.6,401.8h1M424.4,415.2h1M441.8,415.7h1M436.9,415.4h1M435.7,408.3h1M429.1,413.4h1M458.1,404.3h1M445.2,412.6h1M439.9,404.3h1M443.5,400.2h1M426.2,409.7h1M438.5,412.6h1M441.2,413.5h1M439.2,411.6h1M428.1,404.9h1M436.5,411.3h1M453.4,412.6h1M447.6,394.6h1M442.9,400.0h1M444.6,400.2h1M461.4,407.2h1M444.0,403.5h1M434.8,412.8h1M425.6,412.4h1M440.5,404.9h1M439.4,413.1h1M423.5,410.7h1M435.6,414.5h1M438.7,404.0h1M436.3,410.3h1M420.6,410.4h1M429.2,408.6h1M428.8,413.6h1M449.4,409.0h1M437.4,412.0h1M430.0,421.0h1M444.4,406.3h1M424.3,406.5h1M435.2,403.7h1M443.3,407.6h1M430.9,405.6h1M430.6,413.6h1M424.6,411.6h1M431.8,418.1h1M445.3,409.8h1M441.8,405.4h1M447.0,413.7h1M433.8,409.3h1M459.8,393.7h1M424.5,406.4h1M430.4,408.9h1M420.0,405.2h1M442.5,403.8h1M440.7,409.9h1M456.6,391.4h1M434.6,404.0h1M435.1,404.0h1M410.3,407.7h1M419.2,415.0h1M438.8,408.5h1M432.4,405.3h1M443.0,408.6h1M429.9,409.1h1M441.1,409.7h1M440.0,409.9h1M424.2,404.8h1M443.8,408.9h1M448.1,399.7h1M439.4,404.8h1M445.1,413.6h1M443.9,410.7h1M436.5,411.4h1M444.4,400.5h1M454.1,406.4h1M429.7,405.4h1M442.0,401.5h1M435.3,407.0h1M438.5,411.3h1M435.6,407.7h1M435.5,404.5h1M439.7,408.0h1M434.1,405.1h1M441.5,410.4h1M421.3,417.0h1M445.9,408.8h1M433.7,407.5h1M433.2,415.8h1M448.0,405.2h1M445.4,409.4h1M444.3,413.8h1M444.0,405.6h1M440.9,401.0h1M430.7,415.8h1M443.9,395.8h1M442.4,406.8h1M444.2,410.8h1M437.4,406.7h1M437.2,416.7h1M432.8,408.1h1M450.6,405.7h1M432.9,420.2h1M443.5,416.7h1M435.1,414.2h1M429.3,411.9h1M436.8,407.3h1M427.0,411.8h1M436.3,413.1h1M438.6,405.7h1M431.6,407.6h1M435.9,409.0h1M439.9,410.4h1M438.7,413.8h1M429.1,410.9h1M439.9,401.2h1M432.8,406.9h1M431.3,404.5h1M436.8,415.4h1M435.4,407.8h1M445.5,412.9h1M440.3,405.6h1M434.8,407.3h1M456.6,403.5h1M449.2,400.7h1M421.2,413.0h1M426.4,404.8h1M430.1,409.0h1M448.6,409.5h1M429.3,411.1h1M438.3,404.7h1M436.4,411.2h1M448.7,403.2h1M435.6,407.5h1M442.7,410.4h1M437.5,420.1h1M450.1,406.3h1M443.4,403.2h1M445.4,409.4h1M436.6,404.9h1M438.1,412.4h1M447.8,401.2h1M455.2,397.7h1M438.4,406.9h1M443.4,404.9h1M430.9,415.4h1M452.1,398.9h1M430.0,412.6h1M443.1,404.3h1M443.1,397.6h1M432.9,407.1h1M429.6,408.0h1M438.3,405.7h1M447.6,409.1h1M427.6,412.5h1M435.8,402.8h1M416.7,414.9h1M437.7,409.6h1M429.3,415.7h1M434.6,407.7h1M439.0,412.5h1M433.1,409.7h1M445.5,408.0h1M448.7,406.4h1M449.3,409.3h1M438.3,409.3h1M435.2,403.3h1M445.5,402.4h1M447.8,403.5h1M434.8,406.1h1M438.8,415.3h1M437.2,409.1h1M445.6,405.4h1M434.8,407.3h1M419.7,408.4h1M444.2,412.8h1M447.0,404.5h1M441.0,410.0h1M446.3,405.2h1M438.8,400.2h1M428.6,407.0h1M442.3,407.4h1M435.3,412.4h1M428.6,405.1h1M448.4,415.2h1M438.7,411.4h1M415.1,423.0h1M443.9,407.9h1M439.6,411.4h1M435.0,411.0h1M435.5,413.1h1M443.4,398.1h1M444.7,403.3h1M445.0,403.5h1M448.9,409.3h1M433.9,405.2h1M452.9,405.6h1M462.1,405.5h1M440.5,414.7h1M443.4,406.8h1M443.8,418.9h1M450.2,409.6h1M428.6,420.1h1M448.8,404.5h1M434.9,406.1h1M439.9,403.9h1M443.1,413.6h1M444.9,402.2h1M438.0,399.1h1M443.4,409.6h1M449.3,410.4h1M441.8,410.3h1M450.5,408.8h1M437.5,404.3h1M422.9,413.5h1M438.4,406.3h1M438.9,408.1h1M438.9,412.4h1M426.0,410.1h1M427.8,409.8h1M435.4,408.0h1M439.2,406.6h1M437.1,409.8h1M449.3,404.4h1M443.5,415.2h1M441.4,410.0h1M437.1,402.5h1M426.3,408.7h1M442.2,408.8h1M436.7,412.0h1M442.2,410.4h1M454.9,406.0h1M439.2,416.4h1M456.4,406.8h1M434.4,409.8h1M434.2,418.7h1M430.7,417.5h1M440.4,408.4h1M421.6,412.6h1M441.3,399.3h1M442.9,398.2h1M445.6,420.7h1M442.1,410.8h1M445.7,401.5h1M445.1,405.5h1M439.7,401.4h1M441.7,401.9h1M435.0,409.3h1M437.6,403.1h1M451.7,406.2h1M429.4,415.4h1M448.7,405.7h1M446.0,400.9h1M426.2,406.3h1M425.5,412.0h1M434.5,402.1h1M442.3,401.2h1M435.9,402.3h1M445.3,415.5h1M437.6,412.0h1M427.8,412.7h1M443.4,410.4h1M445.8,416.4h1M437.0,410.9h1M437.1,403.1h1M427.5,414.6h1M446.0,396.9h1M453.3,410.1h1M439.9,406.0h1M427.4,410.9h1M427.7,415.4h1M438.6,406.9h1M428.2,409.1h1M434.4,409.2h1M429.1,404.2h1M440.2,404.2h1M429.1,416.7h1M447.1,400.6h1M452.1,409.9h1M451.8,414.5h1M426.1,406.3h1M449.7,400.9h1M442.7,411.4h1M444.5,406.8h1M443.6,410.4h1M445.4,404.0h1M443.2,409.5h1M441.2,406.4h1M438.9,413.7h1M434.1,406.2h1M448.6,406.1h1M438.5,396.3h1M436.4,402.2h1M446.8,409.2h1M443.4,413.0h1M438.4,404.8h1M439.2,411.8h1M423.3,407.1h1M429.7,404.7h1M436.1,401.6h1M441.6,400.6h1M442.5,401.8h1M428.8,409.7h1M435.0,408.8h1M441.0,406.7h1M446.4,399.2h1M432.8,410.6h1M431.8,409.1h1M428.2,405.8h1M438.5,413.5h1M441.6,409.2h1M447.4,406.3h1M437.0,410.1h1M447.0,409.0h1M439.8,406.0h1M441.1,411.9h1M428.7,407.2h1M453.6,406.9h1M437.5,415.5h1M449.3,418.9h1M444.8,411.7h1M436.6,406.3h1M434.1,409.7h1M445.5,409.6h1M434.2,409.1h1M432.5,407.4h1M432.4,410.4h1M432.3,413.8h1M433.3,402.9h1M451.3,406.2h1M439.8,405.8h1M448.5,409.3h1M442.8,406.7h1M438.0,403.5h1M436.1,412.7h1M430.3,410.4h1M441.6,409.2h1M439.4,413.2h1M439.3,400.2h1M438.1,413.6h1M443.6,405.0h1M434.5,412.1h1M428.4,410.6h1M433.9,411.2h1M424.2,413.6h1M440.9,408.1h1M452.3,416.4h1M435.1,412.9h1M447.2,405.9h1M455.8,397.9h1M437.1,408.5h1M443.5,411.6h1M445.1,403.1h1M452.6,403.9h1M442.5,412.8h1M433.3,412.6h1M434.4,414.6h1M431.2,404.6h1M437.6,413.7h1M444.7,412.8h1M444.2,406.7h1M434.9,404.7h1M443.9,410.4h1M424.9,407.5h1M438.6,414.6h1M450.2,403.1h1M438.3,407.8h1M435.7,408.8h1M449.7,416.5h1M450.6,402.1h1M439.8,408.2h1M422.0,410.5h1M445.3,412.3h1M455.0,399.4h1M432.0,411.6h1M458.9,403.3h1M432.1,410.3h1M448.6,408.1h1M447.7,403.9h1M446.3,404.9h1M433.1,403.5h1M446.4,409.5h1M427.6,406.6h1M439.5,412.6h1M439.3,407.9h1M440.1,415.8h1M430.0,409.8h1M433.3,410.1h1M424.5,413.9h1M454.6,408.8h1M441.6,408.7h1M433.9,404.0h1M441.9,408.3h1M439.4,407.9h1M453.0,404.0h1M434.7,402.7h1M449.3,401.4h1M427.4,407.7h1M438.5,415.9h1M443.7,404.5h1M437.6,411.2h1M447.9,404.5h1M441.0,411.2h1M434.6,406.2h1M435.4,410.5h1M450.7,408.1h1M439.5,407.0h1M436.8,414.9h1M426.1,405.0h1M427.4,410.1h1M431.5,409.9h1M444.7,411.3h1M449.2,403.3h1M433.8,413.8h1M456.9,400.1h1M441.3,411.5h1M440.8,407.5h1M441.6,411.0h1M432.7,409.0h1M448.0,402.9h1M441.0,410.6h1M445.2,412.4h1M426.0,411.4h1M428.2,413.6h1M446.3,405.9h1M451.8,411.5h1M437.8,410.8h1M437.5,405.0h1M439.1,407.4h1M435.5,413.4h1M430.1,411.1h1M430.4,408.7h1M450.8,402.7h1M434.9,413.2h1M446.1,406.3h1M426.8,414.4h1M444.5,414.4h1M450.2,401.6h1M437.1,405.7h1M448.5,403.4h1M442.4,403.5h1M460.3,405.6h1M438.0,402.3h1M437.9,404.3h1M431.0,412.7h1M438.9,410.0h1M446.0,414.2h1M433.4,418.1h1M451.2,403.0h1M435.2,406.1h1M441.8,411.4h1M451.3,403.2h1M435.0,408.9h1M441.2,414.3h1M437.7,405.7h1M433.4,406.7h1M444.6,404.6h1M421.7,414.4h1M431.0,415.9h1M438.8,406.4h1M442.2,402.4h1M432.6,393.8h1M428.7,419.0h1M453.3,407.6h1M444.8,402.6h1M444.8,404.3h1M440.9,402.8h1M449.4,412.1h1M442.5,413.0h1M428.8,406.6h1M439.8,417.3h1M448.2,408.8h1M425.9,417.5h1M434.8,408.1h1M440.3,408.9h1M439.8,401.0h1M434.5,410.0h1M441.4,401.3h1M442.8,405.9h1M455.3,406.8h1M432.9,415.7h1M439.4,405.2h1M430.6,412.1h1M449.1,398.1h1M442.9,407.7h1M444.6,404.5h1M443.7,404.0h1M454.8,416.8h1M436.9,411.2h1M441.9,406.6h1M444.3,404.8h1M430.5,409.6h1M426.4,403.2h1M446.6,402.1h1M440.6,403.4h1M446.4,400.6h1M439.4,414.2h1M437.8,403.6h1M437.7,408.8h1M441.5,413.9h1M436.7,404.7h1M436.3,401.7h1M450.4,401.3h1M448.6,403.3h1M439.5,409.4h1M453.4,396.3h1M435.5,405.5h1M447.5,408.0h1M448.9,410.9h1M437.7,408.2h1M453.8,412.9h1M430.4,404.8h1M439.5,403.0h1M435.2,409.7h1M451.9,412.4h1M442.8,410.2h1M433.6,400.7h1M438.7,400.4h1M433.7,405.6h1M448.9,398.6h1M433.3,404.1h1M433.3,410.8h1M443.1,410.2h1M435.8,405.0h1M441.8,401.9h1M440.9,417.1h1M435.5,408.2h1M427.2,414.3h1M421.9,419.0h1M440.7,410.4h1M436.9,407.8h1M444.1,405.5h1M441.1,406.6h1M439.0,404.8h1M436.6,409.8h1M446.7,411.5h1M413.3,402.6h1M425.2,400.1h1M443.2,412.4h1M438.3,412.4h1M432.7,414.6h1M435.1,408.0h1M446.0,406.6h1M442.9,410.8h1M440.6,406.7h1M424.9,408.9h1M447.5,404.1h1M433.5,408.8h1M444.3,408.9h1M443.5,406.7h1M425.4,419.2h1M427.9,410.9h1M426.6,418.2h1M430.9,408.0h1M444.7,404.7h1M449.0,406.2h1M441.4,408.5h1M437.7,399.1h1M433.2,402.2h1M451.9,400.0h1M439.2,407.2h1M432.3,404.5h1M439.5,408.3h1M444.0,402.9h1M435.8,416.5h1M435.5,405.6h1M426.5,417.2h1M443.6,406.8h1M433.1,407.5h1M444.5,400.2h1M440.3,408.1h1M440.9,410.2h1M433.8,405.8h1M443.0,403.4h1M429.6,407.6h1M440.6,409.0h1M452.1,402.8h1M458.0,409.4h1M430.4,408.9h1M443.5,409.7h1M439.7,403.7h1M436.4,412.0h1M446.0,400.3h1M428.4,402.0h1M444.2,406.6h1M431.9,414.7h1M450.7,403.6h1M441.9,408.9h1M460.1,403.6h1M449.8,403.4h1M441.1,404.9h1M428.4,408.0h1M419.1,418.9h1M441.2,407.1h1M436.8,411.7h1M447.6,404.6h1M432.2,421.3h1M440.1,412.0h1M433.7,411.5h1M442.7,414.8h1M442.4,406.0h1M427.2,406.7h1M439.4,404.3h1M448.5,407.3h1M442.6,409.9h1M450.0,400.6h1M432.6,411.9h1M425.0,402.5h1M432.8,405.2h1M429.5,411.1h1M453.2,398.8h1M440.5,401.8h1M446.9,415.2h1M452.3,404.9h1M441.4,408.6h1M421.9,411.5h1M420.3,402.6h1M445.3,400.7h1M446.4,396.1h1M430.1,404.3h1M443.3,406.8h1M444.1,410.1h1M440.4,404.8h1M428.4,406.1h1M449.2,406.6h1M430.9,410.8h1M443.5,402.9h1M427.2,408.9h1M431.8,399.6h1M446.2,408.5h1M430.7,405.8h1M426.1,408.0h1M438.3,396.5h1M437.7,408.5h1M429.6,411.5h1M442.2,405.6h1M444.0,407.6h1M441.1,400.6h1M453.3,400.7h1M434.4,406.0h1M450.1,405.5h1M438.2,418.3h1M427.6,414.8h1M428.1,411.6h1M425.8,414.4h1M422.5,406.8h1M441.8,399.0h1M424.7,412.6h1M436.0,412.8h1M439.7,406.7h1M436.8,399.9h1M446.2,407.2h1M428.8,413.0h1M431.0,406.9h1M447.7,412.2h1M447.4,411.1h1M438.1,406.4h1M430.2,414.5h1M432.4,409.2h1M444.9,407.6h1M453.5,410.5h1M433.2,406.0h1M437.2,398.5h1M430.6,406.4h1M447.6,409.5h1M439.3,409.5h1M442.4,404.2h1M433.1,410.0h1M448.9,408.3h1M443.1,410.3h1M447.0,405.9h1M436.3,407.2h1M433.5,409.7h1M441.8,404.4h1M441.1,403.5h1M449.0,399.3h1M448.8,404.5h1M428.1,407.5h1M423.1,408.0h1M449.0,407.5h1M435.4,404.3h1M435.1,416.5h1M444.6,403.9h1M439.9,409.8h1M439.2,406.5h1M442.7,400.7h1M436.2,402.5h1M437.9,399.1h1M435.2,420.9h1M441.5,403.0h1M434.3,409.3h1M451.3,399.5h1M442.6,409.8h1M438.3,405.2h1M447.3,409.2h1M441.8,408.9h1M446.1,412.8h1M444.0,406.3h1M428.2,411.9h1M449.0,408.1h1M447.5,397.9h1M436.1,411.9h1M460.4,398.7h1M428.5,410.5h1M448.1,407.2h1M436.9,407.0h1M438.8,409.5h1M446.8,394.1h1M448.0,410.1h1M446.3,407.8h1M427.9,409.0h1M448.4,400.8h1M433.9,405.2h1M438.1,405.1h1M440.9,408.7h1M427.8,408.7h1M448.9,400.1h1M437.7,401.1h1M430.1,413.2h1M434.1,418.7h1M428.7,404.3h1M429.6,408.1h1M442.5,405.0h1M443.6,411.3h1M450.3,403.7h1M458.8,401.7h1M446.6,399.4h1M419.2,399.8h1M445.4,405.1h1M441.9,405.8h1M445.1,406.1h1M447.1,404.9h1M441.2,417.6h1M447.6,407.8h1M445.7,408.2h1M457.7,396.3h1M434.2,404.3h1M431.3,411.8h1M437.9,410.0h1M460.9,407.0h1M422.5,416.2h1M437.8,405.0h1M430.0,404.8h1M438.7,409.2h1M442.9,416.0h1M431.6,408.8h1M450.0,401.7h1M456.7,405.9h1M435.7,413.7h1M447.0,407.3h1M431.9,398.4h1M430.6,407.6h1M446.0,403.4h1M446.0,409.9h1M430.2,408.1h1M444.8,411.2h1M451.6,403.1h1M434.8,416.2h1M426.3,417.1h1M442.1,398.1h1M448.4,407.8h1M439.5,403.4h1M444.6,409.1h1M435.0,404.0h1M441.8,412.1h1M437.3,413.2h1M441.1,401.8h1M445.6,403.6h1M439.1,417.7h1M438.4,411.7h1M426.5,409.5h1M423.5,402.7h1M434.6,407.5h1M439.2,407.3h1M436.1,414.1h1M439.5,401.4h1M436.7,403.7h1M435.6,417.0h1M434.1,407.0h1M438.4,420.8h1M445.3,406.9h1M436.9,412.1h1M425.4,408.9h1M432.0,415.9h1M431.8,406.8h1M440.2,413.4h1M447.6,407.8h1M416.0,415.7h1M432.9,413.5h1M433.3,403.4h1M457.9,404.3h1M433.2,402.9h1M443.7,407.6h1M452.1,403.9h1M435.2,402.0h1M437.9,408.7h1M438.8,410.0h1M441.0,411.7h1M432.4,411.5h1M440.3,403.5h1M434.6,406.8h1M433.1,409.2h1M451.7,404.2h1M426.6,406.2h1M447.4,402.7h1M437.6,412.4h1M438.6,412.1h1M433.7,400.7h1M440.4,407.6h1M443.0,414.2h1M426.7,410.2h1M417.5,418.4h1M423.1,420.3h1M447.1,410.0h1M427.6,410.1h1M447.3,396.7h1M440.3,416.9h1M417.1,422.0h1M422.6,427.5h1M436.4,420.6h1M454.0,404.7h1M443.5,406.8h1M404.6,404.6h1M440.6,404.5h1M430.4,413.5h1M436.4,407.1h1M444.9,400.6h1M420.3,424.7h1M447.4,422.7h1M431.1,410.1h1M420.5,410.6h1M440.9,423.2h1M421.4,416.7h1M421.8,422.0h1M423.7,411.3h1M440.5,401.4h1M447.1,403.7h1M427.2,404.5h1M459.3,410.5h1M431.7,416.7h1M440.6,403.8h1M437.8,415.2h1M433.3,411.2h1M418.4,410.1h1M435.2,418.9h1M425.7,427.8h1M423.1,405.4h1M419.5,414.9h1M436.9,405.7h1M427.4,409.7h1M434.4,422.6h1M425.6,411.3h1M416.2,418.5h1M419.5,415.8h1M449.7,412.9h1M441.2,410.7h1M437.3,409.1h1M441.3,415.9h1M418.1,409.8h1M444.6,397.0h1M412.4,416.2h1M425.5,403.1h1M424.8,414.0h1M426.0,415.7h1M409.6,421.5h1M446.6,401.1h1M410.5,416.4h1M443.9,415.5h1M437.9,404.0h1M436.1,413.3h1M429.7,410.5h1M426.2,424.8h1M422.5,419.0h1M451.0,411.3h1M427.1,408.9h1M422.3,410.0h1M444.7,408.5h1M459.7,411.3h1M416.6,405.5h1M431.4,413.5h1M431.0,413.7h1M418.8,423.9h1M417.2,408.7h1M439.3,404.7h1M431.1,404.0h1M441.9,415.0h1M413.7,406.1h1M416.8,411.8h1M421.4,426.9h1M430.4,411.2h1M435.7,414.7h1M427.2,408.9h1M406.3,422.7h1M421.6,422.4h1M453.0,410.9h1M422.5,397.2h1M436.7,414.2h1M425.8,417.2h1M436.9,417.4h1M442.9,420.9h1M408.9,421.8h1M428.9,407.9h1M450.3,418.5h1M421.5,418.2h1M422.6,416.7h1M434.0,408.1h1M439.0,411.7h1M413.2,417.8h1M445.4,396.7h1M432.2,401.6h1M433.7,407.8h1M436.2,417.3h1M430.5,412.2h1M446.1,423.2h1M431.3,424.5h1M437.9,417.1h1M431.8,413.1h1M436.9,408.6h1M434.9,414.3h1M417.3,424.6h1M443.3,411.6h1M418.4,415.5h1M441.2,407.0h1M437.0,405.3h1M419.7,410.4h1M433.6,403.3h1M428.7,409.2h1M435.8,411.2h1M422.1,407.0h1M446.5,407.2h1M435.3,422.2h1M446.7,404.6h1M426.0,409.0h1M424.5,419.8h1M438.1,405.1h1M415.7,422.7h1M425.2,399.5h1M451.7,424.2h1M425.7,410.5h1M434.6,416.2h1M415.3,417.1h1M445.8,405.3h1M418.2,409.4h1M417.9,408.3h1M436.1,403.0h1M419.9,421.0h1M408.1,417.1h1M419.3,416.0h1M436.4,410.9h1M427.3,426.4h1M438.9,403.2h1M442.6,406.8h1M440.1,405.1h1M451.3,405.6h1M434.7,416.4h1M449.7,415.2h1M429.3,416.9h1M450.3,419.8h1M444.7,415.8h1M446.9,412.0h1M473.1,404.7h1M437.9,415.5h1M441.8,398.4h1M445.9,414.0h1M446.4,408.5h1M442.4,409.0h1M443.0,420.5h1M433.6,409.8h1M426.3,425.3h1M416.8,418.5h1M435.0,416.4h1M425.6,416.7h1M415.2,411.7h1M453.5,399.8h1M447.9,408.1h1M436.5,406.5h1M418.2,418.1h1M433.2,417.9h1M434.9,410.8h1M427.8,419.5h1M452.6,407.5h1M446.5,402.7h1M419.4,405.3h1M439.1,401.3h1M412.5,422.2h1M440.0,406.2h1M442.9,408.6h1M451.9,410.1h1M401.8,423.3h1M454.0,407.1h1M422.0,404.9h1M443.4,409.0h1M421.3,414.1h1M434.9,400.9h1M440.7,411.1h1M431.0,411.3h1M441.0,398.9h1M428.0,399.2h1M425.1,412.0h1M423.7,413.6h1M414.5,417.5h1M433.8,416.1h1M426.3,415.4h1M453.8,402.2h1M427.7,401.6h1M449.5,413.9h1M399.5,417.7h1M439.8,407.9h1M437.8,409.7h1M448.5,413.6h1M457.2,415.6h1M439.7,421.8h1M455.4,407.0h1M429.6,410.0h1M427.3,412.3h1M447.8,404.7h1M437.8,412.7h1M448.5,410.7h1M422.8,428.0h1M430.0,401.5h1M437.6,418.2h1M433.8,406.1h1M445.9,399.3h1M471.7,404.2h1M431.9,407.9h1M452.7,407.6h1M431.1,408.0h1M415.1,415.4h1M414.7,424.0h1M421.6,414.5h1M407.1,427.2h1M431.6,409.0h1M442.7,409.0h1M404.8,409.6h1M428.7,417.0h1M417.5,422.8h1M450.4,407.3h1M450.6,411.4h1M438.2,413.5h1M434.8,418.0h1M428.3,417.8h1M432.4,407.6h1M454.7,409.3h1M442.3,409.2h1M437.4,398.8h1M457.9,400.2h1M436.7,410.7h1M438.3,403.8h1M428.1,417.6h1M413.0,420.9h1M435.1,410.4h1M428.5,410.1h1M445.2,408.9h1M415.6,402.4h1M416.5,423.1h1M433.7,406.2h1M423.6,410.3h1M426.3,407.9h1M433.5,414.9h1M420.3,419.5h1M431.4,413.7h1M457.7,408.9h1M434.3,420.6h1M428.8,408.7h1M435.8,417.2h1M423.7,423.4h1M438.9,408.7h1M445.3,410.2h1M426.1,421.8h1M426.8,416.5h1M439.5,415.5h1M411.0,421.3h1M450.5,417.3h1M423.4,414.3h1M408.6,413.0h1M434.1,415.8h1M419.0,408.8h1M415.1,413.4h1M419.9,405.4h1M432.8,410.1h1M438.7,414.6h1M408.7,414.2h1M432.4,411.3h1M420.4,422.6h1M429.3,418.2h1M440.5,407.2h1M436.7,416.4h1M447.8,404.8h1M420.4,423.2h1M433.5,411.1h1M438.5,414.0h1M424.8,420.3h1M422.1,417.6h1M413.0,419.8h1M414.2,402.8h1M457.0,403.3h1M424.7,415.7h1M434.1,401.1h1M435.2,411.3h1M427.7,414.2h1M435.1,406.1h1M439.4,409.0h1M423.3,414.5h1M448.9,414.0h1M435.2,413.7h1M427.8,416.5h1M429.9,419.4h1M448.8,413.3h1M453.9,413.2h1M478.6,417.4h1M478.2,434.1h1M474.9,432.8h1M478.6,415.0h1M462.8,427.5h1M461.3,426.3h1M476.5,413.8h1M476.9,420.0h1M457.1,434.5h1M453.4,407.1h1M455.2,410.7h1M461.2,407.8h1M465.4,402.4h1M472.7,406.1h1M447.7,402.5h1M457.3,402.8h1M463.2,404.7h1M452.3,403.4h1M457.9,413.1h1M449.3,408.6h1M459.4,403.8h1M468.9,408.1h1M475.2,411.5h1M457.3,406.3h1M461.5,411.6h1M472.0,401.1h1M468.7,403.6h1M466.9,407.0h1M466.9,403.6h1M435.5,370.9h1M469.7,384.8h1M507.9,388.3h1" stroke="#2e2e2e" stroke-width="1" stroke-opacity="0.53" fill="none" filter="url(#bl)"/>
<path d="M480.4,408.7h1M485.3,406.6h1M505.5,389.8h1M494.9,398.7h1M503.2,387.5h1M490.7,402.6h1M508.5,384.4h1M494.8,397.4h1M490.5,401.6h1M486.0,407.4h1M479.4,410.7h1M504.6,386.2h1M494.4,398.5h1M510.1,382.4h1M500.6,388.2h1M496.1,398.5h1M491.5,401.6h1M486.5,404.2h1M493.1,397.7h1M491.8,398.9h1M507.1,382.4h1M503.9,389.2h1M486.1,402.9h1M493.9,399.8h1M487.0,406.5h1M502.5,390.9h1M496.3,393.7h1M499.5,392.1h1M483.6,408.3h1M500.8,390.0h1M489.1,404.6h1M510.4,384.8h1M489.4,403.8h1M500.0,392.4h1M484.2,408.9h1M503.1,386.8h1M503.8,389.1h1M500.3,392.7h1M495.0,397.9h1M488.3,405.3h1M496.5,396.0h1M507.7,385.1h1M503.7,386.6h1M492.7,399.0h1M506.3,386.2h1M497.3,394.3h1M498.3,394.4h1M480.9,410.7h1M493.4,397.5h1M495.0,400.8h1M501.6,393.5h1M482.9,405.3h1M480.6,409.7h1M507.2,384.7h1M489.3,400.8h1" stroke="#666" stroke-width="1" stroke-opacity="0.4" fill="none" filter="url(#bl)"/>
<rect x="395.8" y="348.4" width="117.2" height="91.9" fill="none" stroke="#747474" stroke-width="0.9"/>
<path d="M425.2,440.3 v2" stroke="#555" stroke-width="0.7"/>
<text x="425.2" y="450.2" font-size="7" font-weight="normal" text-anchor="middle" fill="#222" letter-spacing="0.3">10<tspan dy="-2.9" font-size="5.7">1</tspan></text>
<path d="M454.2,440.3 v2" stroke="#555" stroke-width="0.7"/>
<text x="454.4" y="450.2" font-size="7" font-weight="normal" text-anchor="middle" fill="#222" letter-spacing="0.3">10<tspan dy="-2.9" font-size="5.7">2</tspan></text>
<path d="M483.1,440.3 v2" stroke="#555" stroke-width="0.7"/>
<text x="484.3" y="450.2" font-size="7" font-weight="normal" text-anchor="middle" fill="#222" letter-spacing="0.3">10<tspan dy="-2.9" font-size="5.7">3</tspan></text>
<path d="M512.1,440.3 v2" stroke="#555" stroke-width="0.7"/>
<text x="512.2" y="450.2" font-size="7" font-weight="normal" text-anchor="middle" fill="#222" letter-spacing="0.3">10<tspan dy="-2.9" font-size="5.7">4</tspan></text>
<path d="M393.8,417.3 h2" stroke="#555" stroke-width="0.7"/>
<text x="392.6" y="417.9" font-size="7" font-weight="normal" text-anchor="middle" fill="#222" transform="rotate(-90 392.6 417.9)" letter-spacing="0.3">10<tspan dy="-2.9" font-size="5.7">1</tspan></text>
<path d="M393.8,394.4 h2" stroke="#555" stroke-width="0.7"/>
<text x="392.6" y="395.0" font-size="7" font-weight="normal" text-anchor="middle" fill="#222" transform="rotate(-90 392.6 395.0)" letter-spacing="0.3">10<tspan dy="-2.9" font-size="5.7">2</tspan></text>
<path d="M393.8,371.4 h2" stroke="#555" stroke-width="0.7"/>
<text x="392.6" y="372.0" font-size="7" font-weight="normal" text-anchor="middle" fill="#222" transform="rotate(-90 392.6 372.0)" letter-spacing="0.3">10<tspan dy="-2.9" font-size="5.7">3</tspan></text>
<path d="M393.8,348.4 h2" stroke="#555" stroke-width="0.7"/>
<text x="392.6" y="349.0" font-size="7" font-weight="normal" text-anchor="middle" fill="#222" transform="rotate(-90 392.6 349.0)" letter-spacing="0.3">10<tspan dy="-2.9" font-size="5.7">4</tspan></text>
<rect x="426.9" y="394.4" width="26.7" height="20.7" fill="none" stroke="#767676" stroke-width="1.4"/>
<rect x="453.6" y="412.7" width="25.5" height="27.1" fill="none" stroke="#4a4a4a" stroke-width="1.6"/>
<text x="440.3" y="378.1" font-size="11" font-weight="bold" text-anchor="middle" fill="#747474"  stroke="#747474" stroke-width="0.3">A1</text>
<path d="M440.8,380.9 V389.4" stroke="#747474" stroke-width="2.2"/>
<path d="M436.8,387.2 L440.8,392.4 L444.8,387.2 Z" fill="#747474"/>
<text x="483.9" y="392.7" font-size="11" font-weight="bold" text-anchor="middle" fill="#3c3c3c"  stroke="#3c3c3c" stroke-width="0.3">A2</text>
<path d="M478.3,395.7 L471.5,405.0" stroke="#3c3c3c" stroke-width="2.3"/>
<path d="M469.1,408.2 L469.7,401.3 L475.5,405.5 Z" fill="#3c3c3c"/>
<path d="M320.4,562.3h1M312.6,560.5h1M329.1,570.6h1M322.2,561.9h1M328.8,553.7h1M317.9,568.0h1M310.3,563.0h1M318.9,562.9h1M318.1,562.9h1M319.3,560.7h1M320.6,566.8h1M326.4,550.6h1M309.3,548.1h1M324.4,569.2h1M317.9,556.7h1M326.2,552.4h1M323.1,551.3h1M327.9,557.8h1M329.3,561.3h1M315.4,566.1h1M315.2,558.6h1M322.2,567.3h1M319.4,559.5h1M326.9,568.4h1M322.0,560.4h1M313.2,560.5h1M320.8,569.5h1M317.5,568.3h1M313.3,547.1h1M308.9,540.8h1M310.1,564.5h1M319.6,551.1h1M314.5,565.9h1M329.0,567.8h1M311.2,558.0h1M323.2,566.7h1M311.2,563.1h1M317.4,554.3h1M311.6,556.8h1M328.8,561.4h1M325.0,539.2h1M315.1,556.5h1M313.4,556.9h1M316.4,561.9h1M316.5,558.6h1M319.0,547.7h1M314.2,565.3h1M323.4,557.9h1M314.0,559.8h1M328.8,567.1h1M320.8,562.3h1M334.1,551.1h1M330.3,555.5h1M323.4,537.3h1M321.4,558.9h1M313.5,553.6h1M329.8,553.0h1M325.9,566.8h1M322.2,550.5h1M312.7,557.9h1M321.1,558.4h1M311.1,571.3h1M316.3,566.4h1M329.2,552.8h1M309.4,551.0h1M324.8,568.1h1M315.8,557.9h1M318.9,565.8h1M326.7,555.7h1M313.0,569.7h1M313.1,564.5h1M330.0,565.3h1M329.4,563.3h1M327.5,548.8h1M313.7,560.3h1M322.2,548.4h1M326.8,568.0h1M322.0,562.9h1M320.5,555.0h1M314.9,554.3h1M322.8,553.6h1M328.1,558.3h1M324.9,559.3h1M328.4,547.3h1M317.9,561.7h1M308.8,552.8h1M319.4,559.5h1M314.1,563.1h1M314.4,561.0h1M309.1,555.4h1M318.8,560.9h1M316.7,569.7h1M306.3,568.0h1M323.1,567.6h1M322.9,568.8h1M329.8,568.4h1M322.2,549.6h1M318.5,553.7h1M328.3,552.6h1M317.1,566.4h1M320.6,563.2h1M324.3,560.1h1M316.0,552.8h1M323.9,554.3h1M325.2,561.0h1M332.3,552.4h1M310.5,562.5h1M313.9,558.9h1M331.1,558.0h1M326.6,568.7h1M313.1,566.9h1M315.4,561.1h1M326.8,543.2h1M307.0,551.4h1M313.3,556.0h1M323.1,551.5h1M325.2,559.9h1M313.7,549.0h1M308.0,565.4h1M317.3,563.8h1M321.0,574.0h1M318.0,569.6h1M325.4,553.7h1M315.4,556.7h1M312.4,552.2h1M336.7,567.6h1M316.8,543.6h1M309.7,555.1h1M320.6,559.3h1M317.6,569.5h1M335.9,570.1h1M318.2,556.1h1M317.8,544.6h1M323.6,553.6h1M312.1,544.3h1M327.9,563.9h1M322.8,559.1h1M322.8,550.8h1M321.5,557.7h1M301.1,559.5h1M320.9,551.3h1M316.6,558.3h1M322.8,561.6h1M327.0,565.8h1M322.3,568.3h1M322.2,555.4h1M326.4,554.5h1M330.8,562.6h1M330.2,565.8h1M306.9,551.1h1M323.6,561.8h1M313.1,566.6h1M318.5,570.6h1M312.1,567.2h1M312.1,554.9h1M322.8,559.7h1M316.9,568.7h1M317.9,562.1h1M320.8,552.0h1M321.5,558.1h1M319.1,562.6h1M324.9,552.3h1M339.4,566.0h1M324.7,557.8h1M325.7,557.3h1M321.6,567.2h1M322.4,567.2h1M320.5,555.9h1M307.6,559.4h1M330.7,566.1h1M327.0,562.9h1M328.2,558.4h1M323.6,558.7h1M327.1,553.8h1M319.2,545.2h1M312.2,561.0h1M314.0,564.1h1M330.1,567.2h1M331.2,556.8h1M330.6,566.6h1M318.2,572.5h1M327.5,558.5h1M319.1,568.4h1M318.9,556.6h1M327.2,565.5h1M328.6,551.0h1M320.4,562.6h1M309.2,568.2h1M315.5,557.7h1M328.8,555.3h1M329.3,560.7h1M324.1,564.2h1M321.0,559.7h1M305.1,554.8h1M319.1,560.2h1M323.0,564.1h1M330.5,553.6h1M315.5,551.6h1M322.0,552.6h1M321.1,557.0h1M318.8,559.2h1M320.5,567.7h1M309.9,555.5h1M320.2,551.3h1M324.3,562.7h1M315.0,552.8h1M311.2,554.7h1M315.7,567.5h1M320.9,573.8h1M323.2,563.4h1M329.8,553.3h1M330.9,565.2h1M323.0,562.8h1M321.9,557.9h1M315.9,534.9h1M323.5,574.0h1M319.6,549.5h1M320.7,560.9h1M315.0,552.1h1M336.3,565.1h1M324.7,550.4h1M315.9,572.8h1M316.7,575.3h1M316.0,557.5h1M325.9,547.7h1M320.7,561.0h1M326.1,560.4h1M332.8,559.4h1M306.0,563.4h1M330.7,558.6h1M318.9,547.2h1M317.7,562.2h1M323.1,545.9h1M333.7,564.5h1M318.8,557.3h1M329.3,548.8h1M322.7,552.6h1M315.7,557.5h1M327.5,554.4h1M326.5,558.2h1M319.5,551.0h1M316.6,557.3h1M321.4,564.8h1M315.6,563.1h1M324.9,567.5h1M332.0,558.1h1M323.7,553.3h1M321.2,575.0h1M327.7,565.3h1M315.5,543.9h1M323.2,556.7h1M314.0,566.4h1M315.3,562.0h1M328.8,552.7h1M312.5,561.3h1M322.4,552.8h1M320.3,568.6h1M308.7,567.8h1M320.0,552.8h1M316.7,554.0h1M320.3,573.0h1M306.8,569.6h1M318.5,551.8h1M315.6,554.2h1M321.3,563.1h1M324.0,567.3h1M321.4,549.5h1M311.4,561.6h1M323.7,563.5h1M324.3,559.2h1M325.0,571.6h1M316.9,558.8h1M329.4,550.6h1M318.5,567.1h1M316.4,559.6h1M322.1,572.1h1M325.4,567.4h1M314.5,554.9h1M322.5,567.2h1M330.6,552.2h1M328.3,562.3h1M318.4,551.5h1M317.5,561.0h1M326.8,552.9h1M328.4,571.5h1M312.7,560.4h1M315.3,549.2h1M315.2,560.6h1M324.0,560.3h1M317.3,551.7h1M315.3,554.2h1M324.9,566.5h1M319.3,563.2h1M328.5,565.6h1M316.2,571.5h1M320.0,563.2h1M326.2,566.8h1M326.1,544.1h1M331.3,559.6h1M320.1,559.6h1M323.9,555.2h1M327.2,566.6h1M329.2,567.9h1M317.0,559.6h1M326.3,561.8h1M337.4,550.0h1M327.7,564.0h1M335.5,569.0h1M319.8,555.2h1M310.4,561.0h1M320.9,558.3h1M318.1,557.1h1M317.5,556.3h1M338.4,562.3h1M318.6,560.3h1M321.9,562.5h1M315.3,562.5h1M327.7,554.5h1M322.0,557.6h1M316.7,569.9h1M326.3,566.4h1M329.5,565.9h1M331.6,564.1h1M317.9,555.6h1M325.0,558.0h1M322.6,566.4h1M324.6,562.6h1M318.0,566.3h1M327.1,565.7h1M337.5,567.8h1M308.7,556.5h1M324.8,557.1h1M309.4,563.6h1M323.8,559.0h1M323.1,556.6h1M319.8,563.8h1M324.0,555.2h1M323.7,557.3h1M319.9,568.7h1M304.8,557.8h1M324.0,565.8h1M331.4,560.3h1M313.7,556.6h1M318.3,573.2h1M319.5,566.6h1M316.3,566.9h1M321.5,570.8h1M327.4,549.7h1M322.9,556.3h1M319.5,555.8h1M325.2,549.9h1M318.1,567.5h1M319.0,561.7h1M327.3,566.2h1M311.9,562.8h1M309.7,562.6h1M315.3,559.1h1M332.1,545.5h1M331.5,552.5h1M332.5,562.1h1M316.5,568.0h1M321.6,551.8h1M310.8,565.6h1M321.8,549.0h1M322.8,574.3h1M326.6,564.9h1M309.9,570.6h1M308.9,562.2h1M318.3,559.4h1M323.0,561.2h1M324.3,556.6h1M321.0,563.9h1M314.0,564.2h1M316.4,571.3h1M327.0,565.1h1M310.1,549.6h1M316.3,569.1h1M319.6,558.4h1M318.4,546.2h1M329.7,568.0h1M318.4,539.2h1M332.3,559.8h1M308.9,555.3h1M332.2,552.8h1M307.8,564.1h1M321.4,546.0h1M322.0,554.8h1M306.0,559.6h1M328.7,560.3h1M321.8,555.0h1M318.4,548.9h1M315.2,549.3h1M315.4,559.5h1M322.7,569.1h1M317.7,569.7h1M316.9,565.1h1M315.7,557.8h1M322.3,564.0h1M331.0,555.3h1M311.6,566.9h1M322.8,557.2h1M318.5,563.2h1M307.6,562.9h1M320.1,575.7h1M317.9,568.9h1M321.9,549.6h1M326.2,555.6h1M320.4,571.8h1M318.1,554.1h1M324.6,545.2h1M330.4,547.4h1M320.9,557.8h1M335.2,556.6h1M316.9,564.6h1M316.7,569.3h1M316.7,548.3h1M317.4,560.1h1M324.8,566.6h1M320.7,559.4h1M321.5,574.4h1M316.5,560.1h1M329.4,555.3h1M337.6,553.7h1M313.1,568.1h1M324.9,555.7h1M315.5,544.5h1M324.7,558.9h1M315.7,557.0h1M307.7,556.0h1M316.8,568.9h1M332.8,569.7h1M323.1,563.9h1M327.8,560.1h1M322.2,563.2h1M322.3,563.1h1M312.9,555.0h1M319.0,551.9h1M319.5,572.1h1M320.5,570.3h1M314.5,560.7h1M313.3,561.3h1M316.8,552.4h1M322.8,551.3h1M305.7,565.8h1M328.3,547.9h1M313.1,551.4h1M320.6,563.2h1M318.4,553.3h1M326.2,562.2h1M317.6,566.8h1M317.7,554.9h1M325.0,562.0h1M322.7,552.5h1M319.7,562.7h1M316.8,551.5h1M316.8,567.8h1M325.3,567.3h1M305.7,561.7h1M316.9,561.9h1M320.3,565.0h1M309.0,563.7h1M320.5,559.1h1M327.9,563.6h1M321.9,551.6h1M310.0,549.2h1M316.3,549.6h1M321.4,551.6h1M314.7,566.4h1M309.6,562.5h1M321.8,567.4h1M322.5,566.2h1M323.6,561.1h1M327.7,553.0h1M326.8,573.7h1M310.1,562.2h1M314.1,562.2h1M313.1,565.7h1M329.3,548.9h1M324.0,561.4h1M318.9,572.9h1M329.4,562.7h1M316.5,562.6h1M321.8,567.7h1M313.0,561.1h1M319.0,558.2h1M328.3,569.8h1M314.0,557.2h1M319.8,575.5h1M324.3,569.0h1M310.7,574.5h1M322.0,557.8h1M305.2,561.5h1M299.3,551.2h1M310.6,561.1h1M329.2,563.6h1M330.0,565.2h1M323.4,568.0h1M315.1,572.0h1M316.7,569.2h1M321.0,561.1h1M324.9,555.5h1M328.3,549.7h1M312.5,552.8h1M321.6,556.3h1M323.2,565.1h1M316.3,565.8h1M325.3,559.5h1M326.8,563.4h1M312.2,557.4h1M324.4,542.3h1M327.5,546.5h1M318.5,556.7h1M315.1,561.5h1M329.0,556.6h1M326.2,560.0h1M323.4,556.4h1M323.6,556.5h1M311.5,556.8h1M322.6,571.8h1M321.3,561.1h1M336.2,548.9h1M329.9,565.4h1M329.2,568.3h1M318.1,552.7h1M320.7,564.8h1M325.6,555.1h1M319.8,556.7h1M319.6,560.2h1M317.9,553.0h1M334.6,562.7h1M312.8,560.2h1M318.5,560.9h1M323.7,560.3h1M321.9,562.5h1M314.4,558.0h1M312.6,557.4h1M325.3,574.0h1M318.6,546.8h1M318.9,568.8h1M318.9,557.8h1M316.1,568.5h1M312.4,562.4h1M324.3,562.0h1M307.8,557.9h1M327.2,567.2h1M325.5,559.2h1M299.4,564.6h1M331.2,542.4h1M318.4,563.2h1M321.3,564.4h1M319.2,553.4h1M328.0,565.6h1M324.9,567.6h1M321.3,564.7h1M318.4,565.1h1M329.3,574.1h1M329.7,560.0h1M313.5,569.9h1M320.9,567.5h1M328.2,552.2h1M324.2,567.6h1M320.5,564.4h1M323.0,566.1h1M331.6,547.5h1M326.3,554.7h1M324.3,563.4h1M309.1,566.1h1M321.8,565.9h1M305.4,565.3h1M317.4,555.4h1M336.3,559.5h1M318.3,554.4h1M317.8,564.6h1M321.0,569.5h1M306.7,563.5h1M309.0,559.8h1M317.9,556.6h1M317.0,548.0h1M315.7,566.8h1M320.0,568.2h1M330.1,565.9h1M325.5,552.3h1M324.8,563.3h1M317.6,568.7h1M328.4,564.9h1M320.3,571.6h1M322.9,563.3h1M329.5,558.1h1M316.4,551.7h1M317.4,550.8h1M309.6,572.3h1M318.0,550.1h1M334.1,547.2h1M322.1,557.4h1M307.6,550.5h1M326.5,564.6h1M332.0,563.8h1M330.6,554.6h1M318.2,564.8h1M315.8,553.9h1M326.6,545.4h1M321.6,555.5h1M313.9,558.7h1M325.8,559.0h1M327.7,548.9h1M331.7,566.6h1M318.1,561.4h1M320.5,568.3h1M310.8,561.9h1M313.3,565.2h1M313.9,555.4h1M315.2,558.5h1M314.6,558.3h1M332.9,563.5h1M330.0,557.7h1M312.6,561.2h1M334.8,557.0h1M326.2,565.6h1M322.0,555.0h1M331.2,554.9h1M325.6,567.7h1M320.1,554.2h1M315.6,547.2h1M308.3,561.6h1M323.3,553.3h1M316.2,565.2h1M315.0,575.1h1M305.2,566.7h1M313.5,561.8h1M319.1,551.8h1M323.1,545.5h1M333.8,557.0h1M317.8,570.7h1M321.4,564.8h1M326.3,565.2h1M319.7,563.5h1M313.5,563.9h1M333.0,554.9h1M319.9,559.0h1M317.9,571.2h1M343.0,555.5h1M323.3,564.4h1M330.8,553.2h1M312.0,562.3h1M310.0,562.8h1M323.9,563.2h1M316.5,564.6h1M316.7,553.1h1M321.6,572.8h1M320.6,562.5h1M332.5,557.1h1M320.8,551.6h1M328.2,554.3h1M307.7,556.2h1M328.8,558.8h1M313.7,555.8h1M314.8,560.8h1M302.4,559.2h1M324.3,559.5h1M331.9,555.9h1M318.4,564.0h1M320.3,557.9h1M324.3,561.6h1M307.9,566.2h1M320.1,560.9h1M325.5,563.6h1M318.7,561.4h1M321.9,569.4h1M325.3,544.8h1M322.5,567.4h1M318.6,556.0h1M308.5,560.6h1M324.0,547.7h1M317.0,567.7h1M321.0,568.9h1M326.8,561.1h1M319.0,559.3h1M323.7,550.8h1M312.6,560.5h1M311.4,562.4h1M319.9,562.7h1M319.2,563.8h1M322.7,546.7h1M323.8,553.4h1M327.5,556.1h1M316.3,558.6h1M325.5,566.3h1M311.2,558.5h1M313.9,554.1h1M334.4,549.4h1M316.8,561.1h1M308.2,558.9h1M308.3,550.6h1M316.1,562.3h1M311.7,561.9h1M317.5,560.7h1M315.5,561.2h1M318.4,552.0h1M311.9,552.8h1M312.7,574.0h1M315.5,562.7h1M302.2,570.9h1M311.6,560.8h1M328.6,553.0h1M322.0,569.1h1M318.9,558.3h1M322.3,560.5h1M315.4,559.8h1M315.7,556.3h1M315.2,550.7h1M311.2,555.3h1M311.4,557.0h1M319.6,566.7h1M325.1,566.4h1M323.6,563.3h1M320.8,556.2h1M310.7,561.6h1M328.4,558.8h1M317.2,560.8h1M329.2,557.3h1M312.5,570.6h1M318.1,562.1h1M310.1,568.7h1M327.7,551.5h1M319.5,557.6h1M318.0,567.4h1M324.9,561.0h1M316.4,561.6h1M308.5,559.1h1M321.8,571.6h1M329.9,560.4h1M322.8,567.8h1M323.1,560.9h1M322.8,557.9h1M321.8,568.5h1M327.6,560.5h1M323.4,561.1h1M321.5,558.3h1M324.7,563.5h1M315.3,559.4h1M308.3,564.2h1M311.5,552.2h1M325.3,575.3h1M323.1,563.2h1M318.0,557.8h1M318.8,553.1h1M324.8,562.9h1M333.9,565.1h1M331.3,569.2h1M311.9,571.1h1M324.8,557.0h1M319.7,552.4h1M311.5,556.0h1M320.6,562.0h1M311.6,559.9h1M318.7,557.9h1M317.7,553.4h1M324.4,560.4h1M305.9,568.8h1M321.9,559.3h1M316.9,569.1h1M333.3,568.8h1M313.8,554.2h1M301.3,561.6h1M327.0,551.9h1M320.3,564.3h1M322.5,562.6h1M325.0,563.0h1M329.0,542.5h1M323.3,562.3h1M319.1,557.6h1M318.9,563.6h1M315.3,548.0h1M327.8,566.5h1M314.6,556.2h1M324.6,574.8h1M321.8,565.1h1M326.7,551.2h1M321.1,558.2h1M316.0,557.4h1M319.1,563.3h1M309.7,556.0h1M316.2,551.9h1M320.8,564.1h1M321.2,568.2h1M309.7,542.9h1M323.5,552.4h1M307.6,555.7h1M310.9,568.3h1M321.7,550.7h1M316.0,551.1h1M308.3,561.9h1M321.2,564.7h1M306.9,551.6h1M310.1,569.5h1M318.9,551.3h1M333.2,569.6h1M321.7,557.0h1M325.3,552.3h1M315.6,565.2h1M329.4,554.6h1M307.9,556.2h1M320.6,553.7h1M322.0,547.9h1M314.7,560.2h1M324.1,553.5h1M320.4,555.6h1M335.0,552.4h1M331.4,559.9h1M329.8,566.5h1M324.2,559.7h1M332.4,560.9h1M327.9,559.3h1M325.1,549.4h1M321.2,555.5h1M319.6,553.6h1M311.2,568.0h1M311.2,565.8h1M319.8,559.6h1M338.7,562.3h1M321.8,546.2h1M315.5,560.5h1M310.5,552.5h1M309.2,548.8h1M323.8,558.5h1M317.7,570.6h1M323.9,555.0h1M319.0,555.5h1M311.3,552.4h1M319.0,567.1h1M321.3,567.5h1M314.8,563.3h1M324.1,568.5h1M314.7,560.6h1M304.7,562.6h1M317.2,559.5h1M323.3,557.2h1M326.7,549.4h1M319.0,548.0h1M313.8,565.8h1M309.5,564.8h1M324.4,547.4h1M327.9,560.7h1M323.0,556.6h1M326.5,553.7h1M308.6,561.4h1M322.8,564.8h1M311.7,566.7h1M311.3,551.0h1M315.1,557.3h1M336.5,564.5h1M320.6,552.3h1M314.6,558.7h1M315.9,564.2h1M314.3,554.3h1M317.8,558.9h1M316.6,566.5h1M308.5,562.3h1M335.7,544.4h1M324.1,568.9h1M320.2,562.8h1M310.2,566.2h1M312.3,559.8h1M322.1,556.1h1M317.1,565.0h1M326.4,558.2h1M334.7,537.4h1M324.2,544.7h1M321.1,573.9h1M332.8,547.2h1M324.0,564.5h1M322.6,567.6h1M330.7,554.5h1M336.0,551.8h1M329.5,557.3h1M322.7,568.6h1M316.8,548.0h1M319.6,550.9h1M323.2,561.3h1M326.6,548.4h1M311.3,551.2h1M319.4,563.5h1M312.0,570.8h1M310.9,562.5h1M321.8,563.8h1M324.5,568.0h1M326.1,556.3h1M315.4,563.0h1M326.3,550.0h1M317.3,554.6h1M310.2,554.3h1M314.6,566.1h1M318.4,547.3h1M313.8,571.0h1M322.9,564.3h1M315.3,563.7h1M325.4,566.4h1M334.3,562.6h1M324.1,565.4h1M317.8,556.3h1M310.5,562.2h1M335.9,552.7h1M322.1,563.1h1M328.6,561.0h1M321.5,569.4h1M307.2,548.4h1M329.1,553.5h1M318.2,558.1h1M319.3,567.0h1M326.6,563.7h1M318.1,555.6h1M322.2,547.0h1M331.2,568.6h1M324.8,559.7h1M332.8,562.7h1M316.1,567.7h1M325.7,563.9h1M324.7,560.8h1M319.0,567.9h1M321.2,565.9h1M314.1,568.5h1M316.3,554.0h1M327.8,557.0h1M330.1,555.5h1M319.5,543.1h1M315.2,555.1h1M313.6,553.2h1M321.7,559.2h1M329.0,558.4h1M324.8,558.9h1M325.4,559.0h1M328.5,546.5h1M307.8,555.4h1M314.1,549.3h1M327.3,570.3h1M316.4,548.5h1M325.6,563.0h1M318.3,561.9h1M307.8,568.2h1M322.9,555.6h1M328.4,558.5h1M331.0,566.0h1M330.0,553.5h1M314.9,553.6h1M325.2,553.4h1M328.6,553.5h1M322.3,559.3h1M324.2,562.1h1M312.2,566.4h1M320.1,565.2h1M321.2,551.9h1M321.4,551.5h1M325.5,554.9h1M333.7,560.9h1M314.4,557.0h1M324.3,552.0h1M319.4,558.3h1M329.1,560.7h1M333.6,559.4h1M326.8,569.6h1M326.0,553.9h1M324.7,556.7h1M319.5,564.5h1M322.3,571.5h1M321.3,548.2h1M327.4,563.1h1M335.5,552.6h1M324.5,546.3h1M327.9,561.2h1M318.4,559.5h1M326.6,568.8h1M330.7,557.4h1M318.8,557.8h1M319.5,559.7h1M314.1,560.1h1M315.8,566.8h1M321.1,571.4h1M325.3,564.1h1M319.2,552.6h1M329.3,554.6h1M321.3,559.1h1M320.5,565.6h1M314.2,548.3h1M321.4,555.8h1M321.1,559.1h1M307.7,556.9h1M307.1,573.0h1M318.0,556.5h1M319.5,542.7h1M307.0,558.2h1M314.6,555.3h1M309.7,565.7h1M323.2,561.8h1M314.0,556.5h1M327.4,550.3h1M332.6,560.4h1M318.2,564.4h1M325.7,553.1h1M318.9,561.3h1M323.5,571.9h1M321.2,552.3h1M316.5,564.8h1M310.4,545.7h1M316.4,569.4h1M327.7,563.9h1M316.0,559.3h1M314.5,553.7h1M319.8,561.2h1M332.1,569.1h1M322.9,545.7h1M305.5,569.6h1M316.1,560.3h1M322.7,562.8h1M306.6,551.1h1M326.2,564.5h1M315.4,562.1h1M317.5,554.1h1M316.8,572.8h1M319.5,564.6h1M328.1,565.3h1M307.6,552.5h1M316.8,561.6h1M332.6,563.6h1M337.7,554.1h1M310.6,556.7h1M318.3,572.3h1M324.8,559.7h1M316.2,553.8h1M326.4,567.0h1M322.0,565.6h1M311.6,557.3h1M309.8,567.1h1M324.3,553.6h1M303.1,562.8h1M312.0,558.8h1M307.2,560.8h1M319.3,551.0h1M317.6,573.1h1M320.4,568.4h1M337.4,563.3h1M327.3,549.9h1M335.1,565.5h1M318.2,551.1h1M302.8,555.3h1M327.7,558.5h1M325.4,556.0h1M313.5,564.0h1M308.7,573.1h1M318.4,555.2h1M310.6,555.3h1M318.2,568.5h1M309.1,549.8h1M322.7,574.9h1M315.3,553.3h1M310.1,546.4h1M327.0,560.0h1M319.3,564.8h1M317.1,555.7h1M319.9,570.1h1M312.9,563.3h1M315.2,552.2h1M329.0,565.3h1M321.8,560.5h1M319.2,563.3h1M319.5,560.7h1M319.9,557.5h1M322.9,552.8h1M325.2,556.0h1M324.0,559.2h1M318.1,555.4h1M326.0,572.9h1M325.5,563.9h1M306.1,564.0h1M329.8,561.1h1M321.5,557.4h1M312.7,564.4h1M319.3,557.0h1M323.2,559.5h1M321.4,571.4h1M311.3,557.0h1M317.8,572.7h1M322.6,558.1h1M315.5,555.5h1M315.2,552.7h1M307.8,564.6h1M318.3,567.1h1M329.8,564.6h1M322.6,564.9h1M325.6,556.9h1M321.6,555.3h1M323.6,562.9h1M325.7,560.5h1M321.5,558.2h1M316.4,571.8h1M323.9,555.4h1M333.8,563.9h1M322.2,561.2h1M313.0,574.0h1M321.4,556.8h1M318.8,568.0h1M314.3,556.7h1M321.0,569.5h1M333.1,556.0h1M321.6,549.3h1M322.7,570.8h1M311.9,557.4h1M315.7,551.9h1M321.0,559.5h1M310.5,569.6h1M314.9,555.1h1M313.8,554.4h1M314.7,553.9h1M314.3,562.2h1M318.2,558.5h1M333.3,558.1h1M328.0,566.6h1M328.0,562.5h1M321.3,567.1h1M318.5,559.3h1M325.2,550.6h1M319.4,560.7h1M324.2,556.8h1M325.5,558.8h1M325.9,564.2h1M326.9,564.3h1M325.9,553.7h1M316.3,555.9h1M317.7,560.3h1M307.7,567.0h1M325.1,556.6h1M329.5,561.7h1M318.4,547.5h1M313.4,575.5h1M305.6,555.9h1M314.8,549.8h1M314.5,559.6h1M323.8,561.7h1M316.4,563.6h1M317.8,564.9h1M309.9,567.5h1M323.0,563.5h1M311.0,562.8h1M309.3,559.0h1M334.0,554.7h1M337.1,554.8h1M321.8,570.0h1M326.3,547.2h1M328.4,548.1h1M335.4,568.6h1M320.1,553.5h1M315.3,554.5h1M319.4,549.1h1M317.9,555.3h1M314.1,557.9h1M319.3,564.8h1M320.2,550.6h1M327.4,553.0h1M314.1,559.4h1M325.1,552.1h1M314.7,552.0h1M322.0,563.4h1M316.0,541.6h1M313.9,551.3h1M316.3,557.1h1M320.9,561.9h1M314.3,550.5h1M317.9,567.6h1M313.2,559.3h1M325.9,566.7h1M315.0,553.8h1M314.7,554.2h1M323.5,566.3h1M318.8,567.7h1M315.7,554.2h1M322.7,560.2h1M302.5,567.0h1M316.5,553.6h1M321.3,574.4h1M313.9,557.4h1M319.1,547.2h1M326.8,560.3h1M308.8,551.6h1M305.6,552.9h1M297.0,548.8h1M290.0,532.8h1M316.5,547.6h1M314.9,525.7h1M288.7,560.6h1M299.4,560.4h1M318.5,553.3h1M312.3,546.4h1M307.4,543.0h1M303.8,550.1h1M281.5,557.2h1M293.5,541.5h1M278.2,557.8h1M312.4,540.0h1M283.9,551.0h1M304.0,544.5h1M296.0,539.6h1M300.5,552.7h1M271.7,555.8h1M309.3,548.7h1M320.2,559.5h1M312.2,554.1h1M289.5,549.7h1M298.1,543.0h1M283.6,549.3h1M287.5,542.3h1M310.6,552.3h1M307.0,558.8h1M307.0,556.8h1M269.8,530.3h1M287.6,563.1h1M296.7,552.8h1M301.1,539.0h1M312.4,545.4h1M294.7,540.7h1M324.2,539.0h1M318.3,555.2h1M319.1,570.1h1M324.8,538.8h1M315.3,553.5h1M295.9,559.7h1M311.4,560.5h1M319.8,547.8h1M316.4,535.3h1M318.3,568.9h1M308.1,555.0h1M310.3,539.1h1M278.5,552.1h1M318.9,557.0h1M307.5,543.7h1M297.5,544.0h1M283.3,563.5h1M298.5,541.6h1M334.5,542.8h1M295.3,550.5h1M321.9,533.2h1M316.4,559.9h1M301.8,560.3h1M301.6,548.0h1M275.7,559.4h1M321.3,572.1h1M307.3,545.2h1M305.0,544.6h1M297.7,546.5h1M291.3,542.9h1M284.2,561.2h1M291.0,541.5h1M303.0,551.5h1M334.6,546.1h1M326.9,543.1h1M299.1,541.2h1M299.7,544.9h1M303.0,548.9h1M331.0,541.5h1M301.8,542.3h1M294.7,552.5h1M321.8,543.6h1M268.7,542.0h1M311.1,549.5h1M329.6,545.8h1M314.3,554.7h1M319.6,553.7h1M302.4,551.7h1M306.6,549.2h1M309.1,556.9h1M300.2,547.6h1M288.1,554.0h1M294.1,542.0h1M310.8,546.7h1M325.4,549.6h1M313.3,536.1h1M311.5,556.0h1M304.5,554.5h1M316.0,557.8h1M295.2,552.5h1M304.1,575.6h1M291.9,553.7h1M291.3,550.9h1M313.3,557.5h1M293.5,559.0h1M304.2,541.4h1M324.3,545.0h1M300.5,549.8h1M313.1,544.8h1M301.9,566.8h1M306.7,566.8h1M285.5,549.9h1M311.2,547.0h1M306.1,548.9h1M307.1,551.4h1M288.7,544.5h1M318.4,549.7h1M293.7,564.3h1M291.9,542.4h1M306.4,540.7h1M303.7,554.9h1M324.3,544.8h1M295.7,551.8h1M314.2,556.4h1M301.2,555.3h1M300.9,549.9h1M292.6,549.5h1M301.3,551.7h1M311.7,553.1h1M309.0,548.8h1M302.2,549.0h1M310.2,548.8h1M284.7,556.4h1M302.3,548.2h1M320.0,531.9h1M314.7,546.8h1M318.2,548.7h1M289.6,546.3h1M288.5,559.1h1M287.2,538.0h1M296.6,553.7h1M303.1,534.5h1M298.4,557.3h1M306.5,555.5h1M298.5,549.9h1M301.7,540.0h1M314.3,544.8h1M307.8,545.4h1M316.4,552.9h1M309.7,565.4h1M315.5,558.9h1M304.4,539.6h1M303.0,560.2h1M296.2,548.6h1M301.1,565.0h1M321.7,553.2h1M295.9,522.0h1M327.4,553.2h1M294.3,544.4h1M303.6,565.9h1M255.0,559.3h1M314.1,561.2h1M324.6,561.6h1M314.4,546.1h1M280.9,541.5h1M312.8,535.5h1M314.8,554.0h1M315.3,550.7h1M309.2,546.5h1M265.6,549.8h1M301.6,540.3h1M309.2,553.7h1M320.4,553.7h1M308.4,547.8h1M316.9,537.6h1M293.8,554.3h1M312.6,551.0h1M293.4,553.6h1M313.7,538.3h1M288.5,559.4h1M292.0,545.8h1M310.5,540.9h1M305.3,546.2h1M291.7,541.5h1M329.1,546.4h1M303.4,550.3h1M311.2,549.8h1M324.7,553.1h1M311.2,538.4h1M279.0,567.8h1M280.5,562.4h1M276.0,554.1h1M292.5,558.1h1M288.0,561.9h1M310.5,549.2h1M300.7,553.4h1M329.0,538.4h1M284.4,555.0h1M284.9,555.0h1M315.9,548.4h1M322.2,552.0h1M289.8,544.6h1M309.3,555.6h1M298.5,533.4h1M298.1,549.6h1M312.0,548.7h1M314.6,551.9h1M279.2,552.3h1M301.8,557.6h1M305.0,543.7h1M308.6,547.9h1M309.2,552.9h1M284.9,549.6h1M312.8,546.7h1M296.8,563.6h1M278.5,551.1h1M293.2,549.4h1M285.9,553.5h1M326.4,553.9h1M291.7,563.5h1M295.6,535.0h1M313.3,546.4h1M274.2,547.3h1M303.9,542.4h1M305.9,556.1h1M283.9,546.4h1M297.0,551.3h1M332.5,558.4h1M307.0,557.9h1M315.2,553.5h1M319.3,544.1h1M300.3,562.0h1M297.6,554.0h1M322.0,531.7h1M273.8,544.0h1M323.9,540.1h1M338.0,535.5h1M326.9,557.9h1M292.2,553.1h1M285.5,553.2h1M306.3,557.4h1M301.0,558.8h1M299.0,543.8h1M277.4,551.0h1M309.0,538.4h1M309.0,553.0h1M294.3,543.1h1M326.0,541.0h1M290.3,556.7h1M299.9,547.1h1M318.5,559.1h1M321.9,542.0h1M296.3,545.2h1M298.4,543.6h1M296.2,570.7h1M278.4,556.8h1M317.6,545.8h1M303.8,553.1h1M288.9,552.2h1M262.4,551.3h1M305.3,554.8h1M309.4,556.1h1M312.3,547.2h1M319.3,543.1h1M312.8,543.0h1M315.7,551.7h1M301.4,558.3h1M320.7,558.9h1M255.3,562.3h1M292.1,545.6h1M295.4,546.5h1M332.9,538.5h1M278.4,548.1h1M290.8,553.3h1M277.8,547.6h1M305.4,547.5h1M299.6,547.1h1M313.7,555.1h1M316.3,544.4h1M312.6,562.1h1M278.4,550.1h1M303.6,544.6h1M310.4,550.4h1M318.7,543.5h1M304.0,553.3h1M296.1,554.7h1M291.9,556.0h1M297.2,553.2h1M310.7,554.3h1M330.9,537.7h1M300.4,565.6h1M295.9,549.9h1M295.4,549.6h1M309.4,543.6h1M275.6,545.8h1M281.8,545.0h1M324.0,550.2h1M300.0,541.0h1M329.2,554.9h1M294.7,556.3h1M297.1,550.9h1M298.2,553.1h1M290.8,552.2h1M304.2,554.0h1M282.7,550.9h1M311.2,537.8h1M300.4,552.0h1M287.1,553.3h1M308.6,551.1h1M280.9,543.4h1M295.6,551.0h1M309.6,530.1h1M301.6,545.6h1M308.7,555.3h1M306.2,574.7h1M333.1,551.1h1M299.7,543.7h1M304.0,531.8h1M294.6,559.2h1M307.5,545.9h1M304.0,558.7h1M335.1,559.6h1M305.6,538.7h1M288.1,546.4h1M302.1,556.9h1M324.2,567.5h1M290.5,546.5h1M307.0,570.2h1M298.7,557.8h1M310.6,565.4h1M303.2,561.7h1M302.2,555.8h1M315.4,547.7h1M285.0,540.5h1M285.6,546.4h1M321.2,549.4h1M292.3,544.3h1M284.1,554.2h1M308.3,543.1h1M291.2,553.1h1M309.3,555.8h1M291.3,563.6h1M292.3,566.7h1M312.4,548.3h1M314.7,540.8h1M320.8,552.4h1M312.2,548.3h1M289.2,567.9h1M295.2,562.3h1M320.6,547.6h1M325.5,560.1h1M311.8,543.8h1M286.1,558.7h1M307.2,538.9h1M313.5,557.4h1M320.4,549.7h1M290.8,563.1h1M297.0,549.6h1M312.2,556.5h1M291.4,544.4h1M306.2,547.3h1M329.3,537.3h1M307.3,546.0h1M326.7,549.5h1M297.8,550.5h1M277.1,544.6h1M284.3,567.2h1M309.8,538.1h1M310.6,561.3h1M304.7,544.1h1M293.5,550.3h1M290.9,535.1h1M286.7,555.6h1M302.2,549.0h1M333.2,534.6h1M294.8,546.1h1M299.7,542.2h1M290.1,550.7h1M272.2,549.9h1M265.6,567.6h1M293.2,567.0h1M255.7,557.6h1M295.9,557.1h1M268.9,549.3h1M264.3,553.3h1M272.7,560.2h1M277.0,558.4h1M257.2,557.0h1M258.5,555.4h1M278.7,542.1h1M309.2,560.9h1M254.6,552.2h1M275.3,572.5h1M284.1,565.9h1M269.4,561.2h1M307.9,574.0h1M256.9,560.6h1M269.6,544.9h1M271.5,553.6h1M271.9,547.0h1M268.0,557.4h1M261.7,575.2h1M271.0,544.0h1M260.3,549.3h1M270.9,575.0h1M288.9,540.6h1M277.0,566.3h1M294.3,564.3h1M280.9,544.0h1M289.6,542.7h1M254.4,540.8h1M253.0,547.1h1M306.1,557.2h1M284.3,570.2h1M274.5,522.1h1M329.5,492.6h1M253.4,490.3h1M305.5,504.2h1" stroke="#2e2e2e" stroke-width="1" stroke-opacity="0.53" fill="none" filter="url(#bl)"/>
<path d="M348.9,533.6h1M346.9,532.2h1M359.1,523.9h1M336.7,544.1h1M360.1,521.8h1M341.8,539.6h1M358.0,526.7h1M340.2,543.1h1M360.5,524.9h1M350.2,530.7h1M354.5,528.1h1M357.8,525.8h1M345.7,535.9h1M344.4,542.0h1M342.7,539.4h1M347.4,535.4h1M348.2,536.3h1M340.6,539.7h1M342.3,546.0h1M342.5,538.5h1M341.2,537.6h1M348.9,531.9h1M341.9,540.9h1M356.3,526.5h1M347.8,531.8h1M340.6,537.3h1M346.7,533.3h1M339.3,543.3h1M357.9,526.6h1M340.7,535.7h1M361.1,520.7h1M353.6,530.9h1M361.4,524.6h1M336.4,543.2h1M349.8,531.7h1M348.3,534.1h1M358.7,526.6h1M351.2,529.0h1M358.2,525.2h1M351.2,532.1h1M362.7,523.2h1M348.5,532.9h1M356.4,527.9h1M341.7,537.2h1M360.2,521.2h1" stroke="#666" stroke-width="1" stroke-opacity="0.4" fill="none" filter="url(#bl)"/>
<rect x="250.8" y="484.4" width="117.2" height="91.8" fill="none" stroke="#747474" stroke-width="0.9"/>
<path d="M280.2,576.2 v2" stroke="#555" stroke-width="0.7"/>
<text x="280.2" y="586.1" font-size="7" font-weight="normal" text-anchor="middle" fill="#222" letter-spacing="0.3">10<tspan dy="-2.9" font-size="5.7">1</tspan></text>
<path d="M309.2,576.2 v2" stroke="#555" stroke-width="0.7"/>
<text x="309.4" y="586.1" font-size="7" font-weight="normal" text-anchor="middle" fill="#222" letter-spacing="0.3">10<tspan dy="-2.9" font-size="5.7">2</tspan></text>
<path d="M338.1,576.2 v2" stroke="#555" stroke-width="0.7"/>
<text x="339.3" y="586.1" font-size="7" font-weight="normal" text-anchor="middle" fill="#222" letter-spacing="0.3">10<tspan dy="-2.9" font-size="5.7">3</tspan></text>
<path d="M367.1,576.2 v2" stroke="#555" stroke-width="0.7"/>
<text x="367.2" y="586.1" font-size="7" font-weight="normal" text-anchor="middle" fill="#222" letter-spacing="0.3">10<tspan dy="-2.9" font-size="5.7">4</tspan></text>
<path d="M248.8,553.2 h2" stroke="#555" stroke-width="0.7"/>
<text x="247.60000000000002" y="553.9" font-size="7" font-weight="normal" text-anchor="middle" fill="#222" transform="rotate(-90 247.60000000000002 553.9)" letter-spacing="0.3">10<tspan dy="-2.9" font-size="5.7">1</tspan></text>
<path d="M248.8,530.3 h2" stroke="#555" stroke-width="0.7"/>
<text x="247.60000000000002" y="530.9" font-size="7" font-weight="normal" text-anchor="middle" fill="#222" transform="rotate(-90 247.60000000000002 530.9)" letter-spacing="0.3">10<tspan dy="-2.9" font-size="5.7">2</tspan></text>
<path d="M248.8,507.4 h2" stroke="#555" stroke-width="0.7"/>
<text x="247.60000000000002" y="508.0" font-size="7" font-weight="normal" text-anchor="middle" fill="#222" transform="rotate(-90 247.60000000000002 508.0)" letter-spacing="0.3">10<tspan dy="-2.9" font-size="5.7">3</tspan></text>
<path d="M248.8,484.4 h2" stroke="#555" stroke-width="0.7"/>
<text x="247.60000000000002" y="485.0" font-size="7" font-weight="normal" text-anchor="middle" fill="#222" transform="rotate(-90 247.60000000000002 485.0)" letter-spacing="0.3">10<tspan dy="-2.9" font-size="5.7">4</tspan></text>
<rect x="281.9" y="530.3" width="26.7" height="20.7" fill="none" stroke="#767676" stroke-width="1.4"/>
<rect x="308.6" y="548.7" width="25.5" height="27.0" fill="none" stroke="#4a4a4a" stroke-width="1.6"/>
<text x="296.3" y="514.0" font-size="11" font-weight="bold" text-anchor="middle" fill="#747474"  stroke="#747474" stroke-width="0.3">A1</text>
<path d="M295.8,516.8 V525.3" stroke="#747474" stroke-width="2.2"/>
<path d="M291.8,523.1 L295.8,528.3 L299.8,523.1 Z" fill="#747474"/>
<text x="339.4" y="528.7" font-size="11" font-weight="bold" text-anchor="middle" fill="#3c3c3c"  stroke="#3c3c3c" stroke-width="0.3">A2</text>
<path d="M333.3,531.7 L326.5,540.9" stroke="#3c3c3c" stroke-width="2.3"/>
<path d="M324.1,544.2 L324.7,537.2 L330.5,541.5 Z" fill="#3c3c3c"/>
<text x="234.8" y="524.0" font-size="11.6" font-weight="bold" text-anchor="middle" fill="#000" transform="rotate(-90 234.8 524.0)"  stroke="#000" stroke-width="0.3">PE – JON/A</text>
<text x="309.8" y="600.4000000000001" font-size="11.6" font-weight="bold" text-anchor="middle" fill="#000"  stroke="#000" stroke-width="0.3">FITC – anti-fibrinogen</text>
<path d="M455.8,542.7h1M462.9,540.9h1M450.8,555.2h1M452.2,551.7h1M446.5,556.1h1M465.9,543.5h1M453.5,536.4h1M440.3,538.3h1M460.4,546.0h1M469.1,539.6h1M452.5,541.9h1M438.4,536.8h1M430.5,553.2h1M438.5,551.9h1M472.7,541.7h1M440.3,547.6h1M435.6,552.8h1M447.6,545.2h1M456.1,533.0h1M446.3,542.6h1M445.5,548.3h1M451.7,538.4h1M462.4,549.0h1M454.0,543.4h1M443.9,545.5h1M444.5,542.1h1M451.4,543.3h1M437.8,541.7h1M451.4,547.3h1M463.9,542.2h1M446.7,539.3h1M444.9,549.3h1M453.3,538.0h1M440.0,543.0h1M463.5,549.9h1M460.2,539.0h1M458.1,541.9h1M451.0,549.0h1M451.5,541.3h1M454.3,550.7h1M437.3,549.8h1M443.3,548.5h1M445.7,541.5h1M460.6,533.7h1M469.8,542.8h1M448.4,541.6h1M451.6,542.0h1M451.4,541.4h1M443.3,539.4h1M443.4,545.3h1M450.3,540.8h1M461.6,539.6h1M435.7,548.2h1M458.1,540.8h1M437.0,536.8h1M457.5,554.2h1M447.0,546.5h1M437.4,538.6h1M433.9,540.7h1M446.0,543.3h1M458.2,540.9h1M441.7,548.0h1M450.2,541.2h1M439.5,542.9h1M438.8,542.3h1M443.9,547.0h1M437.3,543.9h1M450.4,552.6h1M431.9,541.3h1M464.7,534.8h1M442.8,549.9h1M441.3,544.7h1M459.2,552.4h1M444.5,540.0h1M460.0,545.7h1M439.2,544.8h1M440.0,548.4h1M440.3,549.9h1M465.8,539.9h1M430.4,544.1h1M449.9,539.1h1M467.6,538.9h1M442.0,549.0h1M460.4,534.1h1M456.1,554.0h1M455.3,540.2h1M450.0,540.2h1M445.5,536.6h1M440.6,551.4h1M450.4,541.9h1M455.7,549.4h1M446.0,532.8h1M459.5,554.9h1M456.7,542.2h1M452.3,540.8h1M445.5,547.9h1M455.1,548.0h1M450.9,528.9h1M470.3,545.0h1M451.7,545.5h1M455.7,541.5h1M435.6,544.9h1M450.1,552.4h1M465.7,548.6h1M453.4,547.7h1M458.6,545.6h1M446.0,542.3h1M443.9,545.9h1M451.6,544.9h1M437.2,541.9h1M445.6,545.7h1M472.1,540.8h1M448.1,540.9h1M442.9,545.0h1M463.4,543.7h1M453.4,537.7h1M444.0,539.8h1M449.4,527.7h1M447.6,540.6h1M442.7,542.9h1M450.7,539.0h1M450.1,541.2h1M443.9,539.3h1M445.6,545.3h1M463.5,546.3h1M465.9,552.2h1M450.9,538.4h1M424.6,552.5h1M449.1,535.8h1M434.1,548.5h1M443.7,549.4h1M432.6,549.3h1M467.7,545.0h1M448.4,540.6h1M463.6,542.0h1M426.4,548.1h1M466.7,530.8h1M451.0,553.8h1M458.8,541.6h1M446.6,541.2h1M444.8,540.5h1M426.5,535.2h1M445.5,542.6h1M426.8,553.9h1M444.2,536.7h1M433.5,549.0h1M444.8,548.5h1M470.7,540.1h1M454.8,547.5h1M452.9,545.3h1M452.8,541.2h1M446.3,550.0h1M439.7,541.3h1M457.2,549.8h1M451.0,547.3h1M435.9,553.6h1M462.4,539.4h1M465.6,537.2h1M446.7,543.2h1M457.8,542.8h1M446.8,548.8h1M456.5,533.4h1M441.8,546.8h1M440.2,546.1h1M459.0,540.8h1M463.2,546.4h1M453.4,549.9h1M456.9,532.4h1M459.9,543.1h1M454.4,547.2h1M483.3,539.3h1M462.5,548.3h1M446.9,551.7h1M447.5,556.4h1M449.9,542.4h1M453.1,534.2h1M440.5,552.4h1M451.2,541.7h1M441.6,551.9h1M444.7,537.0h1M463.3,542.6h1M453.8,539.0h1M448.2,546.3h1M459.3,547.2h1M456.2,545.2h1M463.2,539.1h1M458.6,542.7h1M438.2,549.9h1M451.2,534.4h1M433.9,542.8h1M464.7,541.4h1M450.7,545.0h1M444.8,544.3h1M449.7,541.2h1M438.4,548.6h1M450.8,526.9h1M465.3,543.8h1M444.4,549.9h1M451.4,539.3h1M447.9,546.2h1M456.2,546.7h1M461.4,550.9h1M427.3,548.6h1M448.2,543.9h1M437.8,552.5h1M439.7,544.3h1M457.1,535.5h1M465.0,540.3h1M442.5,545.0h1M458.4,548.4h1M435.0,538.9h1M451.2,544.1h1M452.6,534.3h1M439.1,553.4h1M456.9,544.8h1M457.3,542.1h1M445.2,543.6h1M442.6,542.0h1M457.7,539.7h1M457.4,554.7h1M454.4,535.0h1M462.1,539.3h1M451.6,535.1h1M451.9,541.2h1M444.6,543.2h1M453.2,557.2h1M452.1,541.6h1M468.6,548.9h1M461.2,535.8h1M444.5,548.4h1M437.2,542.3h1M437.6,541.2h1M448.5,544.0h1M439.9,548.1h1M439.9,529.5h1M441.6,551.3h1M448.1,546.8h1M435.9,550.0h1M435.9,538.4h1M454.9,539.2h1M446.6,545.1h1M449.5,547.4h1M465.2,544.1h1M440.2,540.2h1M448.9,535.8h1M470.7,544.3h1M466.7,542.6h1M462.4,530.9h1M432.8,536.2h1M442.3,542.4h1M450.4,544.9h1M437.0,542.1h1M438.2,546.5h1M463.9,540.7h1M429.4,542.5h1M439.4,541.1h1M441.5,542.6h1M475.9,535.9h1M447.8,539.3h1M441.7,544.0h1M438.8,548.4h1M442.6,545.8h1M462.8,533.1h1M446.4,540.9h1M454.5,535.2h1M440.4,548.4h1M462.2,536.6h1M470.1,528.8h1M451.1,547.8h1M443.9,536.3h1M435.4,546.8h1M455.4,542.8h1M442.7,546.5h1M466.9,542.8h1M455.3,542.5h1M436.2,550.7h1M439.6,541.0h1M437.9,546.1h1M456.9,546.1h1M466.5,532.3h1M452.8,539.8h1M442.1,547.9h1M462.3,542.1h1M447.6,546.0h1M452.6,552.1h1M435.5,540.2h1M450.4,551.0h1M453.5,544.2h1M436.3,555.4h1M457.8,540.3h1M456.6,544.8h1M456.7,541.2h1M411.2,546.3h1M468.5,540.9h1M444.6,544.0h1M447.5,547.5h1M435.2,554.8h1M444.9,534.1h1M446.1,546.3h1M461.1,534.8h1M436.9,540.0h1M451.9,544.6h1M453.8,546.3h1M446.5,541.1h1M448.6,540.6h1M452.8,542.4h1M431.7,544.1h1M444.9,541.2h1M442.7,546.3h1M450.8,550.1h1M471.3,538.8h1M439.6,548.7h1M468.9,539.6h1M442.6,545.4h1M449.5,549.3h1M454.3,549.5h1M429.5,550.0h1M466.6,544.0h1M451.1,544.2h1M451.5,539.6h1M469.2,544.2h1M446.0,546.2h1M453.1,548.6h1M434.1,542.9h1M456.3,548.6h1M447.6,546.1h1M446.5,541.2h1M446.8,539.2h1M458.7,538.3h1M443.5,540.2h1M457.2,541.2h1M451.9,543.6h1M427.5,538.7h1M453.1,544.0h1M452.9,551.3h1M442.0,542.2h1M442.1,546.1h1M448.3,540.2h1M454.2,544.1h1M453.5,547.0h1M433.5,541.8h1M448.9,543.6h1M433.9,548.8h1M450.5,551.2h1M452.4,548.3h1M440.3,539.1h1M445.3,535.4h1M424.1,541.3h1M444.2,549.5h1M425.8,547.9h1M446.6,544.3h1M451.5,541.1h1M449.7,548.1h1M459.0,538.4h1M451.4,538.8h1M451.8,546.9h1M446.3,547.1h1M456.9,539.6h1M443.2,538.9h1M466.9,539.0h1M446.8,549.4h1M454.6,551.7h1M448.2,542.6h1M458.4,537.7h1M441.2,540.2h1M453.5,548.5h1M440.3,541.8h1M466.1,539.4h1M442.7,547.5h1M447.0,550.6h1M435.3,533.7h1M441.7,541.7h1M436.2,540.1h1M433.4,533.0h1M458.9,539.7h1M436.8,548.1h1M438.2,546.0h1M451.6,536.2h1M474.5,540.8h1M423.8,547.9h1M456.5,533.2h1M448.9,542.0h1M456.6,540.3h1M446.8,538.3h1M455.1,551.3h1M460.2,544.3h1M442.6,542.5h1M426.9,545.9h1M433.6,540.5h1M446.6,548.5h1M452.5,548.3h1M455.3,542.9h1M437.8,544.4h1M447.6,550.7h1M444.4,542.5h1M452.1,536.4h1M450.6,544.9h1M439.6,549.0h1M459.1,532.8h1M437.0,533.7h1M468.2,543.0h1M447.9,539.0h1M454.5,546.2h1M446.1,543.7h1M458.9,549.0h1M438.8,544.6h1M433.5,536.5h1M456.4,541.6h1M423.9,540.9h1M431.0,552.6h1M457.3,540.0h1M452.8,543.2h1M456.9,538.3h1M436.1,549.0h1M413.5,545.4h1M428.5,554.4h1M436.1,547.8h1M477.8,534.6h1M430.6,543.9h1M446.1,549.0h1M446.0,537.5h1M461.4,539.6h1M453.1,543.6h1M449.6,541.5h1M460.5,543.8h1M442.0,540.5h1M454.5,533.4h1M454.3,552.7h1M434.8,542.7h1M442.1,557.1h1M440.1,544.2h1M443.8,548.2h1M447.5,540.3h1M440.6,542.8h1M446.3,538.5h1M438.5,543.0h1M440.7,538.5h1M456.0,550.4h1M447.9,550.8h1M447.5,553.4h1M441.3,546.7h1M429.5,548.9h1M431.9,537.5h1M453.4,537.1h1M473.9,539.1h1M464.0,541.9h1M444.7,539.4h1M447.7,548.9h1M447.2,540.0h1M449.1,546.5h1M448.6,534.9h1M439.0,543.7h1M454.4,542.7h1M472.2,544.7h1M438.1,540.7h1M443.7,538.3h1M453.6,535.8h1M438.7,545.8h1M449.4,541.3h1M443.7,545.8h1M432.3,542.5h1M465.2,541.2h1M428.5,547.6h1M455.0,545.6h1M451.4,536.1h1M452.8,538.7h1M450.9,544.4h1M465.5,543.0h1M458.8,539.0h1M447.2,545.6h1M452.3,539.6h1M460.9,540.7h1M468.2,544.7h1M439.0,556.2h1M448.4,536.6h1M434.6,539.1h1M444.2,553.7h1M449.4,542.4h1M439.8,548.7h1M447.0,541.5h1M459.8,532.3h1M446.6,529.8h1M445.0,540.2h1M430.3,540.3h1M449.0,545.7h1M443.9,539.9h1M458.6,539.1h1M435.7,539.1h1M451.3,543.6h1M442.6,546.9h1M457.7,537.9h1M450.9,538.7h1M435.3,545.0h1M439.8,545.6h1M469.3,553.1h1M458.3,550.7h1M451.3,543.8h1M446.0,542.2h1M446.7,550.7h1M442.6,545.8h1M442.6,547.0h1M447.9,546.3h1M452.5,537.4h1M431.0,539.2h1M431.1,554.7h1M449.2,538.1h1M444.2,541.8h1M441.7,546.0h1M459.9,538.8h1M453.8,542.2h1M442.4,537.7h1M437.0,543.2h1M451.5,546.7h1M454.4,547.7h1M422.8,539.5h1M453.3,553.9h1M467.0,540.1h1M452.9,529.9h1M458.3,539.1h1M439.9,541.7h1M451.8,546.7h1M454.5,552.6h1M465.8,544.0h1M444.7,537.2h1M446.8,560.7h1M467.1,548.4h1M441.5,546.9h1M451.6,544.8h1M448.6,551.4h1M437.1,540.1h1M454.5,549.7h1M446.7,543.1h1M446.3,552.0h1M465.4,541.2h1M423.3,548.2h1M451.4,553.0h1M447.7,545.5h1M451.5,539.0h1M446.2,538.7h1M442.3,539.0h1M449.2,548.5h1M453.8,537.0h1M456.0,542.5h1M443.8,541.8h1M454.0,538.4h1M447.2,552.0h1M442.2,540.3h1M456.2,550.0h1M452.7,539.6h1M456.6,544.4h1M446.8,540.4h1M433.7,547.2h1M458.9,546.4h1M448.3,540.3h1M439.8,545.8h1M436.4,536.3h1M455.6,544.4h1M451.7,535.1h1M458.6,549.9h1M450.0,538.8h1M441.4,545.2h1M443.7,539.6h1M453.5,546.6h1M438.4,542.7h1M447.1,541.1h1M443.6,548.2h1M444.4,542.5h1M480.8,543.0h1M428.2,551.1h1M451.9,539.0h1M437.7,545.4h1M470.5,550.5h1M445.9,541.2h1M446.9,545.3h1M453.2,542.9h1M455.5,542.6h1M447.5,541.5h1M462.0,546.7h1M449.2,547.2h1M459.9,537.4h1M445.2,546.9h1M439.2,545.4h1M443.6,554.0h1M440.0,541.8h1M432.5,544.7h1M441.0,542.5h1M436.7,538.1h1M454.9,540.2h1M464.9,540.9h1M437.8,536.1h1M450.1,538.2h1M439.6,540.3h1M458.9,541.7h1M462.7,541.0h1M443.1,537.4h1M456.2,547.5h1M430.3,549.0h1M452.7,545.8h1M458.1,547.8h1M451.7,546.5h1M456.1,540.8h1M461.2,536.6h1M473.9,540.7h1M450.3,540.6h1M448.8,539.9h1M456.4,532.3h1M441.3,544.2h1M458.3,542.4h1M439.7,543.7h1M450.4,543.2h1M440.6,553.8h1M436.7,541.1h1M449.5,535.1h1M439.5,550.5h1M436.7,542.9h1M446.0,533.3h1M439.1,538.7h1M451.2,537.5h1M454.0,548.3h1M453.4,541.9h1M467.9,542.1h1M448.3,545.6h1M445.1,549.0h1M451.2,548.0h1M443.4,550.8h1M434.7,549.3h1M454.1,544.5h1M440.2,546.0h1M440.0,546.7h1M445.0,543.7h1M449.3,539.1h1M443.8,551.9h1M425.6,543.6h1M448.9,548.6h1M451.2,535.7h1M452.4,543.6h1M466.6,541.1h1M438.8,541.1h1M468.1,535.1h1M452.9,549.7h1M441.7,543.6h1M467.6,546.4h1M446.4,534.4h1M459.8,548.2h1M437.1,540.8h1M460.3,544.9h1M458.6,535.2h1M446.3,545.4h1M464.5,545.9h1M435.1,539.2h1M472.2,545.5h1M434.2,548.2h1M452.4,532.1h1M449.2,532.5h1M415.5,548.7h1M452.0,544.2h1M444.8,531.6h1M437.7,542.0h1M441.4,545.2h1M431.9,545.7h1M459.2,542.4h1M437.2,544.7h1M444.8,546.6h1M463.0,545.6h1M467.7,540.4h1M432.6,544.8h1M452.4,544.3h1M462.8,538.1h1M460.2,536.4h1M435.7,544.0h1M443.7,552.4h1M451.3,539.9h1M458.6,532.6h1M457.1,550.7h1M434.6,541.3h1M456.1,546.2h1M460.4,534.1h1M464.8,552.1h1M454.3,546.8h1M439.7,544.8h1M452.5,544.8h1M452.1,540.6h1M435.7,536.8h1M435.3,548.7h1M455.4,547.9h1M462.6,531.7h1M449.5,540.3h1M451.0,550.9h1M442.0,558.4h1M445.3,541.8h1M454.8,544.4h1M457.3,536.2h1M448.1,543.7h1M425.5,538.2h1M449.8,534.5h1M434.2,550.1h1M428.8,548.4h1M442.0,544.7h1M465.0,542.2h1M433.0,545.8h1M449.4,536.9h1M451.4,540.4h1M463.0,536.9h1M441.7,549.1h1M448.7,555.7h1M437.5,547.1h1M441.0,547.8h1M454.5,543.0h1M459.9,544.4h1M427.9,548.7h1M426.8,542.4h1M442.2,544.7h1M459.8,545.1h1M439.6,542.8h1M459.7,546.8h1M446.3,531.6h1M442.1,538.0h1M455.4,549.7h1M449.3,552.8h1M451.9,542.7h1M426.3,547.0h1M450.2,546.6h1M449.7,549.0h1M483.3,546.5h1M447.2,533.1h1M450.2,540.2h1M460.7,542.3h1M459.9,547.3h1M454.8,548.3h1M461.1,547.5h1M427.7,546.3h1M446.4,550.4h1M442.4,545.4h1M449.6,541.4h1M430.7,549.9h1M456.0,552.0h1M444.8,536.8h1M454.9,547.2h1M449.0,543.8h1M453.0,536.4h1M460.7,540.2h1M440.9,544.5h1M432.6,546.3h1M448.1,550.2h1M440.9,545.9h1M447.3,541.8h1M442.1,539.0h1M425.1,550.2h1M437.9,542.0h1M440.1,537.2h1M451.6,540.9h1M456.0,537.9h1M463.1,547.1h1M451.2,547.2h1M468.9,535.0h1M466.2,535.5h1M444.9,543.1h1M445.0,548.4h1M437.3,540.7h1M448.5,547.9h1M445.4,543.7h1M454.2,532.4h1M468.3,537.6h1M473.0,539.1h1M456.2,544.6h1M439.7,555.0h1M452.7,539.5h1M454.3,543.7h1M440.8,540.5h1M447.2,551.7h1M457.9,543.5h1M443.3,540.6h1M438.0,538.5h1M446.7,546.7h1M451.6,552.1h1M462.6,543.2h1M440.8,543.9h1M457.1,539.1h1M450.1,542.5h1M453.9,538.5h1M452.2,543.7h1M440.5,549.7h1M422.5,542.6h1M438.7,545.3h1M452.5,542.9h1M450.1,539.2h1M452.2,540.3h1M446.9,544.3h1M449.6,540.1h1M444.8,537.3h1M462.5,541.8h1M433.7,551.9h1M441.3,542.1h1M438.9,543.8h1M447.1,541.9h1M456.1,557.3h1M467.5,552.0h1M459.9,549.1h1M459.1,545.2h1M464.0,546.7h1M459.9,547.3h1M459.6,547.0h1M439.7,547.3h1M442.6,548.7h1M455.8,548.7h1M450.3,544.5h1M445.6,542.6h1M460.8,544.5h1M444.2,549.1h1M452.9,545.3h1M448.7,535.0h1M438.9,544.5h1M467.5,546.2h1M431.6,544.0h1M435.9,550.3h1M444.5,547.8h1M463.3,536.8h1M462.8,535.5h1M441.6,545.1h1M455.5,546.6h1M446.4,537.1h1M438.3,543.9h1M452.3,538.1h1M449.4,550.8h1M442.8,547.9h1M457.1,547.8h1M458.8,553.0h1M438.7,559.2h1M466.4,539.0h1M454.9,544.5h1M447.4,545.3h1M465.7,542.6h1M457.5,543.8h1M458.7,541.6h1M457.7,547.7h1M446.4,535.3h1M455.0,542.8h1M448.0,547.2h1M441.3,551.2h1M439.3,543.1h1M454.5,537.9h1M459.6,546.5h1M433.8,546.1h1M466.8,548.9h1M456.6,550.8h1M459.0,531.1h1M446.0,545.6h1M456.0,542.7h1M456.7,535.4h1M435.3,543.2h1M459.5,537.0h1M472.5,551.0h1M441.4,535.6h1M430.3,544.4h1M441.2,536.8h1M458.2,544.7h1M453.8,543.8h1M439.4,540.9h1M442.8,542.7h1M430.7,544.3h1M450.5,538.1h1M426.7,544.1h1M446.9,542.8h1M434.9,542.2h1M447.3,545.7h1M456.0,543.8h1M447.4,536.3h1M451.4,545.5h1M452.0,544.1h1M445.9,546.9h1M440.9,548.7h1M430.9,549.7h1M452.3,537.2h1M463.8,535.8h1M471.2,548.0h1M429.6,541.6h1M439.1,540.6h1M455.2,537.6h1M468.9,541.1h1M437.8,538.3h1M450.6,536.8h1M451.6,553.7h1M443.1,532.0h1M447.3,540.4h1M444.7,538.9h1M433.2,535.8h1M468.0,538.0h1M451.8,547.5h1M444.3,538.6h1M461.5,536.2h1M446.5,544.1h1M461.4,542.7h1M441.9,559.6h1M461.1,541.1h1M456.4,541.0h1M442.1,549.5h1M457.4,546.6h1M460.1,543.1h1M449.9,549.0h1M437.1,540.8h1M436.6,550.9h1M447.6,541.6h1M451.9,548.6h1M422.3,542.9h1M456.6,547.6h1M454.3,541.8h1M466.4,541.3h1M446.6,551.6h1M445.8,542.3h1M453.2,542.3h1M434.9,545.1h1M449.9,546.1h1M430.5,540.3h1M440.5,545.5h1M450.4,541.7h1M448.9,544.9h1M437.2,547.2h1M453.4,547.3h1M448.8,542.5h1M455.6,545.1h1M441.4,545.2h1M445.4,543.8h1M453.6,540.4h1M436.8,554.4h1M452.5,547.7h1M439.8,545.9h1M466.5,539.7h1M440.0,547.2h1M454.8,548.3h1M427.3,545.5h1M445.8,545.4h1M451.2,535.5h1M446.1,543.9h1M443.0,535.9h1M437.2,541.7h1M448.5,555.5h1M445.6,544.0h1M447.7,541.6h1M441.4,541.2h1M435.1,536.6h1M458.6,545.6h1M463.1,543.4h1M460.1,546.3h1M452.2,540.9h1M451.5,548.1h1M446.9,548.1h1M449.5,548.3h1M449.3,544.7h1M438.8,550.5h1M435.7,536.4h1M452.0,547.0h1M436.7,550.6h1M464.3,540.2h1M445.2,537.8h1M456.3,551.2h1M450.4,543.5h1M446.0,545.4h1M450.8,551.8h1M449.3,551.0h1M456.0,539.0h1M454.3,545.6h1M463.5,543.5h1M449.1,547.7h1M454.8,543.6h1M441.0,548.8h1M461.8,537.3h1M446.5,542.2h1M450.2,540.1h1M441.4,543.7h1M436.5,552.6h1M423.4,533.0h1M475.6,546.2h1M462.9,543.2h1M440.3,550.0h1M445.7,544.7h1M432.4,549.9h1M456.6,541.3h1M453.1,535.9h1M456.5,546.5h1M442.4,545.4h1M455.3,542.2h1M448.3,545.2h1M434.4,541.5h1M462.0,535.6h1M443.1,553.6h1M456.0,537.2h1M456.6,546.6h1M458.7,544.5h1M458.1,549.0h1M448.5,535.9h1M430.6,545.7h1M453.3,540.6h1M476.1,541.5h1M445.5,542.6h1M456.7,540.1h1M449.8,536.8h1M445.1,534.4h1M450.0,545.4h1M464.3,548.0h1M458.2,537.5h1M452.0,545.3h1M444.4,554.0h1M468.5,538.2h1M424.2,567.0h1M412.0,559.0h1M446.6,530.3h1M444.5,541.6h1M429.1,542.3h1M422.7,547.7h1M431.0,544.9h1M445.6,551.7h1M438.5,554.7h1M444.4,536.2h1M437.9,557.6h1M456.3,537.4h1M438.3,566.3h1M436.7,551.4h1M422.5,552.5h1M456.5,553.8h1M426.0,559.7h1M418.0,549.7h1M456.1,540.7h1M430.1,556.2h1M451.9,543.9h1M444.6,556.3h1M430.9,552.8h1M453.4,547.6h1M435.4,534.5h1M473.3,539.7h1M422.9,557.0h1M434.1,545.7h1M418.6,562.3h1M465.6,550.7h1M432.9,538.9h1M443.5,545.9h1M452.6,540.9h1M409.6,551.0h1M440.1,564.2h1M447.8,548.9h1M447.6,538.3h1M435.0,551.2h1M439.4,543.3h1M411.5,549.0h1M427.6,553.0h1M430.0,560.7h1M446.9,533.8h1M420.8,555.0h1M433.9,541.8h1M415.1,560.0h1M438.1,543.8h1M458.9,559.2h1M445.6,544.2h1M445.0,553.7h1M419.4,558.8h1M423.7,550.7h1M449.8,544.7h1M443.8,534.7h1M482.8,542.9h1M456.1,541.0h1M451.1,556.1h1M449.1,549.4h1M451.7,541.9h1M446.4,539.1h1M424.4,542.0h1M450.7,541.5h1M452.1,554.1h1M429.7,542.4h1M438.4,543.8h1M434.8,557.8h1M439.4,559.5h1M446.3,552.6h1M424.4,550.7h1M440.0,549.4h1M418.3,560.5h1M458.1,555.7h1M444.8,559.1h1M447.2,544.9h1M434.3,538.7h1M446.6,524.0h1M411.3,547.0h1M438.4,551.5h1M439.6,546.3h1M434.8,546.5h1M425.3,554.9h1M465.2,546.6h1M448.8,555.6h1M445.1,540.3h1M435.6,554.7h1M475.6,541.5h1M445.3,541.8h1M425.2,561.1h1M459.1,553.5h1M461.0,544.2h1M420.7,548.8h1M465.0,551.7h1M443.5,543.6h1M463.4,537.4h1M432.0,547.6h1M461.0,550.8h1M423.9,539.6h1M425.4,554.6h1M436.5,552.7h1M432.3,541.4h1M422.6,547.2h1M431.5,561.6h1M427.5,548.8h1M429.6,532.7h1M434.7,557.5h1M434.4,546.9h1M458.2,567.6h1M428.3,556.5h1M453.2,546.4h1M453.1,542.7h1M455.6,526.4h1M442.1,542.8h1M432.1,550.1h1M423.8,535.9h1M457.8,547.9h1M443.4,546.1h1M434.6,541.0h1M420.2,548.1h1M451.1,553.4h1M452.0,539.1h1M445.5,549.8h1M422.8,550.5h1M452.1,544.3h1M452.3,553.4h1M420.2,550.2h1M452.5,543.7h1M456.4,532.3h1M442.3,551.5h1M427.2,551.7h1M466.7,537.3h1M424.7,550.4h1M449.9,551.5h1M456.8,544.3h1M449.1,554.3h1M403.7,555.8h1M434.2,550.3h1M438.1,553.9h1M430.8,553.5h1M460.3,536.1h1M439.4,563.8h1M465.2,547.0h1M446.9,550.3h1M401.4,543.9h1M421.6,548.3h1M465.5,541.9h1M413.9,543.5h1M457.3,541.2h1M451.2,555.9h1M464.8,552.3h1M455.9,545.6h1M438.9,541.6h1M449.7,549.4h1M445.6,550.6h1M451.0,543.7h1M423.4,539.8h1M447.7,546.9h1M474.6,537.7h1M444.2,537.3h1M441.4,542.0h1M449.7,544.6h1M460.7,541.5h1M427.6,549.9h1M425.7,529.3h1M452.7,549.4h1M444.7,552.7h1M442.3,549.0h1M443.1,549.9h1M417.8,553.7h1M431.8,535.3h1M447.3,537.4h1M458.8,554.1h1M444.0,548.4h1M452.7,547.5h1M449.5,565.9h1M432.0,552.3h1M423.9,549.1h1M456.3,545.6h1M430.2,554.2h1M425.4,546.1h1M436.1,567.5h1M411.9,556.9h1M426.7,537.0h1M424.7,558.7h1M460.3,549.3h1M437.9,533.0h1M445.7,551.8h1M450.4,554.7h1M450.5,536.7h1M465.1,538.6h1M443.8,536.6h1M454.2,546.3h1M429.7,549.2h1M432.4,564.8h1M445.3,551.1h1M433.8,537.6h1M443.9,542.1h1M434.5,552.4h1M450.2,550.2h1M441.8,533.1h1M433.8,546.9h1M441.5,548.9h1M439.8,542.4h1M451.3,542.9h1M453.9,549.2h1M425.3,562.8h1M460.5,538.0h1M440.0,548.1h1M436.0,561.2h1M448.0,530.4h1M454.7,539.5h1M434.6,558.5h1M439.9,543.5h1M424.2,554.9h1M452.8,549.6h1M446.9,551.8h1M446.4,549.4h1M439.2,551.5h1M444.9,528.6h1M415.7,539.3h1M442.9,561.6h1M471.6,536.8h1M428.3,552.0h1M449.5,552.0h1M398.2,556.6h1M443.2,542.2h1M429.9,558.5h1M448.8,539.7h1M417.3,550.7h1M428.4,537.4h1M429.6,548.5h1M442.2,540.0h1M449.7,571.6h1M434.5,548.6h1M437.4,547.8h1M438.5,555.5h1M460.1,540.8h1M437.7,534.2h1M454.6,556.7h1M438.9,558.4h1M439.8,543.4h1M434.9,551.9h1M443.3,533.8h1M426.5,548.3h1M433.4,541.0h1M439.4,560.3h1M440.8,546.9h1M456.7,548.8h1M439.9,543.5h1M451.7,539.5h1M468.1,549.5h1M444.6,556.1h1M434.9,559.6h1M432.3,539.6h1M476.1,551.5h1M418.5,543.5h1M447.1,550.7h1M438.7,546.4h1M463.7,549.1h1M447.9,546.6h1M441.7,555.9h1M429.4,558.8h1M427.6,539.8h1M438.2,545.0h1M427.5,561.5h1M462.5,551.0h1M426.7,551.0h1M464.5,550.5h1M437.4,545.0h1M462.4,538.9h1M446.8,542.7h1M433.3,560.9h1M448.1,564.8h1M448.0,547.9h1M461.5,544.4h1M419.2,548.5h1M444.9,550.5h1M464.0,553.5h1M465.5,549.9h1M424.8,555.1h1M456.0,540.2h1M459.6,546.8h1M463.6,544.5h1M458.1,549.8h1M442.3,542.1h1M429.7,540.8h1M437.9,553.5h1M418.1,556.7h1M459.7,548.1h1M445.7,547.5h1M450.9,541.7h1M470.1,547.3h1M451.5,548.4h1M431.3,533.6h1M425.6,539.1h1M428.3,526.9h1M446.6,553.3h1M438.7,547.2h1M465.2,570.4h1M454.6,569.6h1M463.5,569.8h1M463.9,560.5h1M454.6,565.7h1M465.0,564.2h1M467.4,567.1h1M454.9,566.8h1M463.1,548.4h1M460.9,558.8h1M473.0,568.2h1M478.5,566.5h1M467.9,562.9h1M467.1,557.2h1M468.2,554.9h1M472.6,565.6h1M463.0,552.5h1M465.1,556.3h1M473.5,548.4h1M459.1,563.6h1M473.3,560.2h1M461.5,569.3h1M479.8,564.6h1M472.8,570.2h1M457.8,574.4h1M476.0,549.7h1M457.8,554.3h1M476.9,564.5h1M466.8,552.3h1M464.9,561.1h1M462.9,570.3h1M459.6,549.8h1M475.3,559.7h1M460.3,556.6h1M461.5,557.2h1M454.8,575.3h1M479.5,567.8h1M472.3,549.1h1M475.5,564.1h1M472.7,554.0h1M464.9,569.0h1M462.6,558.5h1M480.2,572.7h1M478.2,562.7h1M468.4,552.8h1M458.4,548.3h1M479.6,574.7h1M478.7,556.4h1M473.1,551.9h1M474.6,553.4h1M455.8,575.4h1M457.2,557.1h1M462.2,561.1h1M460.9,551.1h1M457.6,565.5h1M472.8,572.0h1M457.5,557.4h1M473.6,550.1h1M455.7,553.0h1M467.1,560.9h1M458.3,575.3h1M469.0,573.5h1M466.2,550.4h1M462.0,556.9h1M455.5,573.4h1M465.1,573.7h1M476.3,561.4h1M471.1,564.6h1M456.4,554.9h1M473.1,571.1h1M474.1,559.6h1M466.3,548.6h1M477.5,575.5h1M461.9,553.7h1M488.8,527.8h1M467.8,504.2h1M454.2,494.0h1M488.2,503.6h1" stroke="#2e2e2e" stroke-width="1" stroke-opacity="0.53" fill="none" filter="url(#bl)"/>
<path d="M485.7,535.5h1M494.5,527.2h1M500.9,523.0h1M490.7,534.4h1M505.0,517.0h1M511.0,511.7h1M501.9,519.9h1M489.4,532.8h1M507.6,511.9h1M506.4,511.6h1M509.1,511.7h1M485.3,541.2h1M483.4,538.6h1M481.2,540.0h1M495.2,527.7h1M483.9,542.8h1M493.3,528.7h1M488.2,534.9h1M499.6,525.9h1M492.1,529.7h1M498.5,527.4h1M500.5,522.5h1M486.0,540.5h1M484.1,541.5h1M499.3,524.9h1M488.7,540.6h1M487.5,533.9h1M489.3,531.8h1M504.4,517.5h1M505.6,514.9h1M500.4,521.3h1M490.0,530.7h1M486.5,534.8h1M499.5,521.1h1M484.3,540.4h1M496.3,526.9h1M510.6,515.2h1M501.3,524.2h1M509.2,513.7h1M511.7,509.4h1M500.0,527.5h1M505.2,517.6h1M494.8,534.2h1M487.5,540.3h1M492.0,531.5h1M503.5,518.6h1M482.0,542.7h1M510.0,514.0h1M505.9,521.0h1M508.9,514.5h1M484.6,538.6h1M503.0,517.8h1M487.8,535.9h1M489.8,535.2h1M484.2,542.0h1" stroke="#666" stroke-width="1" stroke-opacity="0.4" fill="none" filter="url(#bl)"/>
<rect x="395.8" y="484.4" width="117.2" height="91.8" fill="none" stroke="#747474" stroke-width="0.9"/>
<path d="M425.2,576.2 v2" stroke="#555" stroke-width="0.7"/>
<text x="425.2" y="586.1" font-size="7" font-weight="normal" text-anchor="middle" fill="#222" letter-spacing="0.3">10<tspan dy="-2.9" font-size="5.7">1</tspan></text>
<path d="M454.2,576.2 v2" stroke="#555" stroke-width="0.7"/>
<text x="454.4" y="586.1" font-size="7" font-weight="normal" text-anchor="middle" fill="#222" letter-spacing="0.3">10<tspan dy="-2.9" font-size="5.7">2</tspan></text>
<path d="M483.1,576.2 v2" stroke="#555" stroke-width="0.7"/>
<text x="484.3" y="586.1" font-size="7" font-weight="normal" text-anchor="middle" fill="#222" letter-spacing="0.3">10<tspan dy="-2.9" font-size="5.7">3</tspan></text>
<path d="M512.1,576.2 v2" stroke="#555" stroke-width="0.7"/>
<text x="512.2" y="586.1" font-size="7" font-weight="normal" text-anchor="middle" fill="#222" letter-spacing="0.3">10<tspan dy="-2.9" font-size="5.7">4</tspan></text>
<path d="M393.8,553.2 h2" stroke="#555" stroke-width="0.7"/>
<text x="392.6" y="553.9" font-size="7" font-weight="normal" text-anchor="middle" fill="#222" transform="rotate(-90 392.6 553.9)" letter-spacing="0.3">10<tspan dy="-2.9" font-size="5.7">1</tspan></text>
<path d="M393.8,530.3 h2" stroke="#555" stroke-width="0.7"/>
<text x="392.6" y="530.9" font-size="7" font-weight="normal" text-anchor="middle" fill="#222" transform="rotate(-90 392.6 530.9)" letter-spacing="0.3">10<tspan dy="-2.9" font-size="5.7">2</tspan></text>
<path d="M393.8,507.4 h2" stroke="#555" stroke-width="0.7"/>
<text x="392.6" y="508.0" font-size="7" font-weight="normal" text-anchor="middle" fill="#222" transform="rotate(-90 392.6 508.0)" letter-spacing="0.3">10<tspan dy="-2.9" font-size="5.7">3</tspan></text>
<path d="M393.8,484.4 h2" stroke="#555" stroke-width="0.7"/>
<text x="392.6" y="485.0" font-size="7" font-weight="normal" text-anchor="middle" fill="#222" transform="rotate(-90 392.6 485.0)" letter-spacing="0.3">10<tspan dy="-2.9" font-size="5.7">4</tspan></text>
<rect x="426.9" y="530.3" width="26.7" height="20.7" fill="none" stroke="#767676" stroke-width="1.4"/>
<rect x="453.6" y="548.7" width="25.5" height="27.0" fill="none" stroke="#4a4a4a" stroke-width="1.6"/>
<text x="440.3" y="514.0" font-size="11" font-weight="bold" text-anchor="middle" fill="#747474"  stroke="#747474" stroke-width="0.3">A1</text>
<path d="M440.8,516.8 V525.3" stroke="#747474" stroke-width="2.2"/>
<path d="M436.8,523.1 L440.8,528.3 L444.8,523.1 Z" fill="#747474"/>
<text x="483.9" y="528.7" font-size="11" font-weight="bold" text-anchor="middle" fill="#3c3c3c"  stroke="#3c3c3c" stroke-width="0.3">A2</text>
<path d="M478.3,531.7 L471.5,540.9" stroke="#3c3c3c" stroke-width="2.3"/>
<path d="M469.1,544.2 L469.7,537.2 L475.5,541.5 Z" fill="#3c3c3c"/>
<text x="456.0" y="600.4000000000001" font-size="11.6" font-weight="bold" text-anchor="middle" fill="#000"  stroke="#000" stroke-width="0.3">FITC – anti-fibrinogen</text>
</svg>
</body></html>
